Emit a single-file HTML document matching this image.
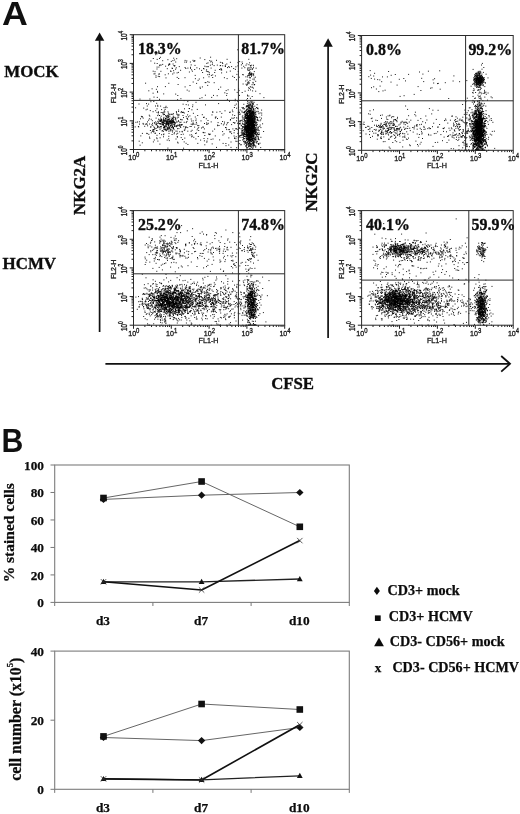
<!DOCTYPE html>
<html lang="en"><head><meta charset="utf-8"><title>Figure</title>
<style>html,body{margin:0;padding:0;background:#fff}svg{display:block;filter:grayscale(1)}</style>
</head><body>
<svg width="520" height="814" viewBox="0 0 520 814">
<rect width="520" height="814" fill="#fff"/>
<g font-family='"Liberation Sans", "DejaVu Sans", sans-serif' font-weight="bold" font-size="32.5" fill="#111">
<text transform="translate(1.9 25.4) scale(1.1 1)">A</text>
<text transform="translate(1.4 452.2) scale(0.93 1)">B</text>
</g>
<g font-family='"Liberation Serif", "DejaVu Serif", serif' font-weight="bold" font-size="16.9" fill="#0c0c0c" stroke="#0c0c0c" stroke-width=".35">
<text x="4.2" y="76.6">MOCK</text>
<text x="2.6" y="269.3">HCMV</text>
<text transform="translate(85.2 214.9) rotate(-90)">NKG2A</text>
<text transform="translate(317.3 211.6) rotate(-90)">NKG2C</text>
</g>
<text x="292.6" y="388.8" text-anchor="middle" font-family='"Liberation Serif", "DejaVu Serif", serif' font-weight="bold" font-size="16.8" fill="#0c0c0c" stroke="#0c0c0c" stroke-width=".35">CFSE</text>
<path d="M99.6 332V39" stroke="#111" stroke-width="1.7" fill="none"/>
<path d="M99.6 32.6L104.3 40.8H94.9Z" fill="#111"/>
<path d="M328.1 338V45" stroke="#111" stroke-width="1.7" fill="none"/>
<path d="M328.1 38.2L332.8 46.8H323.4Z" fill="#111"/>
<path d="M105.4 363.8H509.6" stroke="#111" stroke-width="1.8" fill="none"/>
<path d="M501.2 356.0L510 363.8L501.2 371.6" stroke="#111" stroke-width="1.8" fill="none"/>
<g>
<path d="M246.4 123.2h1M253.5 132.4h1M246.0 127.8h1M251.8 115.8h1M246.4 140.5h1M252.6 122.2h1M255.2 117.0h1M250.0 129.9h1M258.6 130.1h1M247.8 138.9h1M250.6 125.6h1M249.2 127.8h1M251.2 120.0h1M253.8 124.9h1M244.6 119.9h1M245.7 128.9h1M245.6 127.1h1M247.8 124.9h1M260.9 127.6h1M253.0 140.8h1M249.4 120.3h1M250.0 123.3h1M250.6 137.5h1M252.1 135.5h1M256.3 132.3h1M252.5 127.1h1M253.4 133.3h1M253.5 128.4h1M254.4 120.7h1M250.8 135.2h1M252.8 122.3h1M255.6 131.0h1M252.1 121.9h1M251.2 125.0h1M250.9 133.3h1M247.0 131.2h1M252.2 111.5h1M253.4 116.2h1M252.8 119.9h1M250.9 119.1h1M256.0 130.5h1M248.1 106.9h1M251.1 117.1h1M253.1 138.8h1M258.1 108.8h1M250.9 119.3h1M250.7 136.2h1M249.9 123.2h1M253.9 119.8h1M250.5 113.1h1M247.9 118.9h1M253.9 130.1h1M244.5 136.5h1M251.1 121.7h1M255.3 137.5h1M250.3 120.4h1M249.8 149.5h1M252.9 103.2h1M253.5 136.6h1M249.0 124.8h1M258.3 120.7h1M250.7 111.0h1M250.0 107.9h1M248.1 132.0h1M252.6 112.4h1M252.4 124.0h1M244.4 134.5h1M248.3 132.6h1M252.2 130.6h1M252.8 126.3h1M249.2 125.9h1M251.7 118.2h1M248.8 129.5h1M245.9 110.5h1M255.0 129.0h1M248.8 139.9h1M250.8 125.0h1M257.3 124.6h1M247.8 149.5h1M254.8 125.2h1M245.1 125.3h1M245.1 91.2h1M253.9 121.2h1M249.7 149.2h1M249.9 143.2h1M252.2 149.2h1M247.4 114.5h1M255.6 139.3h1M245.4 118.0h1M253.0 137.3h1M248.1 134.3h1M246.5 134.1h1M254.3 120.0h1M256.9 128.0h1M249.9 137.3h1M249.9 140.7h1M244.6 119.9h1M254.9 118.5h1M254.6 124.5h1M248.0 126.2h1M249.1 138.6h1M244.9 142.4h1M250.3 125.6h1M248.8 112.3h1M250.9 121.1h1M254.2 135.6h1M244.0 119.3h1M248.1 113.6h1M251.4 116.7h1M252.8 148.6h1M252.6 134.1h1M247.9 131.6h1M252.8 118.0h1M253.6 144.3h1M248.4 149.5h1M250.0 120.9h1M247.8 124.6h1M251.0 116.7h1M247.7 135.7h1M247.8 109.0h1M253.8 128.4h1M251.0 125.9h1M251.0 129.3h1M249.2 140.1h1M248.2 110.1h1M252.0 126.4h1M249.6 126.5h1M251.4 133.8h1M250.9 124.6h1M247.9 135.3h1M247.1 138.1h1M253.2 149.5h1M249.4 133.4h1M248.3 126.1h1M253.9 126.3h1M249.9 133.4h1M249.9 117.7h1M249.0 139.0h1M246.2 138.5h1M245.8 115.8h1M251.4 129.6h1M255.0 133.9h1M252.7 118.8h1M245.3 143.2h1M247.3 117.7h1M254.5 139.8h1M253.7 131.1h1M249.0 132.8h1M249.3 145.9h1M247.1 139.9h1M251.9 105.5h1M259.1 130.6h1M244.8 131.3h1M247.3 106.6h1M252.1 134.6h1M253.3 121.6h1M245.1 132.6h1M249.5 126.9h1M250.7 130.6h1M250.9 133.2h1M247.4 111.5h1M251.5 122.6h1M245.2 128.8h1M252.9 140.5h1M253.8 131.1h1M251.6 128.5h1M251.0 114.7h1M249.0 111.0h1M247.8 136.7h1M252.6 138.1h1M249.1 117.7h1M254.2 145.5h1M251.9 107.7h1M254.1 129.6h1M248.4 130.2h1M246.6 129.8h1M249.7 128.6h1M254.1 129.5h1M245.6 116.3h1M246.9 131.7h1M249.9 130.7h1M247.1 129.7h1M257.3 133.4h1M249.9 115.5h1M252.7 119.2h1M253.1 147.4h1M247.5 125.8h1M251.9 113.7h1M251.8 129.6h1M250.4 129.3h1M251.1 120.1h1M249.2 135.5h1M247.6 115.8h1M254.4 116.9h1M253.1 118.5h1M250.3 120.3h1M246.9 129.2h1M247.9 119.6h1M248.4 128.2h1M251.6 113.1h1M247.8 136.8h1M252.9 138.5h1M251.8 133.0h1M250.0 145.9h1M252.6 132.3h1M247.4 105.7h1M252.6 90.9h1M251.6 130.7h1M250.6 110.5h1M250.2 122.5h1M252.0 136.5h1M250.7 132.3h1M246.3 118.1h1M252.4 126.3h1M247.4 147.8h1M251.9 128.1h1M244.9 127.7h1M245.4 127.4h1M250.8 123.4h1M251.0 125.3h1M246.6 131.1h1M248.7 129.5h1M251.2 120.7h1M255.6 149.5h1M251.6 129.2h1M257.6 117.5h1M245.0 123.0h1M248.6 116.8h1M246.9 128.2h1M249.9 128.1h1M248.4 146.1h1M251.8 116.8h1M250.1 137.6h1M251.0 121.3h1M249.7 127.3h1M254.8 138.7h1M248.5 146.8h1M248.1 134.8h1M247.2 134.3h1M256.1 129.1h1M249.9 104.4h1M250.1 145.0h1M251.6 136.8h1M255.6 140.0h1M248.4 143.7h1M250.6 137.6h1M250.1 131.0h1M248.3 117.4h1M253.3 126.5h1M247.4 138.2h1M251.2 102.4h1M248.8 135.2h1M248.1 138.4h1M247.2 129.2h1M254.9 127.1h1M248.7 143.8h1M251.0 127.4h1M246.4 138.3h1M250.2 116.7h1M252.3 125.0h1M249.3 123.8h1M250.3 104.7h1M246.7 130.9h1M254.4 129.9h1M254.9 127.6h1M250.8 130.9h1M245.9 137.1h1M257.4 120.4h1M252.2 117.3h1M252.1 116.6h1M249.4 129.4h1M253.5 130.8h1M246.0 129.4h1M248.6 120.8h1M248.0 138.1h1M249.2 111.1h1M250.1 125.5h1M250.3 124.1h1M253.3 112.7h1M245.0 113.1h1M250.3 130.4h1M258.0 128.9h1M256.6 117.1h1M247.0 122.1h1M252.7 128.4h1M242.8 130.7h1M249.7 138.6h1M256.2 129.6h1M249.0 130.2h1M247.8 135.1h1M250.6 123.9h1M248.7 128.0h1M245.8 121.7h1M247.9 124.9h1M247.4 132.4h1M251.0 139.6h1M258.2 127.5h1M250.1 134.7h1M255.4 112.8h1M251.3 141.2h1M248.7 120.8h1M248.7 139.3h1M246.5 135.1h1M250.3 133.8h1M250.4 98.3h1M256.0 137.8h1M251.4 126.2h1M249.9 116.3h1M249.2 130.5h1M249.1 128.2h1M254.4 119.1h1M246.0 131.7h1M247.7 118.7h1M251.0 117.9h1M250.1 146.8h1M251.8 124.8h1M251.9 140.6h1M250.6 134.2h1M248.1 123.5h1M251.4 136.3h1M244.8 149.5h1M248.5 115.5h1M250.1 149.5h1M247.5 122.8h1M255.7 115.0h1M251.5 125.1h1M246.9 131.8h1M249.2 135.1h1M250.5 131.2h1M251.4 112.3h1M252.7 122.8h1M249.5 142.8h1M249.9 121.5h1M247.1 114.2h1M249.2 123.3h1M249.2 140.1h1M256.9 139.1h1M253.3 132.9h1M251.2 135.4h1M249.0 117.6h1M256.6 135.9h1M250.3 117.3h1M248.3 119.8h1M247.8 120.9h1M251.7 114.6h1M251.5 139.4h1M252.4 138.5h1M252.7 111.5h1M252.2 132.8h1M254.1 125.4h1M246.3 130.8h1M254.9 130.3h1M250.7 130.7h1M244.9 132.4h1M251.4 125.0h1M249.7 149.2h1M254.2 119.7h1M253.6 113.7h1M248.9 133.4h1M251.3 109.8h1M244.9 129.5h1M248.0 121.3h1M255.0 130.2h1M246.3 126.6h1M249.4 143.1h1M253.1 132.5h1M252.5 140.7h1M253.8 142.0h1M253.7 145.8h1M254.7 131.0h1M245.3 129.5h1M251.4 137.3h1M248.7 124.3h1M248.9 122.7h1M251.3 116.7h1M248.1 100.7h1M252.9 123.9h1M253.8 117.3h1M250.6 133.5h1M253.6 122.7h1M244.2 138.5h1M251.8 126.0h1M251.2 120.5h1M250.8 110.8h1M248.4 131.2h1M251.3 119.4h1M252.8 111.7h1M248.8 115.1h1M251.8 137.9h1M249.9 105.6h1M252.8 132.0h1M242.6 134.7h1M248.0 126.3h1M257.7 119.4h1M251.3 136.8h1M246.5 129.3h1M248.8 96.0h1M249.0 133.5h1M253.9 126.3h1M246.3 113.8h1M249.3 140.8h1M251.3 122.1h1M249.2 119.9h1M252.9 136.2h1M243.7 149.5h1M249.9 114.4h1M253.5 112.7h1M256.3 126.9h1M253.7 142.9h1M252.5 123.1h1M250.0 131.7h1M246.7 125.7h1M254.4 130.9h1M252.0 134.0h1M251.1 137.5h1M251.5 129.4h1M251.3 133.4h1M246.5 130.5h1M253.6 110.8h1M249.3 118.9h1M252.7 123.1h1M245.3 123.8h1M247.2 115.0h1M252.8 120.7h1M242.2 120.7h1M252.6 140.3h1M253.4 126.3h1M249.7 134.5h1M247.0 131.6h1M260.2 125.0h1M251.0 133.8h1M248.3 132.8h1M247.5 118.1h1M249.4 118.2h1M246.6 117.5h1M250.2 120.2h1M250.0 136.3h1M254.2 131.6h1M249.8 136.3h1M251.0 131.1h1M251.2 123.6h1M248.1 141.7h1M251.7 117.6h1M252.5 138.9h1M252.2 123.1h1M251.2 122.7h1M249.3 124.9h1M253.3 132.3h1M245.7 128.2h1M250.9 146.2h1M248.1 121.0h1M249.8 126.2h1M246.3 117.7h1M255.9 129.2h1M247.9 139.1h1M253.2 126.0h1M247.7 114.6h1M252.8 120.9h1M244.6 128.2h1M252.3 139.8h1M253.3 112.3h1M253.6 134.6h1M248.0 117.4h1M253.5 114.4h1M254.2 128.1h1M249.0 146.3h1M252.8 103.6h1M248.8 132.0h1M252.4 123.2h1M245.9 134.5h1M246.8 106.2h1M248.0 118.3h1M256.5 107.5h1M254.9 110.3h1M246.3 130.7h1M248.0 130.1h1M258.7 144.5h1M252.1 139.9h1M254.6 113.7h1M248.7 105.7h1M250.5 113.6h1M251.3 132.9h1M249.1 128.3h1M252.3 125.8h1M257.9 129.1h1M248.8 134.5h1M247.8 142.0h1M247.1 117.7h1M250.5 128.9h1M251.4 116.1h1M252.3 119.1h1M248.5 129.8h1M247.8 128.1h1M247.7 131.0h1M249.7 129.3h1M249.4 132.2h1M254.5 130.6h1M247.1 125.1h1M246.8 138.2h1M250.6 144.3h1M240.0 124.1h1M253.6 144.4h1M247.4 121.2h1M243.9 136.1h1M246.4 129.2h1M244.0 117.9h1M249.8 124.0h1M249.2 149.0h1M249.8 141.0h1M250.3 135.9h1M249.3 129.3h1M252.8 119.2h1M247.1 127.3h1M255.0 122.0h1M248.0 128.4h1M249.2 117.4h1M250.4 123.2h1M257.4 141.4h1M247.0 145.0h1M245.2 118.3h1M251.2 110.3h1M244.0 136.2h1M254.9 116.5h1M253.1 118.1h1M250.4 127.2h1M250.4 118.4h1M249.8 123.8h1M255.0 138.7h1M247.9 121.3h1M249.5 128.7h1M257.0 122.8h1M249.0 115.8h1M258.4 138.6h1M248.1 125.9h1M248.3 104.7h1M252.0 131.2h1M251.9 135.3h1M248.4 126.0h1M258.0 149.5h1M251.7 113.2h1M252.7 107.3h1M251.7 125.6h1M249.9 136.0h1M255.6 139.3h1M249.9 132.5h1M247.8 149.5h1M249.1 125.7h1M250.8 118.4h1M249.8 133.7h1M251.3 120.2h1M247.4 142.8h1M247.0 116.2h1M253.5 136.3h1M250.7 118.4h1M254.6 133.9h1M249.5 112.6h1M258.0 111.3h1M246.6 122.5h1M249.3 127.7h1M248.2 132.1h1M250.3 108.5h1M252.5 122.7h1M250.4 134.9h1M249.6 114.3h1M253.0 106.8h1M251.1 127.3h1M245.1 123.0h1M244.8 111.4h1M248.3 127.1h1M246.0 132.2h1M247.3 115.4h1M251.1 139.3h1M244.1 127.8h1M248.7 138.6h1M252.2 129.0h1M250.7 133.2h1M248.5 131.9h1M245.2 120.6h1M251.6 144.9h1M250.6 115.2h1M251.1 113.7h1M249.4 127.1h1M246.1 136.5h1M244.4 136.4h1M251.1 121.7h1M254.0 125.8h1M247.1 122.7h1M249.8 108.7h1M256.6 117.2h1M246.7 132.5h1M250.9 134.5h1M252.0 120.0h1M253.0 124.8h1M247.5 135.8h1M249.9 113.4h1M255.4 117.0h1M251.5 120.1h1M252.9 113.8h1M253.1 143.0h1M253.4 123.1h1M248.8 121.7h1M251.2 127.7h1M244.9 126.0h1M252.1 127.6h1M245.2 122.4h1M252.6 125.2h1M251.7 130.8h1M248.2 121.7h1M249.2 125.2h1M260.8 119.8h1M250.7 143.9h1M250.6 119.3h1M248.0 129.6h1M243.1 121.4h1M248.4 120.0h1M254.7 128.8h1M253.5 124.5h1M249.6 130.0h1M247.6 113.9h1M253.1 137.5h1M253.0 134.7h1M245.5 114.7h1M246.2 114.9h1M250.9 117.8h1M251.9 115.2h1M251.4 121.1h1M251.1 115.8h1M249.0 116.6h1M255.1 127.8h1M251.7 132.4h1M249.4 124.4h1M249.2 136.3h1M250.2 125.1h1M251.3 119.8h1M244.6 112.5h1M249.8 135.1h1M249.1 122.5h1M253.1 130.9h1M250.8 143.6h1M250.8 128.3h1M248.9 118.0h1M256.1 116.4h1M247.8 111.3h1M249.2 127.5h1M248.4 122.4h1M252.1 125.6h1M249.6 128.6h1M249.0 117.1h1M248.6 128.6h1M249.6 134.8h1M249.6 142.2h1M251.6 121.5h1M249.3 111.1h1M247.7 121.4h1M251.8 132.6h1M249.5 117.9h1M250.5 124.2h1M254.8 124.9h1M245.0 134.7h1M253.0 128.4h1M246.9 147.5h1M251.3 111.7h1M246.3 149.4h1M251.9 132.7h1M249.4 130.4h1M247.4 122.6h1M253.2 123.4h1M248.5 116.4h1M250.0 121.1h1M247.3 120.4h1M252.7 113.9h1M250.4 122.6h1M248.5 118.0h1M252.8 116.0h1M249.1 139.6h1M250.1 129.2h1M247.9 120.9h1M253.3 123.1h1M253.8 123.0h1M247.2 133.1h1M249.2 120.1h1M253.2 125.7h1M253.5 135.5h1M249.9 111.8h1M251.7 116.4h1M244.3 144.1h1M247.6 116.8h1M255.5 133.4h1M247.2 137.4h1M247.5 121.4h1M249.3 107.9h1M252.6 134.1h1M251.1 128.7h1M252.8 117.9h1M249.2 118.0h1M252.1 128.0h1M251.1 120.2h1M249.3 134.0h1M254.3 127.0h1M248.4 122.4h1M245.6 126.5h1M246.0 131.4h1M244.7 134.4h1M253.1 128.9h1M246.5 109.4h1M248.3 112.0h1M248.7 141.9h1M256.1 131.4h1M252.7 115.0h1M246.2 126.3h1M248.5 120.9h1M250.3 139.9h1M250.5 119.3h1M249.4 121.4h1M248.6 127.6h1M251.4 125.6h1M254.3 117.4h1M253.0 119.7h1M250.8 138.8h1M253.7 109.4h1M251.0 129.6h1M250.2 114.8h1M251.2 137.0h1M249.8 134.8h1M249.7 136.1h1M247.6 112.0h1M253.6 143.3h1M247.2 131.6h1M249.1 141.0h1M253.1 143.3h1M252.5 120.0h1M249.2 133.7h1M250.5 125.5h1M243.7 139.7h1M252.0 128.1h1M249.0 137.1h1M248.1 134.8h1M259.1 139.7h1M255.1 122.2h1M251.0 125.1h1M249.1 110.8h1M251.9 127.3h1M249.9 125.0h1M246.7 130.3h1M248.4 120.8h1M252.2 145.9h1M249.6 117.0h1M246.3 139.0h1M253.5 128.3h1M248.9 139.3h1M250.9 132.7h1M251.0 122.7h1M252.5 130.3h1M248.7 126.7h1M250.0 125.3h1M248.7 129.4h1M248.5 133.0h1M250.8 115.4h1M248.6 121.1h1M251.4 125.9h1M252.5 132.7h1M252.1 124.0h1M239.4 123.4h1M252.2 107.3h1M247.0 126.1h1M251.4 136.8h1M254.1 122.5h1M247.8 139.1h1M249.0 103.0h1M257.1 149.5h1M244.6 120.3h1M250.0 133.5h1M252.2 126.1h1M251.2 124.4h1M246.9 113.7h1M248.9 115.6h1M252.5 126.6h1M250.8 127.5h1M244.5 130.3h1M251.7 143.4h1M245.6 116.1h1M252.9 142.7h1M251.8 127.5h1M253.4 130.3h1M249.6 134.7h1M250.9 128.3h1M248.3 130.6h1M247.9 120.7h1M247.1 142.8h1M247.3 116.0h1M248.7 120.5h1M252.6 132.2h1M252.7 121.9h1M250.2 134.2h1M250.1 140.1h1M249.4 133.0h1M251.7 123.6h1M248.3 118.3h1M254.1 126.4h1M248.0 121.9h1M242.6 133.0h1M252.2 106.7h1M248.0 111.5h1M257.7 107.9h1M242.8 115.8h1M250.9 116.7h1M249.8 133.3h1M249.6 111.7h1M253.0 130.1h1M251.5 118.2h1M252.1 127.5h1M248.2 134.7h1M248.9 132.7h1M245.3 141.5h1M253.1 138.5h1M246.1 127.5h1M254.9 114.2h1M249.0 137.7h1M248.6 136.4h1M248.6 122.2h1M246.9 135.1h1M249.5 127.4h1M247.9 135.2h1M246.7 134.8h1M252.0 129.6h1M240.4 120.8h1M250.1 136.0h1M245.0 115.1h1M257.1 104.7h1M248.0 126.7h1M252.8 139.7h1M255.9 134.5h1M251.4 138.9h1M251.5 127.3h1M253.8 139.0h1M250.3 108.4h1M246.5 123.5h1M251.7 132.2h1M249.4 112.5h1M254.0 121.3h1M251.2 138.8h1M250.6 108.6h1M253.7 141.1h1M243.7 134.0h1M250.8 132.8h1M249.3 123.6h1M253.2 124.9h1M254.3 141.8h1M251.8 122.7h1M245.5 114.2h1M245.2 142.0h1M258.9 113.7h1M251.5 113.1h1M254.0 138.8h1M251.9 112.6h1M249.8 126.3h1M248.8 119.5h1M248.5 133.2h1M246.4 136.7h1M251.0 122.2h1M249.1 138.0h1M251.4 123.4h1M254.4 132.2h1M249.0 121.8h1M255.2 127.6h1M250.0 136.8h1M249.1 117.3h1M253.1 115.5h1M245.0 118.4h1M247.3 120.9h1M242.6 128.1h1M247.5 113.9h1M250.7 113.6h1M248.9 106.6h1M248.9 107.4h1M248.7 137.3h1M253.2 131.3h1M250.1 141.1h1M249.2 125.9h1M248.0 123.0h1M242.9 117.8h1M249.0 111.8h1M249.2 133.9h1M248.8 124.2h1M252.2 131.9h1M247.7 122.6h1M253.0 145.3h1M246.9 134.1h1M255.9 114.2h1M252.9 121.9h1M246.7 115.4h1M248.9 135.4h1M256.6 142.2h1M254.8 125.0h1M247.3 125.2h1M247.6 125.1h1M248.2 139.5h1M258.9 132.3h1M253.5 127.6h1M252.5 140.3h1M253.6 122.4h1M246.5 118.3h1M252.2 96.5h1M251.1 117.5h1M252.3 119.0h1M250.2 131.4h1M252.6 114.2h1M246.5 139.0h1M250.2 108.3h1M249.6 144.9h1M252.9 119.2h1M256.6 125.1h1M256.7 134.6h1M253.3 125.7h1M246.4 130.0h1M254.6 115.4h1M249.1 115.5h1M253.3 117.7h1M251.2 123.9h1M247.6 127.8h1M250.7 134.8h1M249.4 125.3h1M251.0 116.0h1M247.0 131.2h1M251.2 131.0h1M251.4 132.0h1M254.2 129.5h1M246.6 119.2h1M255.7 147.2h1M249.9 126.3h1M253.7 111.4h1M249.8 143.4h1M252.5 116.5h1M251.8 126.2h1M247.7 101.6h1M246.4 142.8h1M253.5 124.1h1M252.5 123.3h1M255.8 112.2h1M248.5 116.6h1M246.5 144.9h1M254.2 131.5h1M243.3 127.2h1M248.2 121.7h1M250.1 135.1h1M248.0 119.0h1M247.3 125.7h1M247.1 122.3h1M256.1 121.1h1M253.9 122.3h1M247.2 130.2h1M250.6 122.5h1M248.4 120.6h1M248.0 126.4h1M250.3 139.1h1M253.6 126.5h1M250.7 127.4h1M243.5 141.7h1M247.4 116.7h1M248.5 120.7h1M247.0 135.8h1M248.8 116.0h1M245.0 128.9h1M251.6 125.6h1M250.3 118.9h1M251.3 137.5h1M252.4 135.2h1M249.2 111.9h1M258.2 111.9h1M251.7 135.1h1M247.9 109.7h1M251.4 141.5h1M255.4 121.0h1M254.6 122.8h1M243.3 134.7h1M249.9 128.8h1M255.2 134.0h1M250.0 127.6h1M250.0 137.8h1M246.4 149.5h1M251.4 129.2h1M251.0 138.0h1M250.3 137.2h1M247.0 123.5h1M252.4 121.0h1M250.2 131.1h1M254.8 114.1h1M248.3 138.4h1M251.5 123.7h1M247.4 103.3h1M243.6 135.7h1M251.1 116.7h1M244.3 131.6h1M255.0 112.4h1M249.5 126.7h1M247.5 122.9h1M246.9 148.2h1M245.4 126.5h1M246.0 115.5h1M254.5 116.7h1M252.4 115.2h1M251.2 118.0h1M251.8 118.9h1M247.0 133.9h1M247.1 118.4h1M252.0 135.3h1M247.1 133.1h1M253.1 128.2h1M249.5 134.2h1M249.9 110.4h1M248.1 130.7h1M255.8 119.5h1M246.6 115.7h1M246.2 121.2h1M242.1 137.4h1M253.3 133.2h1M248.0 126.5h1M250.3 131.9h1M248.1 108.3h1M255.2 123.6h1M246.6 132.5h1M249.4 122.0h1M255.5 132.5h1M250.8 131.5h1M250.8 134.2h1M251.5 115.0h1M249.0 130.5h1M250.7 140.7h1M256.2 141.0h1M249.2 136.2h1M255.2 132.1h1M248.7 107.4h1M249.9 135.1h1M250.3 125.0h1M247.9 128.9h1M249.6 119.5h1M252.8 118.4h1M249.9 118.7h1M249.6 115.0h1M251.6 131.5h1M254.3 142.8h1M247.2 135.3h1M249.9 139.8h1M246.4 146.7h1M250.7 135.0h1M257.4 119.0h1M246.6 113.3h1M250.7 115.8h1M246.7 115.0h1M253.9 131.4h1M247.6 131.0h1M251.2 102.0h1M256.2 111.4h1M249.6 130.4h1M251.5 129.9h1M248.8 129.2h1M253.1 127.7h1M251.1 129.8h1M249.7 130.5h1M254.4 124.6h1M255.2 128.8h1M253.8 141.4h1M249.0 127.7h1M248.3 128.2h1M247.3 128.7h1M248.2 127.1h1M249.4 137.4h1M249.0 126.7h1M246.2 126.0h1M254.4 129.4h1M252.1 120.6h1M247.7 113.3h1M258.4 137.7h1M257.3 134.4h1M255.0 145.9h1M254.0 125.6h1M246.2 135.6h1M246.9 136.4h1M251.5 128.9h1M242.2 130.3h1M251.8 126.1h1M255.8 146.1h1M251.1 126.7h1M252.7 141.0h1M246.1 128.8h1M250.6 145.9h1M251.5 127.1h1M252.7 149.5h1M251.9 136.3h1M248.8 118.9h1M255.8 125.5h1M250.0 113.4h1M247.4 128.6h1M248.7 137.3h1M251.0 105.9h1M251.1 121.9h1M250.2 115.3h1M250.9 136.2h1M250.6 112.1h1M250.1 114.6h1M250.1 106.0h1M251.2 120.2h1M249.4 118.4h1M249.6 142.4h1M251.3 139.6h1M255.1 118.8h1M250.4 119.9h1M241.9 111.1h1M248.2 120.1h1M258.6 143.8h1M249.0 123.5h1M251.7 144.6h1M247.3 111.6h1M248.4 121.3h1M245.9 136.5h1M244.4 124.2h1M254.1 126.1h1M249.4 124.5h1M251.8 130.1h1M252.1 106.7h1M257.5 133.0h1M246.2 107.1h1M253.5 114.4h1M252.3 129.4h1M253.5 115.4h1M254.1 138.3h1M253.7 130.7h1M249.2 123.4h1M249.2 102.9h1M252.2 124.2h1M249.7 124.4h1M249.6 121.0h1M253.1 118.3h1M246.3 130.5h1M250.6 139.7h1M251.6 128.5h1M250.5 123.0h1M248.3 110.8h1M253.7 132.7h1M251.8 119.3h1M247.9 130.7h1M252.6 149.5h1M246.1 123.6h1M252.3 136.6h1M253.1 104.0h1M251.0 127.4h1M250.6 137.5h1M252.1 125.1h1M252.7 112.2h1M250.5 125.1h1M251.4 108.9h1M245.6 127.0h1M248.3 125.7h1M253.0 126.3h1M252.7 125.0h1M248.0 133.8h1M245.9 124.7h1M249.1 118.3h1M253.5 136.2h1M246.8 120.7h1M247.5 124.8h1M252.3 131.0h1M256.1 135.0h1M251.7 131.3h1M241.0 128.8h1M249.8 121.0h1M249.9 134.6h1M248.7 130.1h1M252.8 129.9h1M254.3 118.1h1M247.9 116.3h1M243.0 126.7h1M247.2 128.0h1M254.1 127.0h1M249.8 113.7h1M247.9 135.6h1M253.5 120.6h1M245.7 125.4h1M252.9 128.7h1M249.0 125.6h1M251.0 134.3h1M253.0 143.4h1M250.1 104.8h1M246.9 127.4h1M243.0 135.6h1M246.6 126.4h1M248.7 107.9h1M247.4 127.3h1M251.0 120.3h1M253.2 143.2h1M257.4 130.2h1M248.0 144.1h1M248.9 145.4h1M250.9 133.2h1M251.4 135.2h1M250.6 103.9h1M254.1 125.3h1M247.2 111.9h1M244.9 141.7h1M254.5 133.2h1M254.7 121.1h1M257.4 108.5h1M252.2 133.6h1M252.2 112.5h1M250.8 149.5h1M249.1 130.8h1M250.1 130.7h1M254.0 140.2h1M251.7 147.6h1M243.3 137.5h1M247.9 136.3h1M248.1 120.7h1M252.2 126.2h1M251.0 134.3h1M247.1 141.8h1M249.0 138.8h1M249.3 119.6h1M252.1 113.3h1M247.3 149.5h1M246.7 106.4h1M252.6 131.6h1M254.6 131.4h1M255.7 131.3h1M249.0 119.9h1M246.6 128.8h1M256.5 122.6h1M246.8 129.7h1M250.2 134.9h1M251.6 114.2h1M250.5 117.9h1M251.3 125.7h1M247.9 117.1h1M254.7 131.8h1M247.5 121.7h1M250.6 115.5h1M251.9 128.5h1M245.8 120.7h1M250.6 140.2h1M245.5 146.0h1M252.3 131.6h1M239.6 136.2h1M248.3 128.3h1M250.4 130.6h1M252.7 116.5h1M249.6 110.8h1M249.9 136.1h1M250.8 142.0h1M249.3 138.1h1M248.9 125.1h1M242.4 123.1h1M251.1 129.4h1M252.6 123.6h1M249.1 137.5h1M252.7 119.3h1M245.5 134.7h1M246.5 118.5h1M248.4 140.1h1M255.1 122.4h1M251.0 124.6h1M249.7 126.8h1M253.2 122.6h1M248.8 126.2h1M256.3 132.9h1M246.0 126.0h1M246.6 100.0h1M252.3 121.1h1M251.5 106.8h1M247.0 127.7h1M244.9 114.3h1M250.0 108.8h1M249.4 138.0h1M248.0 118.8h1M247.6 124.5h1M247.9 134.6h1M248.5 110.3h1M246.8 123.9h1M252.9 134.9h1M245.4 111.6h1M255.9 129.8h1M246.4 118.2h1M250.1 135.8h1M249.0 149.5h1M247.6 139.9h1M246.0 121.1h1M251.1 109.6h1M241.6 134.1h1M247.5 113.4h1M253.6 126.0h1M250.6 135.1h1M248.6 131.9h1M242.1 107.5h1M252.6 105.6h1M254.3 122.1h1M253.0 144.9h1M247.0 118.4h1M249.0 144.1h1M250.2 140.7h1M250.2 101.2h1M242.8 130.4h1M253.8 124.3h1M251.4 136.2h1M249.0 105.3h1M242.9 126.6h1M254.8 106.2h1M257.7 136.8h1M247.5 98.5h1M247.1 119.8h1M244.7 133.5h1M230.9 131.9h1M235.9 138.7h1M243.8 104.3h1M255.1 118.1h1M246.8 144.2h1M253.3 136.0h1M249.4 110.3h1M248.9 124.4h1M243.7 108.8h1M253.6 113.7h1M260.7 147.6h1M250.3 114.7h1M252.3 119.6h1M253.2 146.3h1M249.6 107.1h1M249.8 126.9h1M255.6 149.5h1M252.7 102.0h1M248.5 136.0h1M253.6 130.6h1M244.8 121.6h1M239.3 114.3h1M242.3 132.0h1M254.9 124.5h1M251.8 104.0h1M260.0 93.7h1M246.5 110.7h1M239.4 112.4h1M258.6 134.6h1M253.2 111.8h1M249.1 133.3h1M260.0 143.2h1M251.2 110.2h1M251.7 101.0h1M259.8 117.2h1M261.7 113.1h1M242.1 128.8h1M251.9 121.2h1M239.1 90.6h1M240.0 140.5h1M253.1 121.1h1M260.1 120.8h1M252.6 113.4h1M245.4 142.9h1M247.1 109.2h1M248.3 105.8h1M246.6 113.0h1M250.3 111.7h1M250.2 121.1h1M247.1 105.8h1M249.9 116.7h1M254.4 137.0h1M244.8 124.6h1M258.5 139.3h1M243.5 138.3h1M247.6 139.5h1M244.8 116.3h1M243.1 124.1h1M242.5 126.9h1M253.6 149.5h1M250.5 120.7h1M249.8 120.2h1M252.9 142.8h1M249.4 114.6h1M258.6 143.7h1M246.3 143.8h1M250.1 139.5h1M243.8 112.7h1M264.8 149.5h1M260.9 137.3h1M254.6 118.8h1M258.2 126.9h1M244.8 124.8h1M255.3 136.9h1M252.8 124.0h1M251.4 123.8h1M254.1 112.2h1M248.3 129.0h1M236.2 136.7h1M240.3 114.1h1M243.2 134.0h1M253.6 109.5h1M258.1 136.3h1M251.8 108.4h1M244.7 127.2h1M242.3 133.2h1M254.8 122.5h1M247.8 132.0h1M260.1 112.9h1M242.2 92.5h1M247.5 126.1h1M247.0 132.1h1M254.4 144.8h1M250.4 128.6h1M261.5 118.2h1M253.0 116.2h1M254.1 122.1h1M234.3 117.7h1M248.1 113.6h1M252.2 131.8h1M244.4 138.6h1M252.1 125.4h1M244.5 129.1h1M252.5 133.5h1M249.4 132.6h1M233.4 122.5h1M250.6 112.1h1M258.7 134.3h1M254.1 120.0h1M250.7 111.8h1M255.9 142.1h1M259.8 126.4h1M245.9 133.8h1M248.8 140.1h1M257.3 117.6h1M244.4 111.9h1M251.8 122.6h1M256.5 125.2h1M248.5 116.5h1M238.4 141.2h1M253.5 108.4h1M239.4 123.6h1M245.9 127.9h1M254.1 102.3h1M261.6 110.1h1M254.4 121.7h1M238.2 118.1h1M242.5 139.9h1M251.0 146.6h1M261.7 115.1h1M252.6 116.8h1M251.8 122.9h1M254.8 133.5h1M252.0 121.4h1M255.3 139.7h1M251.8 125.7h1M254.3 116.0h1M251.4 117.1h1M253.1 104.1h1M252.2 116.1h1M244.2 126.8h1M255.2 108.7h1M243.9 124.4h1M248.5 123.0h1M247.1 129.9h1M249.9 122.0h1M256.8 136.1h1M244.0 112.4h1M253.5 126.5h1M242.8 108.6h1M243.3 107.5h1M251.9 125.9h1M249.2 112.0h1M250.3 148.8h1M245.7 149.5h1M252.8 110.5h1M256.9 143.2h1M263.9 97.6h1M249.5 149.5h1M244.6 108.8h1M263.6 131.5h1M238.4 137.7h1M262.6 123.8h1M241.2 149.5h1M254.3 112.2h1M247.2 126.7h1M250.7 128.7h1M246.7 132.1h1M246.4 106.1h1M252.8 109.1h1M262.1 149.5h1M249.8 110.0h1M248.9 132.4h1M252.8 131.4h1M244.8 128.2h1M250.6 123.7h1M256.0 123.5h1M247.2 80.0h1M248.8 127.7h1M249.3 133.9h1M240.1 121.0h1M259.6 149.5h1M245.4 117.7h1M245.9 116.2h1M249.9 139.6h1M248.8 131.2h1M252.9 104.7h1M251.1 74.5h1M249.2 73.7h1M250.3 86.7h1M247.5 95.1h1M251.8 75.0h1M253.5 74.3h1M252.5 87.2h1M245.7 81.0h1M249.8 73.5h1M250.3 77.7h1M250.8 74.4h1M251.2 73.8h1M249.3 77.1h1M246.8 85.4h1M249.9 72.9h1M248.7 87.7h1M253.2 83.1h1M246.1 84.2h1M247.5 95.9h1M249.6 62.8h1M248.7 83.0h1M253.7 75.7h1M250.4 65.5h1M247.5 76.9h1M252.0 74.8h1M247.5 83.9h1M255.4 77.2h1M250.0 67.7h1M245.9 76.8h1M246.0 65.2h1M248.0 75.5h1M248.2 75.4h1M251.5 76.3h1M249.8 74.4h1M250.0 80.4h1M252.3 69.5h1M247.1 84.5h1M248.6 74.0h1M246.9 63.9h1M250.8 75.1h1M253.0 82.4h1M251.6 73.1h1M254.1 84.8h1M254.3 71.6h1M251.3 67.8h1M250.0 77.9h1M252.9 79.2h1M253.5 65.3h1M251.2 74.9h1M249.0 83.7h1M254.5 84.6h1M250.9 74.0h1M248.3 81.8h1M248.8 59.3h1M251.7 65.2h1M256.1 68.2h1M254.2 79.8h1M248.9 64.7h1M254.6 84.5h1M253.7 73.9h1M252.8 68.5h1M255.7 81.3h1M250.7 66.1h1M250.0 71.9h1M250.5 89.9h1M249.2 69.1h1M249.3 88.5h1M249.4 75.4h1M252.0 73.5h1M252.1 84.7h1M249.1 82.3h1M249.6 72.6h1M254.2 78.1h1M253.5 67.3h1M247.7 82.7h1M251.1 87.2h1M255.7 91.2h1M247.5 69.9h1M248.8 70.4h1M248.1 67.7h1M249.2 70.3h1M253.4 88.1h1M248.4 90.2h1M247.8 68.7h1M250.7 69.3h1M175.7 118.3h1M171.8 124.1h1M165.5 121.1h1M172.6 118.1h1M169.4 123.6h1M167.2 115.7h1M169.3 114.4h1M163.7 118.9h1M168.9 119.3h1M163.4 121.0h1M167.3 123.5h1M161.0 128.1h1M165.8 120.2h1M169.2 121.4h1M169.5 127.8h1M173.7 122.1h1M163.5 124.6h1M173.3 121.6h1M158.3 114.0h1M159.4 115.5h1M172.5 126.4h1M174.8 117.3h1M173.6 119.8h1M169.6 121.5h1M164.7 121.3h1M175.0 122.8h1M178.9 128.6h1M167.9 128.3h1M157.8 121.3h1M165.9 124.6h1M161.8 123.3h1M158.6 123.1h1M164.8 127.4h1M170.1 129.8h1M170.2 121.3h1M170.7 121.8h1M172.2 123.4h1M161.6 120.8h1M163.3 123.8h1M168.4 126.1h1M173.3 128.5h1M174.7 122.5h1M177.3 117.9h1M171.6 121.2h1M168.4 127.9h1M164.6 126.1h1M163.7 122.9h1M163.3 121.8h1M166.3 124.2h1M170.0 120.5h1M160.2 123.6h1M184.2 122.3h1M170.4 125.9h1M173.3 116.2h1M171.0 122.9h1M167.9 129.9h1M171.1 123.6h1M170.0 120.9h1M168.9 114.0h1M172.9 125.0h1M171.2 119.8h1M168.0 116.7h1M165.7 129.4h1M161.7 120.8h1M162.2 121.7h1M159.2 120.8h1M166.3 126.0h1M164.6 123.4h1M172.9 121.4h1M166.6 121.7h1M172.8 120.5h1M177.6 125.2h1M172.4 121.9h1M164.2 120.0h1M172.5 118.4h1M170.5 125.9h1M168.7 120.8h1M177.1 121.9h1M168.6 116.1h1M168.1 124.1h1M169.4 119.3h1M168.6 129.0h1M165.5 118.4h1M163.6 118.9h1M168.7 125.5h1M172.2 130.9h1M156.0 128.5h1M170.7 123.5h1M171.3 122.7h1M168.5 124.4h1M165.5 118.4h1M172.1 127.7h1M171.0 114.3h1M172.0 126.1h1M171.9 121.5h1M166.0 118.5h1M174.7 124.4h1M168.4 123.9h1M167.8 116.0h1M165.3 120.1h1M169.2 122.0h1M161.4 119.9h1M161.6 119.5h1M167.3 121.8h1M165.2 125.8h1M162.0 122.3h1M167.3 121.2h1M166.1 119.3h1M168.6 121.9h1M166.4 122.4h1M171.4 125.1h1M161.0 120.8h1M170.1 122.2h1M169.1 127.5h1M162.3 122.4h1M167.6 127.3h1M170.4 129.9h1M174.7 126.5h1M164.6 126.5h1M160.2 123.6h1M157.2 123.7h1M168.7 123.5h1M167.6 128.1h1M157.4 127.6h1M173.6 121.1h1M157.7 115.6h1M171.2 118.1h1M173.4 117.2h1M158.3 122.1h1M163.4 114.7h1M171.6 122.4h1M166.3 130.7h1M168.3 125.7h1M175.3 119.4h1M167.3 123.9h1M173.9 124.5h1M173.9 121.6h1M166.1 120.9h1M177.5 128.7h1M171.9 119.5h1M166.3 116.6h1M171.5 120.2h1M162.1 120.1h1M160.5 120.4h1M179.7 125.9h1M176.4 126.7h1M168.1 119.5h1M159.6 121.1h1M163.4 124.8h1M172.4 122.7h1M170.0 122.3h1M169.8 116.2h1M168.4 123.5h1M167.9 119.5h1M170.3 130.9h1M167.3 120.7h1M182.3 124.7h1M166.2 127.0h1M167.3 129.4h1M163.0 122.7h1M159.3 123.5h1M163.9 117.4h1M176.6 114.0h1M168.5 119.7h1M181.0 125.0h1M177.2 126.0h1M173.6 128.6h1M165.5 123.2h1M166.3 130.1h1M168.4 123.5h1M176.0 120.1h1M155.6 121.9h1M173.7 122.8h1M163.7 127.8h1M165.6 126.1h1M166.2 123.7h1M174.9 126.3h1M169.6 126.8h1M169.2 118.3h1M164.5 127.1h1M167.9 122.3h1M164.1 120.7h1M168.1 119.7h1M160.0 119.4h1M174.8 125.7h1M178.8 121.5h1M160.4 126.6h1M163.5 125.0h1M166.4 121.2h1M166.5 123.7h1M162.3 130.5h1M163.7 127.3h1M172.6 132.0h1M174.1 133.8h1M166.6 122.3h1M161.4 126.3h1M172.6 126.7h1M167.2 122.2h1M171.4 127.4h1M175.1 123.0h1M173.4 128.0h1M173.8 122.8h1M172.1 125.0h1M172.5 122.3h1M157.0 112.4h1M163.9 120.5h1M166.6 124.2h1M165.6 118.7h1M173.0 118.7h1M158.5 119.2h1M146.5 103.6h1M173.4 113.7h1M167.9 122.2h1M157.8 106.3h1M163.2 114.0h1M156.4 124.7h1M162.4 124.4h1M160.6 118.0h1M177.4 137.2h1M161.6 134.7h1M183.3 134.2h1M174.7 122.1h1M167.2 140.1h1M192.3 124.7h1M177.7 114.3h1M153.6 131.9h1M192.6 106.7h1M156.2 124.1h1M181.6 124.7h1M186.9 118.2h1M166.9 117.6h1M161.2 112.5h1M158.5 112.1h1M204.0 138.5h1M192.4 136.1h1M167.0 107.6h1M183.5 117.6h1M173.4 121.9h1M174.6 125.1h1M163.9 134.0h1M193.0 123.6h1M195.3 117.0h1M174.5 132.8h1M164.3 123.0h1M166.3 126.0h1M135.2 126.9h1M164.4 127.5h1M163.5 136.8h1M155.7 110.7h1M154.5 127.9h1M156.1 124.8h1M160.6 106.1h1M153.1 111.7h1M161.3 119.5h1M204.5 123.5h1M167.9 148.1h1M163.1 125.3h1M169.9 121.3h1M152.3 131.5h1M179.1 125.7h1M168.6 117.6h1M169.6 122.0h1M152.5 123.3h1M143.7 108.1h1M157.0 108.8h1M161.0 124.5h1M186.9 121.5h1M170.8 125.6h1M164.4 129.7h1M157.1 138.7h1M166.0 130.1h1M188.4 105.0h1M195.6 133.5h1M163.0 124.4h1M146.1 109.8h1M178.5 120.7h1M196.1 119.0h1M163.9 120.8h1M161.5 119.1h1M149.4 118.8h1M164.0 126.9h1M162.8 124.3h1M143.2 118.1h1M165.4 107.7h1M168.1 115.1h1M167.8 124.4h1M150.7 127.2h1M159.9 144.1h1M164.0 129.4h1M172.7 114.3h1M163.9 113.0h1M186.2 116.6h1M163.5 122.3h1M191.9 109.8h1M184.8 138.1h1M135.6 107.8h1M178.6 111.5h1M176.7 125.8h1M175.0 123.6h1M189.9 115.9h1M154.7 129.7h1M183.0 115.5h1M172.5 120.2h1M150.4 130.5h1M176.0 139.0h1M175.5 118.1h1M177.8 115.8h1M195.9 120.6h1M156.7 137.9h1M135.9 122.3h1M181.2 137.6h1M171.0 129.3h1M164.8 121.2h1M169.0 133.4h1M179.4 124.3h1M141.4 116.4h1M191.2 126.5h1M191.6 136.8h1M164.8 111.9h1M187.4 118.6h1M183.8 126.7h1M178.9 114.8h1M182.2 119.8h1M180.6 119.4h1M177.3 136.5h1M177.1 131.2h1M163.0 122.6h1M172.1 134.5h1M160.8 121.0h1M162.5 122.9h1M171.8 121.3h1M160.6 121.5h1M176.7 134.1h1M179.7 131.8h1M173.7 117.8h1M177.7 133.3h1M155.2 133.4h1M176.7 122.0h1M142.3 116.7h1M185.5 127.7h1M167.3 121.0h1M153.8 126.9h1M176.4 126.1h1M168.2 122.2h1M193.2 120.9h1M173.2 127.3h1M186.3 122.6h1M168.0 111.8h1M187.8 131.2h1M163.8 112.1h1M161.6 109.6h1M166.0 106.3h1M154.3 140.0h1M147.3 106.0h1M157.9 127.0h1M160.0 129.6h1M170.6 122.1h1M159.3 127.8h1M187.6 114.9h1M182.6 112.4h1M165.6 115.6h1M192.1 130.3h1M187.9 144.5h1M140.8 135.9h1M153.9 131.6h1M161.2 116.2h1M157.7 126.4h1M149.5 137.1h1M165.6 129.7h1M181.0 122.2h1M142.1 117.0h1M150.9 126.7h1M153.2 130.4h1M159.5 133.6h1M157.6 125.7h1M178.6 117.2h1M193.8 137.3h1M162.5 112.8h1M151.8 124.8h1M178.6 110.0h1M146.6 123.8h1M159.5 115.5h1M158.5 112.2h1M156.1 118.1h1M207.7 138.7h1M189.9 135.0h1M204.4 128.9h1M212.8 112.2h1M160.9 126.8h1M244.1 141.0h1M204.8 144.8h1M168.9 131.3h1M178.1 143.0h1M216.1 117.0h1M157.6 92.3h1M191.6 134.8h1M246.4 133.7h1M146.8 133.3h1M139.2 141.2h1M204.8 135.5h1M223.1 143.4h1M203.5 117.4h1M206.8 142.2h1M198.7 130.5h1M147.2 133.6h1M184.2 141.9h1M243.6 132.3h1M193.3 124.2h1M176.5 112.3h1M156.7 103.3h1M215.4 118.1h1M246.5 112.4h1M147.0 124.3h1M244.4 126.1h1M236.9 141.4h1M187.7 119.6h1M155.2 133.1h1M232.6 114.9h1M149.8 138.3h1M197.9 128.4h1M224.1 133.8h1M241.9 131.3h1M202.9 127.1h1M232.4 110.1h1M142.4 133.4h1M168.8 136.3h1M154.8 123.6h1M183.5 112.3h1M203.2 127.2h1M189.2 108.5h1M224.5 122.1h1M244.4 133.5h1M197.2 129.8h1M215.4 117.2h1M185.2 128.9h1M231.6 133.6h1M166.3 116.2h1M181.2 134.5h1M200.6 140.1h1M198.7 127.3h1M241.4 125.3h1M245.6 130.4h1M139.0 104.0h1M167.5 117.9h1M140.5 118.8h1M229.8 112.5h1M139.5 124.1h1M143.1 123.4h1M171.8 149.5h1M208.3 123.3h1M231.0 147.4h1M211.1 139.4h1M163.6 134.7h1M149.3 115.2h1M238.6 133.1h1M191.2 124.2h1M225.5 127.5h1M147.3 109.2h1M163.7 119.6h1M212.7 111.9h1M162.2 131.1h1M219.6 139.9h1M246.4 145.3h1M187.2 90.1h1M193.1 122.9h1M208.0 120.5h1M148.6 120.2h1M196.7 124.0h1M158.8 126.8h1M186.2 104.6h1M153.4 141.9h1M186.1 143.3h1M229.2 129.6h1M223.4 124.9h1M148.6 104.1h1M151.3 132.8h1M198.8 125.5h1M168.4 113.1h1M226.7 129.6h1M240.8 144.8h1M191.2 119.0h1M181.1 112.6h1M238.3 112.7h1M212.7 131.1h1M176.4 111.7h1M180.2 124.9h1M190.1 126.5h1M193.4 113.3h1M165.1 109.5h1M181.5 124.9h1M184.5 108.8h1M212.2 143.9h1M197.7 115.5h1M148.8 134.3h1M169.9 124.6h1M241.2 144.7h1M154.4 122.6h1M206.3 118.8h1M151.2 119.3h1M140.0 99.1h1M177.6 142.2h1M138.7 126.9h1M142.3 142.8h1M221.3 117.1h1M222.6 121.5h1M221.4 123.7h1M225.0 110.8h1M203.4 132.7h1M144.7 126.3h1M157.9 141.1h1M187.7 127.6h1M207.0 141.1h1M182.3 131.9h1M229.6 149.5h1M245.4 130.0h1M228.0 122.5h1M197.8 143.4h1M164.4 110.9h1M164.5 114.5h1M204.4 140.8h1M184.3 130.1h1M163.5 131.3h1M234.4 107.5h1M172.2 130.2h1M184.3 113.0h1M206.6 124.3h1M226.0 145.7h1M216.8 112.2h1M186.2 127.4h1M208.7 134.0h1M183.1 104.2h1M198.3 136.5h1M138.4 126.5h1M167.8 149.5h1M152.3 120.7h1M236.3 104.1h1M167.9 128.7h1M139.4 121.8h1M170.0 128.2h1M240.2 135.5h1M228.7 145.0h1M156.8 130.5h1M178.8 125.3h1M191.6 121.0h1M210.3 134.2h1M152.7 125.3h1M201.0 120.9h1M201.5 128.0h1M240.0 137.3h1M216.5 147.4h1M157.0 135.3h1M169.3 140.6h1M242.0 130.3h1M211.7 97.4h1M188.5 116.8h1M159.8 123.8h1M231.0 142.0h1M197.7 125.6h1M188.4 111.5h1M175.9 131.1h1M165.0 128.4h1M150.3 110.6h1M218.1 122.6h1M181.4 111.6h1M209.5 134.6h1M168.7 116.1h1M229.9 131.7h1M164.0 107.7h1M156.8 130.5h1M217.5 118.5h1M178.8 115.2h1M174.0 129.7h1M181.1 119.7h1M147.5 121.9h1M215.3 135.9h1M184.2 100.6h1M214.6 129.1h1M229.5 101.3h1M182.6 139.5h1M202.3 114.7h1M173.2 120.3h1M205.5 104.9h1M145.4 124.2h1M183.6 148.2h1M206.6 122.9h1M153.5 129.5h1M204.9 132.7h1M182.6 112.4h1M167.1 128.7h1M171.3 114.3h1M163.9 128.0h1M195.9 138.9h1M146.0 149.5h1M173.4 127.5h1M213.0 139.0h1M211.2 121.9h1M156.7 123.0h1M170.6 121.0h1M149.8 116.1h1M140.1 145.2h1M154.8 128.2h1M147.6 125.8h1M152.6 130.0h1M191.1 131.3h1M192.8 104.9h1M194.6 127.1h1M227.3 123.1h1M180.0 122.5h1M184.7 130.2h1M196.4 122.4h1M239.8 121.2h1M240.2 110.0h1M217.6 125.1h1M203.2 132.4h1M207.7 124.1h1M185.9 126.6h1M169.5 128.3h1M149.6 124.0h1M168.7 138.8h1M222.9 135.0h1M180.3 126.4h1M137.5 122.0h1M242.7 123.9h1M233.6 149.5h1M196.4 133.0h1M212.0 114.9h1M204.3 117.2h1M182.1 131.4h1M209.1 134.2h1M160.1 137.8h1M195.0 124.3h1M143.3 124.2h1M155.5 106.0h1M189.5 108.6h1M217.7 125.7h1M221.8 113.4h1M180.7 127.5h1M220.0 111.7h1M167.0 122.9h1M204.0 68.9h1M199.3 79.0h1M216.5 60.3h1M238.5 63.7h1M209.4 74.6h1M190.5 67.3h1M169.0 64.4h1M200.2 58.0h1M156.0 75.8h1M212.7 74.9h1M169.1 64.2h1M199.5 68.8h1M195.0 65.4h1M169.7 63.8h1M167.9 59.7h1M214.1 65.6h1M175.7 62.0h1M194.7 69.5h1M238.3 71.5h1M221.6 72.9h1M221.0 68.5h1M220.2 65.7h1M221.7 70.0h1M221.3 69.4h1M168.6 65.3h1M211.4 75.4h1M159.3 73.9h1M162.7 60.7h1M156.0 77.3h1M210.7 61.9h1M173.7 58.2h1M230.4 62.3h1M217.3 65.1h1M153.3 58.5h1M168.4 73.8h1M155.7 54.7h1M167.3 68.7h1M177.2 77.4h1M159.5 58.5h1M236.5 79.8h1M204.8 59.6h1M212.5 62.9h1M229.4 67.3h1M242.8 74.5h1M195.2 75.4h1M225.4 65.0h1M206.8 63.4h1M235.4 69.4h1M233.7 68.5h1M208.1 66.6h1M209.8 60.6h1M219.5 69.5h1M222.7 63.5h1M193.0 60.3h1M172.4 68.5h1M220.4 62.3h1M203.5 68.5h1M225.3 66.0h1M222.2 62.5h1M158.3 76.3h1M178.4 72.4h1M228.7 66.6h1M171.3 61.4h1M157.1 67.1h1M155.0 73.8h1M202.6 72.5h1M158.9 74.2h1M180.6 70.3h1M173.1 64.0h1M186.4 62.2h1M206.6 69.8h1M208.6 71.8h1M176.3 67.8h1M207.4 71.6h1M220.6 65.5h1M236.9 74.4h1M243.7 66.3h1M177.1 72.9h1M210.4 65.2h1M161.1 65.1h1M212.7 77.5h1M227.1 59.3h1M201.6 70.4h1M157.2 63.5h1M162.7 64.4h1M153.2 71.2h1M243.2 74.9h1M194.4 60.9h1M242.1 62.0h1M212.3 64.6h1M154.7 63.2h1M215.2 70.3h1M159.7 65.6h1M225.4 66.5h1M239.7 61.6h1M160.9 71.3h1M224.4 77.7h1M211.1 68.1h1M204.8 66.2h1M160.0 64.9h1M192.4 71.2h1M156.9 53.9h1M222.7 65.8h1M237.9 65.9h1M172.7 74.0h1M189.4 72.0h1M184.8 62.1h1M186.8 60.9h1M208.0 66.7h1M191.6 69.8h1M185.1 60.4h1M170.6 71.0h1M194.9 60.8h1M158.9 67.1h1M165.2 74.8h1M172.1 68.1h1M206.4 71.1h1M157.2 59.4h1M230.3 71.1h1M179.3 66.6h1M210.6 57.2h1M172.9 60.6h1M190.4 62.0h1M241.4 64.9h1M169.7 64.6h1M211.7 61.2h1M165.6 66.2h1M174.6 60.0h1M155.0 71.7h1M227.1 78.6h1M231.6 66.6h1M208.0 62.9h1M209.4 72.8h1M174.0 72.9h1M174.5 66.0h1M206.2 66.7h1M160.4 57.3h1M166.0 77.9h1M241.9 68.1h1M187.9 68.1h1M185.8 68.5h1M174.9 65.7h1M154.0 73.9h1M173.9 65.6h1M238.0 62.6h1M226.6 72.1h1M185.1 67.5h1M185.0 77.7h1M221.0 69.8h1M191.2 64.9h1M159.6 76.6h1M196.6 83.4h1M226.6 95.4h1M218.6 89.4h1M215.4 75.9h1M237.2 92.4h1M205.9 82.6h1M200.1 87.2h1M239.3 77.2h1M196.9 67.8h1M178.7 78.5h1M148.8 90.8h1M168.8 83.3h1M214.2 82.7h1M193.9 61.4h1M242.5 63.6h1M157.5 86.7h1M207.7 85.4h1M197.3 109.4h1M232.7 76.3h1M190.5 68.3h1M226.2 90.6h1M244.8 67.7h1M171.0 71.4h1M227.5 67.6h1M195.4 78.7h1M234.4 77.5h1M234.7 89.9h1M237.7 49.8h1M176.7 58.7h1M207.8 74.7h1M178.1 84.5h1M235.9 66.8h1M157.7 105.3h1M209.0 76.8h1M218.6 103.6h1M175.6 69.2h1M173.6 70.7h1M203.6 77.8h1M157.0 69.0h1M214.7 72.5h1M198.1 80.3h1M243.1 84.0h1M226.8 64.0h1M150.9 61.0h1M217.2 95.7h1M193.2 82.0h1M150.9 101.7h1M207.8 81.7h1M159.5 99.3h1M190.0 85.5h1M200.3 88.4h1M149.9 99.0h1M202.4 86.9h1M153.8 101.5h1M175.7 94.1h1M177.6 99.7h1M152.1 88.8h1M238.6 89.0h1M235.2 100.7h1M205.4 95.2h1M228.1 89.8h1M205.2 82.6h1M238.8 100.4h1M187.8 101.6h1M199.9 98.4h1M213.5 95.4h1M145.6 83.2h1M157.3 97.4h1M196.0 102.3h1M220.7 87.1h1M156.4 89.3h1M157.5 91.4h1M154.0 97.1h1M189.1 91.1h1M209.1 82.3h1M177.8 95.5h1M165.4 86.6h1M180.9 98.7h1M163.7 93.9h1M227.0 93.5h1M224.8 92.8h1M202.0 97.7h1M185.1 86.9h1M153.1 93.2h1M229.0 129.6h1M243.1 133.9h1M241.3 132.7h1M236.5 128.7h1M242.8 119.1h1M249.2 139.9h1M224.3 123.8h1M240.7 135.4h1M244.9 117.1h1M226.3 127.9h1M236.5 117.9h1M238.5 130.7h1M237.8 133.4h1M240.3 123.2h1M234.1 132.8h1M241.3 125.8h1M234.7 137.9h1M239.2 128.4h1M259.4 134.1h1M226.6 149.5h1M252.2 111.5h1M235.4 128.8h1M239.6 143.7h1M235.3 99.3h1M219.0 125.5h1M232.8 111.7h1M236.5 120.8h1M238.6 107.2h1M234.3 130.5h1M227.4 99.4h1M239.8 136.0h1M248.6 143.9h1M235.5 149.5h1M234.9 122.8h1M231.6 124.6h1M234.1 136.0h1M242.3 116.9h1M239.5 95.4h1M237.7 123.3h1M230.4 120.1h1M239.5 127.9h1M231.8 118.1h1M241.5 135.3h1M235.8 141.2h1M243.5 129.8h1M230.5 119.5h1M237.2 129.4h1M234.7 115.5h1M233.1 118.4h1M248.5 124.3h1M235.0 105.3h1M225.9 143.5h1M246.9 132.5h1M228.8 137.9h1M241.3 120.3h1M226.6 124.8h1M236.6 147.7h1M232.9 128.9h1M238.8 111.8h1M230.1 132.1h1M231.5 149.5h1M242.2 112.2h1M243.5 133.2h1M230.1 112.0h1M234.6 123.1h1M234.5 138.4h1M240.5 149.5h1M237.6 101.1h1M236.6 108.2h1M222.6 131.6h1" stroke="#000" stroke-width="1" stroke-opacity=".9" fill="none" transform="translate(-0.5,0)"/>
<rect x="133.5" y="34.7" width="151.2" height="114.8" fill="none" stroke="#2a2a2a" stroke-width="1"/>
<path d="M238.4 34.7V149.5M133.5 100.4H284.7" stroke="#2a2a2a" stroke-width="1" fill="none"/>
<path d="M133.50 149.5v3.6M133.5 149.50h-3.8M144.88 149.5v1.8M133.5 140.86h-2M151.54 149.5v1.8M133.5 135.81h-2M156.26 149.5v1.8M133.5 132.22h-2M159.92 149.5v1.8M133.5 129.44h-2M162.91 149.5v1.8M133.5 127.17h-2M165.44 149.5v1.8M133.5 125.25h-2M167.64 149.5v1.8M133.5 123.58h-2M169.57 149.5v1.8M133.5 122.11h-2M171.30 149.5v3.6M133.5 120.80h-3.8M182.68 149.5v1.8M133.5 112.16h-2M189.34 149.5v1.8M133.5 107.11h-2M194.06 149.5v1.8M133.5 103.52h-2M197.72 149.5v1.8M133.5 100.74h-2M200.71 149.5v1.8M133.5 98.47h-2M203.24 149.5v1.8M133.5 96.55h-2M205.44 149.5v1.8M133.5 94.88h-2M207.37 149.5v1.8M133.5 93.41h-2M209.10 149.5v3.6M133.5 92.10h-3.8M220.48 149.5v1.8M133.5 83.46h-2M227.14 149.5v1.8M133.5 78.41h-2M231.86 149.5v1.8M133.5 74.82h-2M235.52 149.5v1.8M133.5 72.04h-2M238.51 149.5v1.8M133.5 69.77h-2M241.04 149.5v1.8M133.5 67.85h-2M243.24 149.5v1.8M133.5 66.18h-2M245.17 149.5v1.8M133.5 64.71h-2M246.90 149.5v3.6M133.5 63.40h-3.8M258.28 149.5v1.8M133.5 54.76h-2M264.94 149.5v1.8M133.5 49.71h-2M269.66 149.5v1.8M133.5 46.12h-2M273.32 149.5v1.8M133.5 43.34h-2M276.31 149.5v1.8M133.5 41.07h-2M278.84 149.5v1.8M133.5 39.15h-2M281.04 149.5v1.8M133.5 37.48h-2M282.97 149.5v1.8M133.5 36.01h-2M284.70 149.5v3.6M133.5 34.70h-3.8" stroke="#222" stroke-width="1" fill="none"/>
<g font-family='"Liberation Sans", "DejaVu Sans", sans-serif' font-size="7.4" fill="#1a1a1a" stroke="#1a1a1a" stroke-width=".3">
<text transform="translate(133.8 159.8) scale(.96 1.07)" text-anchor="middle">10<tspan dy="-2.5" font-size="6.2">0</tspan></text>
<text transform="translate(127.1 155.2) rotate(-90) scale(.85 1.2)">10<tspan dy="-3.8" font-size="5.8">0</tspan></text>
<text transform="translate(171.6 159.8) scale(.96 1.07)" text-anchor="middle">10<tspan dy="-2.5" font-size="6.2">1</tspan></text>
<text transform="translate(127.1 126.5) rotate(-90) scale(.85 1.2)">10<tspan dy="-3.8" font-size="5.8">1</tspan></text>
<text transform="translate(209.4 159.8) scale(.96 1.07)" text-anchor="middle">10<tspan dy="-2.5" font-size="6.2">2</tspan></text>
<text transform="translate(127.1 97.8) rotate(-90) scale(.85 1.2)">10<tspan dy="-3.8" font-size="5.8">2</tspan></text>
<text transform="translate(247.2 159.8) scale(.96 1.07)" text-anchor="middle">10<tspan dy="-2.5" font-size="6.2">3</tspan></text>
<text transform="translate(127.1 69.1) rotate(-90) scale(.85 1.2)">10<tspan dy="-3.8" font-size="5.8">3</tspan></text>
<text transform="translate(285.0 159.8) scale(.96 1.07)" text-anchor="middle">10<tspan dy="-2.5" font-size="6.2">4</tspan></text>
<text transform="translate(127.1 40.4) rotate(-90) scale(.85 1.2)">10<tspan dy="-3.8" font-size="5.8">4</tspan></text>
<text x="208.6" y="167.5" text-anchor="middle" font-size="7.2">FL1-H</text>
<text transform="translate(116.2 93.6) rotate(-90)" text-anchor="middle" font-size="7.0">FL2-H</text>
</g>
<g font-family='"Liberation Serif", "DejaVu Serif", serif' font-weight="bold" font-size="15.9" fill="#0c0c0c" stroke="#0c0c0c" stroke-width=".35">
<text x="138.0" y="53.7">18.3%</text>
<text x="241.2" y="53.7">81.7%</text>
</g>
</g>
<g>
<path d="M474.1 127.7h1M477.8 135.4h1M481.8 129.5h1M477.8 110.5h1M477.1 144.0h1M474.3 135.9h1M480.8 120.9h1M482.4 110.0h1M484.3 122.9h1M483.1 122.7h1M477.0 120.7h1M479.1 132.0h1M485.3 121.2h1M477.3 130.5h1M486.5 132.3h1M481.3 122.8h1M480.6 123.1h1M477.3 134.7h1M478.4 133.6h1M481.5 112.6h1M476.0 123.6h1M475.7 137.2h1M478.1 128.4h1M477.5 150.3h1M483.4 132.6h1M476.8 122.1h1M476.9 145.4h1M480.5 125.0h1M476.2 120.3h1M480.1 142.1h1M484.6 126.6h1M475.2 124.6h1M479.3 118.9h1M474.5 118.1h1M482.0 121.9h1M480.9 115.1h1M481.2 128.2h1M476.2 117.3h1M482.1 126.3h1M479.4 121.6h1M470.7 126.1h1M470.7 127.0h1M482.3 108.7h1M477.3 124.9h1M478.6 150.3h1M481.3 129.8h1M479.1 140.1h1M478.7 128.8h1M483.0 126.4h1M490.3 134.2h1M478.0 130.3h1M476.2 113.0h1M481.0 143.8h1M479.2 117.0h1M474.2 128.0h1M478.1 103.9h1M480.2 134.2h1M477.0 108.8h1M477.3 104.4h1M473.8 131.8h1M478.1 137.5h1M478.2 122.0h1M476.7 145.5h1M483.3 113.5h1M476.6 126.3h1M470.5 118.2h1M474.5 135.8h1M485.9 143.7h1M478.9 141.5h1M472.8 142.6h1M479.7 144.1h1M476.9 121.7h1M478.3 144.2h1M483.8 128.4h1M483.5 141.3h1M484.4 144.6h1M473.2 134.4h1M477.6 126.8h1M477.0 122.7h1M483.2 136.9h1M474.4 134.1h1M481.5 120.7h1M477.7 140.6h1M478.8 119.1h1M476.5 115.4h1M479.6 126.5h1M476.8 114.7h1M479.0 146.2h1M481.5 134.4h1M482.4 127.9h1M476.8 127.8h1M477.3 138.9h1M478.9 120.5h1M479.1 130.7h1M477.0 123.4h1M479.7 119.1h1M480.0 106.2h1M473.7 130.3h1M480.6 119.8h1M473.9 143.2h1M478.7 118.1h1M482.4 146.5h1M479.3 116.8h1M478.9 141.1h1M476.5 144.5h1M482.7 132.6h1M477.5 139.4h1M478.4 139.8h1M475.7 130.2h1M478.1 124.7h1M479.3 116.7h1M478.7 126.9h1M479.6 138.7h1M482.7 136.0h1M473.7 116.0h1M481.0 136.0h1M482.0 119.1h1M481.1 142.7h1M479.4 141.2h1M476.9 136.0h1M476.1 124.3h1M476.3 122.9h1M479.4 136.4h1M479.4 122.2h1M482.6 132.6h1M484.5 123.4h1M482.9 144.6h1M475.4 116.4h1M478.1 124.6h1M482.7 145.7h1M480.3 108.4h1M481.4 128.8h1M480.7 129.7h1M481.4 115.4h1M478.1 123.4h1M479.8 121.6h1M481.6 141.6h1M482.6 120.3h1M475.3 132.9h1M474.1 132.9h1M479.9 142.5h1M476.3 139.4h1M476.6 138.3h1M475.4 123.5h1M478.1 138.8h1M482.0 136.0h1M481.7 143.4h1M483.4 134.7h1M475.8 125.3h1M474.5 141.6h1M479.6 135.1h1M480.1 128.2h1M479.7 128.3h1M481.1 129.8h1M482.4 119.4h1M472.5 149.0h1M483.9 134.6h1M479.4 131.0h1M479.7 105.6h1M476.5 129.1h1M478.9 141.6h1M476.0 132.8h1M478.8 125.6h1M472.5 147.0h1M484.2 131.8h1M481.5 134.4h1M476.5 106.6h1M474.8 139.8h1M481.0 129.6h1M473.5 128.3h1M481.2 146.5h1M477.0 121.2h1M485.0 150.3h1M476.6 129.5h1M475.9 139.7h1M477.2 124.2h1M475.4 120.3h1M481.5 120.5h1M483.8 135.5h1M478.7 118.9h1M482.9 119.5h1M477.4 135.2h1M474.6 134.6h1M475.9 135.2h1M477.6 120.7h1M481.6 130.4h1M475.1 130.4h1M480.2 120.5h1M479.5 121.0h1M476.7 122.7h1M481.2 133.7h1M476.4 116.3h1M475.6 122.3h1M478.0 133.6h1M478.0 134.6h1M478.7 110.3h1M483.5 131.3h1M480.3 119.9h1M477.5 109.7h1M478.9 123.0h1M475.7 142.1h1M475.6 136.9h1M482.2 133.3h1M481.7 134.4h1M475.7 128.0h1M477.5 148.0h1M479.0 116.9h1M478.2 142.9h1M476.4 143.1h1M478.0 140.2h1M478.5 127.9h1M483.1 142.5h1M472.2 112.1h1M480.2 133.8h1M480.5 140.0h1M477.7 122.4h1M477.8 128.4h1M480.2 128.5h1M478.0 124.2h1M483.1 115.9h1M476.0 121.5h1M472.7 145.3h1M480.1 124.0h1M483.2 148.6h1M482.3 135.8h1M477.3 125.0h1M483.4 140.1h1M473.3 136.4h1M478.4 116.8h1M480.0 133.1h1M477.2 134.9h1M481.9 148.0h1M476.6 139.4h1M482.4 128.5h1M476.6 121.7h1M485.1 118.7h1M474.6 132.1h1M482.5 149.6h1M474.9 134.4h1M480.5 138.8h1M479.3 131.6h1M479.8 143.0h1M471.7 150.3h1M479.3 119.3h1M480.3 147.4h1M473.2 133.1h1M475.8 149.9h1M476.9 138.6h1M478.4 125.8h1M479.4 128.0h1M480.5 131.1h1M477.3 133.7h1M482.6 133.0h1M481.4 111.9h1M484.4 150.3h1M479.3 119.3h1M477.3 137.7h1M474.2 137.4h1M478.8 150.3h1M478.7 139.2h1M478.8 141.8h1M479.0 128.3h1M476.5 137.3h1M481.8 123.2h1M476.3 125.3h1M475.0 135.7h1M469.4 136.2h1M481.0 135.4h1M480.7 137.0h1M479.7 131.7h1M475.6 107.2h1M476.0 144.7h1M479.2 124.9h1M479.9 131.2h1M480.3 119.9h1M480.8 145.1h1M484.3 130.4h1M472.2 121.0h1M478.3 127.0h1M485.1 135.9h1M476.7 140.8h1M479.4 122.9h1M480.0 128.2h1M471.9 127.2h1M482.2 135.6h1M477.0 141.1h1M479.5 147.1h1M484.9 132.2h1M476.8 143.3h1M480.5 119.5h1M476.9 128.2h1M479.7 119.5h1M480.7 116.6h1M474.2 101.6h1M477.1 142.2h1M475.8 125.8h1M481.2 103.6h1M482.7 138.4h1M477.7 135.1h1M476.8 131.9h1M476.8 117.3h1M479.8 123.2h1M478.3 142.7h1M480.2 134.3h1M485.2 116.6h1M474.9 140.8h1M477.0 132.4h1M482.4 132.0h1M480.2 133.5h1M478.1 116.6h1M478.8 108.6h1M478.6 125.8h1M480.0 122.8h1M485.0 137.4h1M477.1 140.3h1M484.6 124.9h1M480.2 125.0h1M472.8 121.6h1M479.2 126.6h1M479.1 131.0h1M478.5 136.2h1M478.0 123.1h1M472.0 121.0h1M480.8 141.6h1M480.4 126.7h1M477.1 111.6h1M479.3 131.5h1M474.6 106.3h1M479.5 126.6h1M478.0 107.4h1M478.3 112.8h1M482.2 119.4h1M480.8 117.4h1M478.4 150.3h1M470.1 117.9h1M472.2 115.4h1M488.7 150.3h1M480.7 124.8h1M476.5 150.3h1M478.5 111.6h1M478.4 130.1h1M479.0 129.5h1M479.7 105.1h1M476.0 149.9h1M481.5 135.7h1M477.2 145.2h1M478.2 134.7h1M480.2 134.3h1M474.1 124.6h1M478.5 150.3h1M477.7 121.7h1M478.6 133.6h1M480.7 137.0h1M476.5 124.3h1M478.3 136.8h1M479.5 127.2h1M481.8 119.0h1M479.1 130.3h1M475.8 127.8h1M477.6 120.9h1M481.3 123.0h1M478.6 126.4h1M483.6 111.5h1M480.8 146.7h1M478.9 125.0h1M483.6 131.9h1M478.4 136.2h1M479.7 143.3h1M480.6 126.3h1M483.1 133.3h1M479.8 127.8h1M478.7 140.4h1M477.0 129.4h1M480.4 118.7h1M476.9 127.1h1M480.8 120.6h1M479.6 127.7h1M477.7 129.6h1M478.2 148.8h1M476.5 150.3h1M480.4 120.4h1M477.6 128.1h1M479.3 132.6h1M483.5 132.0h1M479.8 130.6h1M485.2 147.6h1M479.5 144.4h1M476.5 140.2h1M481.3 141.6h1M475.6 133.5h1M475.7 140.7h1M483.9 137.1h1M476.2 115.0h1M479.1 117.8h1M473.6 133.1h1M480.3 127.5h1M480.5 116.4h1M480.7 117.9h1M481.2 138.0h1M479.4 115.7h1M475.8 124.0h1M480.8 115.3h1M473.5 104.0h1M473.8 129.8h1M486.9 144.5h1M486.0 126.9h1M485.0 114.1h1M479.3 138.4h1M477.8 143.9h1M474.4 125.7h1M474.2 125.9h1M478.6 131.3h1M475.5 143.3h1M481.4 140.3h1M477.0 131.8h1M481.0 108.4h1M485.1 121.3h1M481.0 122.7h1M478.1 132.1h1M473.3 123.8h1M477.2 125.7h1M486.0 120.5h1M482.5 120.3h1M477.0 136.9h1M474.1 136.1h1M479.3 122.3h1M480.7 133.6h1M475.2 129.4h1M479.8 150.3h1M479.1 145.5h1M477.3 131.4h1M475.6 135.4h1M478.8 140.8h1M481.0 122.8h1M480.6 141.4h1M478.2 133.5h1M479.2 121.8h1M477.1 129.7h1M481.4 133.5h1M481.1 130.2h1M474.3 130.4h1M479.3 134.5h1M484.9 134.1h1M474.1 131.6h1M478.1 124.4h1M486.9 128.4h1M481.4 137.8h1M475.8 137.6h1M478.2 134.8h1M478.8 137.0h1M474.9 138.5h1M481.3 142.5h1M481.3 112.2h1M475.8 120.2h1M481.5 150.3h1M481.5 122.9h1M476.3 110.8h1M473.0 115.9h1M479.6 141.2h1M479.1 146.6h1M480.7 124.1h1M482.7 114.7h1M476.6 124.6h1M481.8 117.2h1M479.5 111.1h1M478.6 148.9h1M477.3 133.0h1M479.6 134.4h1M471.6 143.5h1M478.3 117.8h1M476.6 144.3h1M477.2 120.1h1M482.8 140.7h1M481.0 115.6h1M481.3 142.1h1M480.7 135.5h1M477.1 109.0h1M478.6 124.5h1M482.7 112.1h1M479.7 136.7h1M478.6 137.4h1M478.4 131.3h1M474.0 138.6h1M474.2 130.7h1M481.3 122.1h1M479.4 140.5h1M478.5 144.9h1M480.6 146.9h1M476.7 111.2h1M480.1 140.7h1M478.1 141.3h1M476.2 134.7h1M476.0 128.0h1M482.2 139.5h1M475.8 138.9h1M476.8 128.7h1M476.6 139.7h1M476.6 119.3h1M481.9 118.7h1M479.3 140.4h1M483.2 105.9h1M476.7 136.7h1M482.3 122.6h1M480.0 107.3h1M478.2 138.8h1M477.6 127.6h1M479.4 116.4h1M481.2 137.9h1M481.1 132.2h1M483.6 117.6h1M476.8 124.1h1M474.5 125.1h1M479.0 125.1h1M474.8 139.4h1M476.9 132.6h1M480.9 139.1h1M472.2 136.1h1M481.2 120.7h1M474.6 123.0h1M479.1 122.2h1M479.3 116.4h1M476.4 106.5h1M482.3 142.9h1M473.7 118.9h1M473.7 138.8h1M480.3 131.8h1M479.2 150.3h1M476.3 124.6h1M485.4 125.6h1M478.8 128.8h1M482.0 123.2h1M475.8 150.3h1M477.9 134.5h1M484.6 139.6h1M481.1 150.3h1M481.2 144.4h1M478.8 132.5h1M479.0 130.3h1M475.0 123.8h1M475.8 130.9h1M475.9 130.7h1M478.3 132.5h1M476.1 117.1h1M478.1 129.6h1M471.6 123.9h1M473.5 132.7h1M472.0 109.7h1M472.9 133.4h1M474.6 144.4h1M472.9 114.5h1M485.6 131.9h1M481.3 135.9h1M475.1 110.7h1M480.7 143.2h1M478.2 130.8h1M477.7 131.6h1M476.5 131.5h1M477.2 134.2h1M476.1 113.7h1M477.2 133.0h1M479.4 130.4h1M474.4 121.2h1M474.6 137.9h1M479.9 133.0h1M476.3 130.6h1M475.8 137.3h1M474.7 144.4h1M475.3 130.3h1M476.9 132.5h1M481.4 135.9h1M472.5 130.0h1M477.7 143.2h1M473.7 122.1h1M478.4 131.3h1M474.3 136.5h1M474.9 114.3h1M478.4 150.3h1M477.5 114.7h1M476.0 133.9h1M478.3 125.7h1M480.0 137.7h1M477.3 123.3h1M475.2 134.7h1M479.6 133.5h1M475.3 112.9h1M479.0 134.0h1M469.1 118.9h1M481.5 131.4h1M478.6 140.0h1M485.0 121.0h1M485.8 106.1h1M472.7 123.8h1M471.9 126.8h1M478.7 136.9h1M480.7 129.2h1M477.5 133.5h1M481.5 125.4h1M481.3 127.1h1M477.1 135.9h1M479.3 138.4h1M476.5 121.9h1M479.3 133.0h1M479.2 134.7h1M482.7 132.8h1M478.7 143.3h1M476.4 144.8h1M480.0 124.5h1M480.6 134.4h1M478.8 126.7h1M477.4 148.9h1M484.9 125.2h1M481.5 121.8h1M476.3 130.9h1M477.0 118.9h1M479.2 138.4h1M479.7 100.5h1M478.6 125.1h1M485.4 140.6h1M479.6 117.2h1M480.7 137.1h1M478.6 129.4h1M481.7 119.4h1M472.3 129.7h1M476.3 127.3h1M477.3 126.5h1M473.8 128.1h1M480.4 117.0h1M483.7 130.4h1M476.8 115.9h1M479.9 126.9h1M480.5 146.2h1M475.8 140.1h1M475.1 113.5h1M472.7 132.1h1M478.4 140.0h1M479.9 139.5h1M474.1 144.2h1M483.0 134.7h1M479.3 124.1h1M480.0 138.4h1M481.3 118.8h1M474.1 121.4h1M480.4 118.4h1M480.6 132.0h1M476.2 123.2h1M479.9 125.8h1M477.1 117.5h1M481.7 118.5h1M476.8 123.7h1M481.8 144.7h1M476.4 127.4h1M474.1 131.2h1M479.0 146.2h1M480.6 130.2h1M482.8 130.5h1M477.1 130.7h1M480.1 150.1h1M477.8 122.2h1M481.2 126.1h1M475.2 131.2h1M480.2 129.9h1M479.3 109.7h1M485.0 135.0h1M475.7 129.8h1M483.0 141.4h1M475.7 143.7h1M482.4 135.3h1M478.5 112.5h1M480.8 133.5h1M474.6 117.9h1M479.0 133.6h1M479.5 137.8h1M479.4 127.8h1M475.3 127.3h1M480.7 114.4h1M481.6 107.2h1M481.6 130.3h1M479.9 129.6h1M475.8 132.4h1M479.3 141.2h1M478.6 123.8h1M484.2 131.2h1M477.7 137.2h1M473.6 123.8h1M477.1 137.2h1M475.2 114.1h1M483.1 125.0h1M477.7 142.9h1M471.8 138.3h1M476.3 113.9h1M477.8 147.8h1M483.2 123.3h1M477.5 126.2h1M480.8 134.9h1M476.0 128.2h1M480.7 124.4h1M475.2 140.3h1M478.7 136.5h1M477.8 109.9h1M473.5 133.0h1M475.4 127.5h1M484.8 125.9h1M482.9 139.9h1M479.7 115.2h1M477.6 138.2h1M473.9 114.2h1M478.4 115.3h1M479.4 129.5h1M481.4 127.7h1M482.5 136.4h1M476.9 129.6h1M477.1 132.2h1M481.4 126.2h1M478.4 111.2h1M474.5 136.3h1M478.1 119.5h1M480.7 124.3h1M483.5 130.9h1M476.4 117.1h1M483.7 140.8h1M476.9 131.2h1M479.9 128.9h1M481.1 147.4h1M477.1 146.8h1M481.4 119.1h1M479.5 130.0h1M478.4 131.1h1M476.1 124.9h1M480.8 137.6h1M480.1 114.4h1M483.8 105.2h1M487.5 146.0h1M477.2 134.9h1M480.3 113.7h1M474.0 123.8h1M479.8 116.5h1M480.3 137.3h1M479.6 135.5h1M478.2 133.0h1M478.8 126.0h1M480.0 117.5h1M480.9 148.7h1M480.8 134.5h1M481.8 134.6h1M476.1 145.3h1M478.3 121.4h1M476.0 126.3h1M477.9 150.3h1M478.2 133.1h1M480.3 148.0h1M480.8 130.9h1M481.7 134.7h1M476.7 132.7h1M478.7 118.8h1M476.4 133.5h1M475.5 134.0h1M479.6 114.8h1M478.3 127.5h1M478.9 118.8h1M477.8 133.0h1M479.7 133.1h1M479.4 131.1h1M477.7 121.0h1M478.1 134.4h1M480.3 110.6h1M479.7 132.0h1M481.1 124.4h1M475.6 117.7h1M483.0 135.7h1M477.6 123.5h1M479.8 128.6h1M482.9 146.8h1M477.2 124.6h1M480.2 136.2h1M473.1 117.4h1M481.7 128.6h1M479.8 118.9h1M486.2 141.1h1M478.8 150.3h1M474.9 117.7h1M477.8 150.3h1M474.6 114.3h1M480.3 116.8h1M483.7 136.0h1M478.8 137.1h1M475.8 120.1h1M479.5 137.8h1M473.6 134.7h1M477.8 138.0h1M481.2 124.2h1M480.1 117.1h1M477.7 130.8h1M485.3 139.6h1M479.6 122.0h1M479.5 130.9h1M480.4 121.4h1M479.3 133.3h1M473.4 133.5h1M476.3 138.6h1M475.7 144.2h1M476.2 129.3h1M474.8 144.8h1M482.5 121.2h1M477.0 127.1h1M478.1 126.6h1M480.5 142.7h1M472.8 121.6h1M480.2 139.9h1M482.9 127.2h1M479.2 115.4h1M483.4 118.8h1M479.9 135.7h1M479.3 134.6h1M481.3 119.2h1M478.9 119.3h1M475.0 116.8h1M479.8 150.3h1M478.9 121.8h1M480.3 139.8h1M481.6 121.7h1M479.0 114.8h1M477.1 126.6h1M478.8 150.3h1M480.0 124.0h1M476.8 130.2h1M482.1 133.0h1M480.6 127.0h1M479.2 122.1h1M473.6 144.3h1M475.5 121.8h1M482.3 133.6h1M474.0 115.1h1M477.3 140.4h1M479.7 137.8h1M480.6 125.5h1M475.6 111.6h1M478.7 126.0h1M483.2 117.8h1M470.8 130.5h1M477.8 125.0h1M480.9 113.6h1M472.5 130.7h1M482.2 134.2h1M484.0 118.7h1M481.8 139.8h1M473.2 134.0h1M478.3 128.5h1M482.2 133.5h1M475.2 111.1h1M481.6 136.7h1M474.9 131.6h1M480.3 132.4h1M478.1 137.2h1M476.2 113.2h1M485.1 118.9h1M477.3 150.3h1M481.2 142.3h1M477.5 127.4h1M483.5 140.1h1M477.6 122.1h1M481.5 132.3h1M479.8 123.3h1M477.2 149.4h1M478.2 113.9h1M474.8 139.6h1M481.6 114.0h1M479.9 127.1h1M473.1 144.3h1M476.4 150.1h1M481.7 143.0h1M486.3 143.6h1M479.7 135.5h1M477.9 118.6h1M475.3 133.7h1M482.3 140.1h1M487.3 145.5h1M481.3 127.8h1M480.2 130.7h1M477.3 125.6h1M476.9 140.6h1M484.4 150.3h1M480.8 136.5h1M472.1 150.3h1M475.7 124.7h1M482.9 131.1h1M482.8 129.2h1M479.3 128.0h1M482.6 142.9h1M472.6 115.5h1M478.9 126.8h1M482.2 125.8h1M478.5 114.1h1M482.3 132.6h1M479.5 134.9h1M478.3 137.6h1M481.2 140.9h1M476.7 121.9h1M479.4 112.9h1M476.9 129.7h1M478.1 119.7h1M478.4 123.9h1M473.9 135.6h1M483.6 129.8h1M479.9 118.1h1M479.7 138.7h1M479.5 134.2h1M478.6 129.6h1M481.5 116.3h1M483.6 138.6h1M479.6 115.6h1M477.0 136.7h1M484.6 121.6h1M481.4 134.4h1M483.2 118.3h1M479.1 126.9h1M480.9 130.6h1M479.0 114.3h1M477.9 145.7h1M482.2 110.0h1M477.2 124.7h1M479.3 137.8h1M476.5 126.3h1M473.3 127.3h1M487.5 100.2h1M472.4 130.6h1M475.7 127.1h1M477.6 131.9h1M479.2 125.0h1M479.8 122.5h1M482.1 108.7h1M481.1 127.8h1M482.7 124.4h1M481.8 139.3h1M474.4 118.0h1M474.5 140.2h1M478.3 138.6h1M481.2 126.2h1M480.1 112.8h1M479.4 133.5h1M475.2 136.6h1M476.5 127.5h1M484.5 130.9h1M479.4 150.3h1M484.7 140.6h1M479.7 146.1h1M481.5 128.5h1M475.9 113.8h1M483.8 126.8h1M477.4 127.8h1M476.9 124.1h1M477.5 137.6h1M478.9 110.3h1M474.3 118.9h1M480.8 122.2h1M479.8 122.9h1M472.2 130.9h1M472.2 130.7h1M478.1 126.8h1M480.1 137.9h1M477.4 114.3h1M482.7 130.4h1M476.4 130.9h1M481.5 126.1h1M479.7 117.0h1M480.4 124.1h1M478.6 127.8h1M479.6 140.0h1M477.3 147.2h1M478.0 143.2h1M480.2 116.1h1M477.4 122.9h1M482.0 149.9h1M482.8 149.4h1M474.0 143.3h1M473.9 146.8h1M479.4 123.7h1M481.4 124.2h1M482.9 131.7h1M477.7 115.0h1M476.8 116.8h1M478.1 147.4h1M475.9 136.0h1M479.3 126.0h1M481.2 124.2h1M482.4 148.3h1M480.5 113.6h1M476.6 122.5h1M482.2 138.7h1M471.9 138.4h1M478.1 121.3h1M480.7 124.3h1M478.4 134.1h1M476.8 130.3h1M477.7 130.4h1M476.7 140.5h1M480.3 136.3h1M481.3 118.7h1M475.6 105.7h1M474.8 147.4h1M474.8 140.4h1M478.7 117.0h1M479.8 114.6h1M471.8 122.2h1M474.4 140.3h1M486.0 110.7h1M479.0 138.5h1M476.7 145.5h1M477.3 122.6h1M480.2 127.4h1M477.3 123.0h1M480.7 108.8h1M479.6 119.8h1M481.3 123.0h1M480.7 127.3h1M481.4 141.6h1M475.9 139.7h1M477.2 134.0h1M482.7 126.6h1M478.8 128.3h1M481.4 142.1h1M478.8 139.2h1M480.7 112.7h1M479.8 121.9h1M483.2 135.4h1M480.0 150.0h1M479.9 126.9h1M478.6 106.2h1M480.0 133.4h1M477.7 130.9h1M472.8 126.5h1M476.3 127.5h1M480.8 112.7h1M477.9 130.5h1M479.0 125.6h1M477.0 128.4h1M477.2 126.6h1M484.0 130.4h1M483.6 125.8h1M483.1 118.3h1M473.8 138.0h1M473.7 124.6h1M475.3 118.9h1M478.5 124.3h1M475.8 150.3h1M477.0 135.3h1M479.3 122.9h1M475.7 126.8h1M477.1 116.6h1M476.6 127.8h1M482.6 122.3h1M481.4 117.9h1M481.2 123.2h1M476.1 110.7h1M482.5 111.5h1M477.8 123.4h1M472.0 129.0h1M476.9 133.3h1M480.7 133.0h1M480.5 147.3h1M486.3 138.7h1M475.8 143.1h1M481.6 150.3h1M476.1 112.2h1M474.7 136.7h1M475.7 119.4h1M476.6 127.0h1M476.9 135.4h1M472.7 123.5h1M478.4 134.9h1M480.1 131.5h1M478.8 127.4h1M480.4 137.5h1M481.3 125.6h1M476.9 137.5h1M481.7 128.8h1M475.1 144.5h1M485.5 141.5h1M476.4 132.1h1M475.3 110.6h1M475.9 140.6h1M479.5 140.6h1M475.3 121.7h1M481.9 113.8h1M478.9 139.3h1M477.3 139.1h1M479.1 128.1h1M477.4 121.2h1M480.7 142.8h1M483.5 137.4h1M478.0 118.9h1M480.4 136.0h1M479.7 123.9h1M475.9 150.3h1M483.3 145.5h1M477.9 105.0h1M477.0 122.2h1M475.4 108.8h1M476.0 112.8h1M478.9 112.2h1M482.0 135.6h1M476.4 149.1h1M479.2 114.9h1M478.3 126.3h1M482.3 123.7h1M481.3 122.8h1M476.8 138.6h1M478.9 137.6h1M479.3 146.9h1M479.7 118.8h1M483.4 129.4h1M481.1 104.1h1M482.9 125.7h1M475.9 124.2h1M480.1 140.8h1M476.5 150.3h1M482.2 144.1h1M485.8 133.0h1M477.1 128.4h1M480.0 126.0h1M476.7 141.8h1M476.8 129.8h1M476.6 125.1h1M482.2 125.7h1M479.5 120.8h1M475.7 125.8h1M479.9 112.5h1M483.0 134.4h1M484.7 140.9h1M483.7 127.2h1M481.3 131.0h1M478.2 144.2h1M482.5 132.2h1M481.2 138.7h1M482.4 125.7h1M477.8 127.6h1M478.0 123.5h1M484.3 143.5h1M471.9 135.9h1M474.9 120.9h1M475.2 150.3h1M477.9 138.6h1M473.1 133.9h1M479.2 138.2h1M482.5 134.4h1M481.9 150.3h1M479.7 135.9h1M477.3 128.6h1M479.0 125.2h1M478.8 125.2h1M477.3 150.3h1M477.5 150.3h1M476.2 139.6h1M477.9 129.3h1M478.7 136.1h1M480.6 135.6h1M474.3 127.2h1M475.4 126.5h1M484.6 130.5h1M481.2 116.6h1M478.5 139.3h1M481.8 121.4h1M476.1 122.6h1M477.9 134.1h1M473.3 140.7h1M480.3 146.6h1M480.0 121.8h1M474.3 102.5h1M481.2 141.3h1M479.4 113.4h1M486.2 142.8h1M480.7 134.8h1M483.7 132.1h1M479.3 136.1h1M485.0 139.7h1M476.6 145.1h1M476.0 134.2h1M480.7 146.4h1M477.4 144.0h1M480.1 141.1h1M479.4 147.1h1M481.6 135.9h1M480.9 132.5h1M474.9 131.7h1M483.2 135.3h1M477.9 124.3h1M475.6 129.4h1M477.1 121.0h1M475.2 141.6h1M479.9 127.0h1M478.4 142.2h1M479.5 136.3h1M482.2 143.1h1M473.4 148.1h1M480.8 117.6h1M480.5 130.6h1M478.7 112.3h1M478.6 112.2h1M480.3 130.2h1M476.7 136.3h1M478.7 146.3h1M477.8 131.4h1M477.4 127.4h1M476.2 126.6h1M479.4 121.7h1M481.0 133.0h1M479.5 134.8h1M476.7 139.1h1M477.1 126.4h1M477.7 138.6h1M476.4 124.6h1M476.5 131.0h1M481.3 112.5h1M474.8 144.0h1M478.4 139.2h1M482.6 134.5h1M483.2 130.1h1M478.8 133.5h1M477.4 139.9h1M480.3 118.6h1M478.2 150.3h1M481.9 135.2h1M482.5 118.5h1M475.0 121.3h1M475.3 134.8h1M475.3 142.7h1M482.6 135.2h1M475.6 119.9h1M481.6 131.5h1M479.9 129.9h1M482.3 150.3h1M477.0 128.6h1M478.2 117.7h1M478.8 145.1h1M483.6 150.3h1M477.4 120.9h1M486.6 117.9h1M481.6 135.0h1M484.1 137.3h1M479.3 148.1h1M477.3 143.1h1M478.6 118.9h1M476.6 116.7h1M478.8 108.7h1M477.6 126.5h1M469.7 124.1h1M476.8 137.7h1M479.7 128.6h1M483.6 116.0h1M475.0 138.7h1M482.0 128.4h1M478.6 111.1h1M476.8 125.3h1M479.6 130.4h1M482.7 120.9h1M480.9 136.2h1M478.0 123.9h1M474.2 126.3h1M478.3 129.6h1M477.0 115.8h1M477.2 114.3h1M482.1 133.0h1M479.4 130.4h1M478.6 126.1h1M479.8 139.9h1M478.1 122.9h1M478.7 131.6h1M478.3 134.6h1M482.8 136.5h1M477.8 129.7h1M482.0 129.3h1M478.1 146.4h1M476.3 132.7h1M479.1 145.4h1M480.1 150.3h1M480.4 134.4h1M476.6 148.3h1M476.4 139.9h1M477.4 131.3h1M476.4 148.3h1M480.7 137.7h1M481.4 136.9h1M481.4 148.2h1M474.5 123.0h1M472.7 138.5h1M480.5 129.7h1M484.9 130.5h1M483.5 130.3h1M484.1 130.9h1M481.0 114.8h1M485.7 142.0h1M473.5 146.8h1M479.2 132.4h1M480.8 105.3h1M481.6 131.6h1M484.0 123.8h1M469.7 119.6h1M480.4 131.0h1M471.3 128.8h1M492.9 122.3h1M472.9 116.9h1M470.1 107.7h1M482.9 127.3h1M483.3 141.4h1M476.8 125.3h1M479.6 92.1h1M482.6 140.7h1M477.9 135.5h1M482.0 150.3h1M485.1 134.0h1M484.3 103.4h1M485.1 144.5h1M475.7 150.3h1M476.4 129.9h1M485.6 123.5h1M481.5 136.0h1M472.8 128.5h1M473.7 133.0h1M475.9 106.2h1M476.6 87.4h1M484.5 130.1h1M480.8 98.3h1M468.3 110.7h1M489.8 120.1h1M469.5 146.7h1M481.5 122.4h1M485.5 147.2h1M479.4 102.8h1M482.3 139.4h1M477.4 130.3h1M492.2 97.8h1M476.7 126.4h1M479.7 118.3h1M477.9 130.8h1M474.4 113.5h1M484.1 126.7h1M478.1 106.2h1M476.7 127.2h1M480.0 130.0h1M473.4 118.9h1M481.6 138.9h1M478.2 124.1h1M476.8 74.2h1M480.8 123.2h1M473.0 139.2h1M479.8 115.7h1M475.3 131.1h1M476.5 115.4h1M485.3 147.7h1M482.7 138.2h1M472.8 113.0h1M484.8 86.6h1M480.3 96.0h1M477.1 132.3h1M484.9 141.7h1M479.7 112.4h1M468.3 120.0h1M483.7 150.3h1M473.3 116.9h1M474.7 139.2h1M467.3 98.2h1M480.7 129.3h1M478.3 120.6h1M478.2 119.6h1M484.6 133.5h1M481.1 111.6h1M475.2 133.7h1M482.1 120.9h1M473.7 125.6h1M474.2 111.8h1M481.5 133.4h1M480.9 107.3h1M475.4 146.6h1M478.0 95.2h1M488.4 124.4h1M480.1 114.4h1M491.1 96.9h1M465.9 101.6h1M483.9 131.2h1M479.7 134.0h1M463.3 130.2h1M477.0 150.3h1M478.8 128.1h1M480.3 130.7h1M469.3 115.5h1M474.0 146.1h1M484.3 127.0h1M488.9 115.5h1M462.6 104.5h1M473.8 127.8h1M477.1 138.0h1M482.9 131.8h1M474.5 127.9h1M482.2 134.6h1M479.8 119.8h1M491.7 135.0h1M476.3 120.0h1M480.3 104.9h1M482.3 120.9h1M486.9 118.4h1M482.0 114.4h1M485.5 135.8h1M479.3 98.4h1M483.0 150.1h1M483.7 129.2h1M473.5 134.6h1M480.0 132.4h1M492.3 131.4h1M477.7 106.2h1M471.5 131.6h1M475.7 121.5h1M486.9 134.5h1M488.6 137.3h1M479.5 113.6h1M481.3 113.1h1M479.3 104.0h1M481.8 108.5h1M475.7 150.3h1M464.9 110.1h1M472.3 102.2h1M482.7 150.3h1M467.2 131.4h1M480.3 136.7h1M478.2 150.3h1M473.8 113.1h1M471.4 120.5h1M461.0 136.9h1M478.1 150.3h1M464.1 143.2h1M479.0 114.4h1M486.5 142.5h1M489.2 116.8h1M476.3 141.3h1M476.3 113.2h1M480.1 125.2h1M479.2 127.3h1M478.0 122.1h1M474.6 147.6h1M469.9 121.0h1M491.6 120.4h1M482.1 106.4h1M471.0 112.8h1M485.9 131.7h1M480.5 113.5h1M477.6 107.7h1M494.7 148.4h1M473.6 149.9h1M482.9 125.2h1M485.9 92.2h1M484.7 150.3h1M475.1 113.4h1M481.9 126.1h1M473.9 132.1h1M491.2 118.5h1M470.8 137.4h1M476.4 129.2h1M476.9 119.3h1M479.3 101.9h1M478.0 133.6h1M477.8 126.7h1M475.6 150.1h1M473.0 96.4h1M475.6 105.3h1M481.1 102.9h1M476.3 134.8h1M475.5 135.0h1M475.5 98.1h1M494.4 131.2h1M480.3 124.9h1M480.9 118.0h1M482.2 103.9h1M483.5 138.8h1M483.0 139.1h1M486.1 120.5h1M483.9 130.8h1M467.7 133.2h1M480.6 140.7h1M479.7 105.0h1M474.5 114.6h1M479.6 131.5h1M478.3 118.3h1M475.0 129.0h1M472.4 150.3h1M488.3 139.3h1M484.5 126.2h1M485.0 126.1h1M488.1 93.0h1M478.7 118.0h1M477.5 125.4h1M481.6 113.2h1M486.4 114.4h1M482.0 146.0h1M477.8 140.0h1M474.6 122.6h1M478.9 133.3h1M481.1 143.4h1M467.3 133.0h1M476.1 116.6h1M479.4 126.7h1M477.3 109.3h1M470.7 119.1h1M476.9 122.0h1M482.9 100.7h1M484.5 123.6h1M475.3 133.1h1M487.8 121.8h1M465.0 150.3h1M473.4 150.3h1M474.9 112.6h1M473.9 143.6h1M466.9 118.0h1M479.1 142.9h1M482.4 119.6h1M484.4 118.5h1M479.7 112.1h1M477.7 150.3h1M477.7 78.5h1M482.6 83.2h1M481.2 88.4h1M479.5 73.8h1M479.0 79.4h1M480.3 75.5h1M480.6 80.8h1M479.9 72.9h1M479.1 80.8h1M478.4 75.1h1M480.8 82.5h1M476.9 79.1h1M479.8 86.8h1M478.3 71.4h1M478.4 77.8h1M479.5 80.1h1M476.8 83.9h1M480.2 79.2h1M478.1 78.0h1M477.3 86.6h1M476.1 79.0h1M480.0 78.4h1M474.6 79.7h1M479.2 78.2h1M478.2 79.5h1M482.5 81.6h1M478.6 72.5h1M477.4 78.1h1M481.9 82.3h1M485.1 82.7h1M481.8 75.3h1M479.5 74.2h1M480.1 77.4h1M478.0 79.3h1M479.3 85.0h1M479.8 81.3h1M479.1 77.9h1M480.3 77.4h1M483.7 78.4h1M474.1 79.3h1M478.9 77.0h1M480.4 81.0h1M476.4 76.6h1M477.0 81.3h1M479.1 83.7h1M478.6 78.8h1M480.4 80.9h1M476.6 83.3h1M480.1 84.5h1M478.5 81.7h1M474.8 79.0h1M477.0 74.6h1M476.5 81.5h1M477.1 83.7h1M478.8 79.4h1M481.2 77.8h1M482.3 76.6h1M476.4 76.0h1M476.1 82.6h1M476.0 82.4h1M477.6 82.2h1M478.8 83.9h1M476.9 80.1h1M481.4 80.2h1M480.6 79.4h1M481.2 79.0h1M478.9 74.0h1M478.6 82.5h1M478.2 78.3h1M475.8 81.1h1M474.8 74.6h1M482.3 79.0h1M483.3 84.8h1M477.4 80.0h1M477.2 79.9h1M480.9 78.7h1M480.4 80.5h1M478.7 81.9h1M475.8 81.4h1M481.6 80.3h1M478.7 80.1h1M477.6 76.6h1M479.6 85.9h1M477.4 82.9h1M481.8 82.2h1M474.5 76.7h1M475.6 80.0h1M482.4 76.9h1M477.4 84.9h1M479.9 81.4h1M480.9 76.6h1M479.5 76.1h1M478.4 81.1h1M481.3 76.0h1M479.1 75.4h1M479.3 81.0h1M478.7 81.7h1M480.5 83.4h1M476.6 81.1h1M480.9 83.7h1M479.0 73.7h1M480.1 83.7h1M479.2 82.0h1M481.4 79.2h1M475.9 75.4h1M479.9 85.7h1M484.2 79.3h1M477.6 79.6h1M478.6 79.4h1M481.4 84.8h1M481.7 77.9h1M475.9 80.2h1M475.5 73.4h1M479.8 81.1h1M476.9 81.5h1M476.9 73.4h1M476.7 79.6h1M477.6 76.9h1M479.8 76.0h1M482.0 80.7h1M481.4 78.6h1M479.5 80.9h1M479.4 80.9h1M478.5 80.5h1M480.6 82.3h1M481.2 82.1h1M485.5 83.0h1M483.3 85.7h1M475.0 83.7h1M479.6 82.9h1M478.3 79.7h1M476.7 80.2h1M473.3 83.4h1M476.3 75.8h1M475.3 77.0h1M480.1 81.8h1M479.0 87.5h1M478.8 82.4h1M476.4 79.1h1M481.8 78.7h1M479.0 75.5h1M482.0 78.8h1M484.5 79.8h1M480.3 72.0h1M481.4 78.9h1M479.8 81.4h1M482.3 82.3h1M477.8 77.4h1M483.3 77.8h1M477.8 77.4h1M479.6 77.6h1M476.5 81.9h1M476.9 79.0h1M478.9 78.7h1M477.1 79.6h1M477.1 78.6h1M481.0 78.5h1M477.8 82.3h1M482.1 79.6h1M477.2 75.4h1M480.7 84.6h1M481.8 78.1h1M483.4 80.3h1M478.0 75.7h1M475.3 80.6h1M478.3 83.9h1M482.9 79.7h1M479.6 79.6h1M479.0 79.2h1M481.4 81.5h1M481.4 79.1h1M479.9 76.8h1M481.9 74.0h1M479.2 79.4h1M480.0 76.8h1M476.6 84.5h1M476.4 76.7h1M477.0 81.8h1M475.2 86.1h1M480.9 78.6h1M482.4 77.4h1M478.8 82.2h1M480.0 73.3h1M475.6 77.9h1M483.4 72.4h1M479.7 82.6h1M479.8 80.6h1M481.4 75.6h1M480.0 82.1h1M480.3 78.2h1M483.1 78.7h1M478.2 81.2h1M478.7 86.1h1M477.0 77.5h1M484.1 77.5h1M482.2 77.4h1M480.3 80.0h1M480.7 80.6h1M482.0 83.3h1M479.2 85.6h1M474.1 79.4h1M482.3 80.6h1M476.8 80.0h1M476.9 83.9h1M480.4 78.3h1M475.0 75.7h1M477.1 79.6h1M478.7 78.6h1M475.1 79.1h1M483.6 80.3h1M479.5 80.7h1M477.9 77.0h1M477.8 87.2h1M475.8 78.7h1M480.9 82.5h1M476.4 80.5h1M481.2 77.8h1M479.7 78.8h1M477.8 84.3h1M481.9 81.8h1M477.9 79.3h1M475.3 84.3h1M475.6 82.3h1M479.1 83.9h1M477.5 79.2h1M476.6 77.8h1M480.2 80.5h1M483.9 81.7h1M479.6 78.3h1M483.6 78.9h1M478.0 73.2h1M477.0 82.3h1M478.1 83.3h1M480.7 78.1h1M477.1 78.4h1M476.8 78.3h1M482.4 77.9h1M480.9 76.8h1M483.7 82.6h1M482.0 69.2h1M477.6 79.6h1M478.4 81.1h1M479.5 73.9h1M481.9 81.3h1M480.3 76.5h1M473.8 77.7h1M476.6 80.5h1M483.1 80.1h1M475.6 75.8h1M477.1 74.1h1M480.8 77.1h1M483.0 79.7h1M474.4 81.8h1M478.8 82.2h1M479.3 71.9h1M475.4 75.0h1M477.4 79.1h1M479.0 78.5h1M481.1 79.1h1M479.3 82.4h1M474.7 81.8h1M481.6 79.8h1M481.1 99.3h1M477.2 84.9h1M475.3 78.4h1M478.7 84.1h1M473.2 93.1h1M466.8 80.6h1M477.9 90.4h1M476.7 86.1h1M484.8 97.1h1M481.3 93.8h1M477.6 78.6h1M478.1 90.0h1M473.0 100.4h1M480.9 92.4h1M473.7 80.2h1M478.7 81.4h1M474.6 101.7h1M480.9 72.2h1M477.6 77.7h1M474.9 85.2h1M476.8 83.5h1M483.5 81.1h1M480.5 89.2h1M477.2 83.9h1M476.6 73.6h1M474.2 80.7h1M479.0 100.9h1M481.5 65.0h1M484.5 91.9h1M478.9 87.5h1M480.6 87.3h1M476.5 85.3h1M483.2 93.4h1M478.2 84.4h1M480.7 85.2h1M479.7 81.3h1M484.7 93.3h1M480.0 71.2h1M488.0 77.9h1M479.1 102.8h1M478.7 81.7h1M474.6 98.4h1M480.3 85.2h1M478.1 74.1h1M475.6 92.5h1M482.4 85.0h1M480.8 98.0h1M484.5 90.3h1M474.4 84.1h1M477.7 100.9h1M477.1 79.5h1M477.0 80.0h1M472.8 84.5h1M478.6 96.9h1M480.2 74.1h1M479.0 93.2h1M479.4 80.2h1M473.1 69.4h1M480.8 82.7h1M479.7 96.4h1M482.2 79.4h1M473.3 90.7h1M484.8 92.3h1M481.7 80.8h1M486.3 94.3h1M478.7 89.7h1M478.4 84.6h1M477.2 80.8h1M479.6 83.5h1M477.0 78.8h1M482.4 63.4h1M479.2 73.7h1M479.8 89.9h1M476.3 79.0h1M481.7 83.1h1M477.1 72.4h1M486.1 74.2h1M474.3 90.1h1M474.3 78.4h1M476.6 82.2h1M477.3 78.8h1M473.8 88.7h1M483.8 67.5h1M472.7 92.5h1M471.1 86.2h1M477.7 75.5h1M474.4 83.0h1M477.6 101.7h1M369.8 131.4h1M388.8 129.3h1M395.4 119.6h1M406.7 131.8h1M395.8 137.1h1M374.3 129.5h1M384.5 128.3h1M396.8 129.1h1M405.3 124.7h1M406.0 128.3h1M393.4 125.0h1M402.7 137.0h1M387.4 131.0h1M397.3 128.4h1M401.7 129.4h1M386.7 119.0h1M383.3 133.2h1M400.6 127.3h1M386.3 126.5h1M381.5 118.4h1M383.8 136.9h1M400.0 142.4h1M381.3 133.0h1M389.0 123.2h1M397.0 121.7h1M382.0 134.2h1M378.2 135.3h1M379.5 126.8h1M371.3 118.6h1M394.7 135.5h1M398.8 128.7h1M399.1 129.9h1M383.3 127.2h1M383.3 141.7h1M389.2 127.7h1M365.8 127.4h1M381.9 127.6h1M397.2 131.0h1M381.0 138.4h1M368.8 126.4h1M397.9 134.6h1M417.3 124.8h1M386.3 124.0h1M391.5 133.0h1M397.6 135.4h1M396.0 130.4h1M402.2 121.3h1M395.5 137.2h1M378.8 125.3h1M394.7 130.5h1M407.7 128.5h1M400.4 133.2h1M396.7 141.7h1M400.0 131.6h1M388.1 128.1h1M373.8 133.2h1M389.8 125.3h1M394.2 128.0h1M385.7 130.3h1M397.1 128.7h1M414.6 126.1h1M377.6 126.6h1M385.8 121.9h1M393.3 123.5h1M368.6 113.8h1M388.6 135.0h1M382.0 130.2h1M400.0 133.6h1M394.1 124.8h1M376.5 125.2h1M401.1 122.2h1M390.7 123.8h1M363.2 124.1h1M381.1 127.1h1M389.2 147.1h1M376.1 129.4h1M399.8 136.0h1M388.1 130.3h1M387.1 128.3h1M390.4 131.6h1M397.0 128.6h1M379.1 127.4h1M364.2 124.5h1M388.6 129.2h1M381.8 126.5h1M385.3 131.7h1M379.1 130.1h1M391.8 123.4h1M387.9 130.5h1M391.7 132.8h1M387.8 119.5h1M393.8 127.7h1M394.3 129.6h1M385.7 124.0h1M405.3 122.2h1M387.7 132.7h1M407.6 123.3h1M417.0 126.2h1M388.2 134.1h1M394.8 138.5h1M388.7 139.3h1M410.8 120.2h1M364.0 122.2h1M383.9 124.5h1M402.9 133.7h1M380.7 133.5h1M392.4 125.2h1M383.4 129.1h1M377.9 135.9h1M369.9 128.2h1M381.6 132.5h1M395.6 126.3h1M388.7 123.9h1M390.7 129.2h1M409.7 128.2h1M387.5 122.0h1M393.6 121.8h1M390.2 127.4h1M399.5 134.5h1M389.3 122.9h1M386.4 117.0h1M396.0 133.7h1M380.9 127.0h1M390.3 131.5h1M395.7 126.5h1M391.1 136.7h1M380.1 126.2h1M391.7 128.9h1M393.8 134.7h1M393.7 116.7h1M383.1 128.5h1M385.8 134.0h1M406.9 119.4h1M368.3 129.5h1M387.4 131.9h1M372.5 131.3h1M389.4 125.9h1M391.8 136.2h1M369.8 129.1h1M391.4 128.1h1M399.0 129.0h1M420.2 128.3h1M396.0 130.0h1M388.6 130.3h1M391.8 132.5h1M400.1 124.1h1M392.2 116.5h1M386.1 125.2h1M363.2 130.7h1M387.2 126.0h1M399.8 128.0h1M377.3 139.2h1M410.3 130.6h1M389.4 132.6h1M377.3 120.5h1M382.5 125.7h1M390.7 133.0h1M385.7 125.7h1M380.6 127.7h1M397.0 133.0h1M400.5 131.5h1M385.7 121.7h1M406.6 122.9h1M399.2 128.9h1M387.9 128.5h1M397.6 129.1h1M390.0 129.3h1M390.4 137.2h1M394.2 124.0h1M385.0 141.6h1M386.7 131.2h1M386.7 123.2h1M381.1 123.3h1M394.4 119.7h1M393.5 120.1h1M394.1 128.8h1M385.9 124.6h1M407.9 134.2h1M378.6 125.5h1M382.9 132.3h1M401.0 122.9h1M383.3 134.5h1M381.4 126.7h1M384.4 124.5h1M377.9 134.9h1M412.7 127.5h1M391.2 127.3h1M381.4 132.1h1M386.2 133.4h1M376.6 126.3h1M408.6 115.7h1M389.9 115.2h1M381.3 134.4h1M404.4 122.3h1M404.0 136.8h1M389.1 139.2h1M380.4 125.3h1M370.0 110.8h1M429.1 127.7h1M450.0 130.3h1M396.6 128.9h1M448.9 140.1h1M446.0 120.2h1M457.7 121.2h1M467.8 130.8h1M434.3 133.6h1M372.5 136.3h1M454.7 135.1h1M414.8 114.6h1M474.9 134.2h1M390.3 121.9h1M404.9 137.4h1M425.5 122.8h1M383.1 126.2h1M392.0 122.1h1M433.0 146.4h1M391.0 121.6h1M403.0 140.2h1M448.1 136.5h1M465.0 133.3h1M425.8 116.0h1M380.5 115.4h1M472.5 128.3h1M414.0 127.4h1M452.9 137.2h1M445.6 119.0h1M435.3 142.5h1M366.0 134.0h1M464.3 114.4h1M382.7 150.3h1M453.5 123.2h1M373.5 109.8h1M432.5 126.7h1M424.1 127.5h1M377.9 134.6h1M472.3 140.5h1M470.2 123.7h1M420.1 144.1h1M444.4 127.9h1M375.9 133.2h1M372.4 121.3h1M397.1 126.4h1M403.9 123.9h1M403.3 122.3h1M429.9 128.7h1M409.6 144.9h1M416.6 124.9h1M393.4 125.5h1M384.3 122.8h1M380.7 137.8h1M419.7 124.7h1M370.2 114.3h1M365.9 127.5h1M381.0 124.3h1M397.5 117.3h1M419.4 134.5h1M474.0 131.1h1M443.5 131.4h1M418.0 120.4h1M468.4 130.3h1M417.5 144.5h1M375.9 130.4h1M391.6 117.7h1M379.5 130.7h1M433.7 123.2h1M450.4 120.2h1M424.0 129.5h1M444.1 137.1h1M436.0 133.4h1M402.7 146.9h1M450.2 134.8h1M453.7 126.1h1M447.5 136.4h1M453.7 135.4h1M404.5 129.4h1M423.9 126.4h1M465.8 118.1h1M380.6 129.4h1M470.2 124.4h1M457.6 126.5h1M464.7 136.6h1M405.6 106.0h1M401.4 130.4h1M421.8 134.0h1M378.6 131.2h1M390.1 148.3h1M463.3 142.1h1M407.6 109.4h1M402.7 133.3h1M397.3 118.7h1M392.4 127.6h1M469.7 123.5h1M392.8 142.5h1M395.1 132.6h1M469.4 131.7h1M462.5 133.6h1M437.6 131.8h1M404.7 133.8h1M413.2 132.1h1M451.9 128.8h1M381.7 131.3h1M442.5 140.7h1M431.7 113.9h1M473.5 148.4h1M426.9 120.0h1M466.2 124.0h1M456.5 123.7h1M436.3 119.4h1M444.5 120.6h1M438.1 110.3h1M459.0 145.7h1M394.3 125.0h1M451.4 127.9h1M440.9 134.6h1M414.1 128.9h1M428.3 150.3h1M421.5 124.3h1M389.7 115.8h1M386.3 131.8h1M406.4 139.0h1M415.4 112.2h1M410.3 145.7h1M422.7 121.7h1M418.3 146.0h1M407.8 126.3h1M437.7 142.3h1M421.3 129.6h1M375.8 120.2h1M418.8 137.4h1M381.2 136.9h1M463.4 122.1h1M416.4 125.7h1M422.2 133.0h1M425.2 129.1h1M474.4 146.4h1M472.5 123.8h1M446.5 131.8h1M461.8 120.7h1M428.5 134.3h1M415.8 115.9h1M438.1 127.0h1M374.5 125.2h1M396.7 120.6h1M398.9 125.0h1M417.2 129.2h1M372.1 118.1h1M404.8 136.0h1M447.8 123.1h1M422.5 138.5h1M400.1 96.4h1M430.9 135.1h1M407.2 139.5h1M406.2 122.2h1M403.8 127.1h1M448.7 98.5h1M395.3 140.7h1M381.4 138.6h1M437.8 127.2h1M420.8 118.6h1M447.0 142.5h1M417.2 134.0h1M473.2 132.0h1M459.4 127.3h1M467.0 125.9h1M432.9 110.2h1M409.3 122.0h1M421.5 131.7h1M467.4 122.8h1M439.6 124.5h1M421.1 142.3h1M415.9 141.1h1M393.9 131.7h1M466.2 122.9h1M430.4 128.5h1M369.5 134.6h1M367.7 126.3h1M470.0 116.6h1M408.5 138.1h1M427.8 128.6h1M459.5 133.6h1M395.6 119.5h1M456.0 116.8h1M443.5 128.6h1M429.4 108.6h1M428.8 135.1h1M371.8 127.5h1M466.6 133.2h1M382.3 115.0h1M459.1 124.4h1M388.1 115.9h1M455.6 119.5h1M470.9 144.3h1M396.0 120.4h1M370.5 137.5h1M405.2 128.9h1M443.1 128.4h1M458.0 135.6h1M462.8 121.1h1M458.9 123.3h1M461.2 150.3h1M466.9 143.8h1M466.6 122.7h1M461.2 136.8h1M466.9 131.3h1M455.9 128.3h1M460.0 119.1h1M454.1 138.0h1M474.0 128.6h1M467.1 145.0h1M472.5 137.8h1M462.8 117.2h1M452.3 135.2h1M462.8 132.0h1M456.6 134.0h1M475.2 133.7h1M469.4 114.7h1M448.6 135.6h1M458.8 139.3h1M462.8 136.0h1M461.4 136.8h1M468.3 128.9h1M477.1 130.7h1M454.6 120.3h1M476.4 131.8h1M466.8 146.2h1M458.0 124.8h1M464.1 145.1h1M475.6 141.4h1M455.7 126.5h1M460.1 135.0h1M454.0 124.7h1M466.5 150.3h1M452.0 136.9h1M471.3 131.2h1M472.3 136.9h1M473.1 134.8h1M453.6 148.8h1M465.6 143.7h1M464.6 150.3h1M471.2 139.5h1M466.3 144.5h1M470.9 131.8h1M463.4 131.2h1M459.0 149.7h1M470.1 137.0h1M471.8 121.3h1M455.8 134.7h1M452.2 115.9h1M460.3 129.5h1M459.3 130.0h1M464.6 122.8h1M473.6 145.6h1M468.2 131.2h1M453.8 125.2h1M476.7 121.1h1M462.8 142.4h1M463.1 129.5h1M459.3 130.2h1M462.1 150.3h1M476.0 145.8h1M466.1 146.2h1M458.5 128.8h1M456.5 137.2h1M465.4 112.8h1M457.4 118.2h1M466.6 132.0h1M462.2 137.2h1M464.8 137.4h1M458.9 137.4h1M460.0 126.4h1M476.0 121.6h1M455.4 122.0h1M455.7 150.3h1M453.0 132.9h1M467.2 146.6h1M472.0 124.9h1M461.7 132.8h1M457.9 140.5h1M466.8 137.5h1M455.9 121.3h1M476.0 126.5h1M469.3 150.3h1M468.7 149.7h1M469.8 125.9h1M466.6 150.3h1M466.4 124.0h1M465.2 138.0h1M473.5 145.4h1M459.3 120.1h1M469.3 107.9h1M454.9 131.2h1M456.7 125.2h1M452.0 116.4h1M451.2 148.6h1M457.7 127.9h1M471.2 134.9h1M476.9 138.7h1M459.5 133.5h1M459.7 124.6h1M461.1 120.3h1M458.1 150.3h1M459.0 134.0h1M466.0 138.3h1M464.7 140.6h1M456.3 139.5h1M463.5 135.5h1M449.0 128.2h1M469.9 137.9h1M462.5 135.8h1M455.2 135.0h1M467.1 112.7h1M473.6 131.4h1M454.3 129.9h1M470.3 140.4h1M462.7 147.8h1M460.0 126.6h1M462.1 119.9h1M458.0 124.3h1M466.8 114.4h1M454.5 130.3h1M456.2 121.5h1M371.5 87.7h1M445.3 82.7h1M453.9 75.9h1M403.8 78.5h1M439.7 70.8h1M380.1 86.1h1M419.5 72.0h1M440.2 89.2h1M428.4 71.2h1M432.0 87.8h1M438.3 83.4h1M430.6 88.2h1M433.1 79.8h1M423.7 81.6h1M405.5 80.9h1M408.6 74.4h1M422.9 74.1h1M434.6 78.7h1M420.9 90.5h1M370.2 70.6h1M421.7 78.3h1M433.7 83.0h1M376.4 89.0h1M395.3 74.5h1M404.1 95.7h1M414.2 94.4h1M391.0 82.1h1M378.8 91.6h1M453.1 81.0h1M418.1 86.6h1M399.3 79.3h1M388.6 71.5h1M397.1 85.1h1M385.1 90.2h1M437.5 83.6h1M373.7 86.8h1M391.2 75.3h1M459.6 81.7h1M379.8 79.9h1M383.0 90.9h1M371.3 78.4h1M382.5 76.9h1M370.6 75.1h1M368.8 76.7h1M373.7 76.0h1M387.4 76.9h1M377.7 79.6h1M381.7 81.7h1M374.6 73.3h1M374.6 79.1h1" stroke="#000" stroke-width="1" stroke-opacity=".9" fill="none" transform="translate(-0.5,0)"/>
<rect x="361.6" y="35.5" width="151.6" height="114.8" fill="none" stroke="#2a2a2a" stroke-width="1"/>
<path d="M465.6 35.5V150.3M361.6 100.8H513.2" stroke="#2a2a2a" stroke-width="1" fill="none"/>
<path d="M361.60 150.3v3.6M361.6 150.30h-3.8M373.01 150.3v1.8M361.6 141.66h-2M379.68 150.3v1.8M361.6 136.61h-2M384.42 150.3v1.8M361.6 133.02h-2M388.09 150.3v1.8M361.6 130.24h-2M391.09 150.3v1.8M361.6 127.97h-2M393.63 150.3v1.8M361.6 126.05h-2M395.83 150.3v1.8M361.6 124.38h-2M397.77 150.3v1.8M361.6 122.91h-2M399.50 150.3v3.6M361.6 121.60h-3.8M410.91 150.3v1.8M361.6 112.96h-2M417.58 150.3v1.8M361.6 107.91h-2M422.32 150.3v1.8M361.6 104.32h-2M425.99 150.3v1.8M361.6 101.54h-2M428.99 150.3v1.8M361.6 99.27h-2M431.53 150.3v1.8M361.6 97.35h-2M433.73 150.3v1.8M361.6 95.68h-2M435.67 150.3v1.8M361.6 94.21h-2M437.40 150.3v3.6M361.6 92.90h-3.8M448.81 150.3v1.8M361.6 84.26h-2M455.48 150.3v1.8M361.6 79.21h-2M460.22 150.3v1.8M361.6 75.62h-2M463.89 150.3v1.8M361.6 72.84h-2M466.89 150.3v1.8M361.6 70.57h-2M469.43 150.3v1.8M361.6 68.65h-2M471.63 150.3v1.8M361.6 66.98h-2M473.57 150.3v1.8M361.6 65.51h-2M475.30 150.3v3.6M361.6 64.20h-3.8M486.71 150.3v1.8M361.6 55.56h-2M493.38 150.3v1.8M361.6 50.51h-2M498.12 150.3v1.8M361.6 46.92h-2M501.79 150.3v1.8M361.6 44.14h-2M504.79 150.3v1.8M361.6 41.87h-2M507.33 150.3v1.8M361.6 39.95h-2M509.53 150.3v1.8M361.6 38.28h-2M511.47 150.3v1.8M361.6 36.81h-2M513.20 150.3v3.6M361.6 35.50h-3.8" stroke="#222" stroke-width="1" fill="none"/>
<g font-family='"Liberation Sans", "DejaVu Sans", sans-serif' font-size="7.4" fill="#1a1a1a" stroke="#1a1a1a" stroke-width=".3">
<text transform="translate(361.9 160.6) scale(.96 1.07)" text-anchor="middle">10<tspan dy="-2.5" font-size="6.2">0</tspan></text>
<text transform="translate(355.2 156.0) rotate(-90) scale(.85 1.2)">10<tspan dy="-3.8" font-size="5.8">0</tspan></text>
<text transform="translate(399.8 160.6) scale(.96 1.07)" text-anchor="middle">10<tspan dy="-2.5" font-size="6.2">1</tspan></text>
<text transform="translate(355.2 127.3) rotate(-90) scale(.85 1.2)">10<tspan dy="-3.8" font-size="5.8">1</tspan></text>
<text transform="translate(437.7 160.6) scale(.96 1.07)" text-anchor="middle">10<tspan dy="-2.5" font-size="6.2">2</tspan></text>
<text transform="translate(355.2 98.6) rotate(-90) scale(.85 1.2)">10<tspan dy="-3.8" font-size="5.8">2</tspan></text>
<text transform="translate(475.6 160.6) scale(.96 1.07)" text-anchor="middle">10<tspan dy="-2.5" font-size="6.2">3</tspan></text>
<text transform="translate(355.2 69.9) rotate(-90) scale(.85 1.2)">10<tspan dy="-3.8" font-size="5.8">3</tspan></text>
<text transform="translate(513.5 160.6) scale(.96 1.07)" text-anchor="middle">10<tspan dy="-2.5" font-size="6.2">4</tspan></text>
<text transform="translate(355.2 41.2) rotate(-90) scale(.85 1.2)">10<tspan dy="-3.8" font-size="5.8">4</tspan></text>
<text x="436.9" y="168.3" text-anchor="middle" font-size="7.2">FL1-H</text>
<text transform="translate(344.3 94.4) rotate(-90)" text-anchor="middle" font-size="7.0">FL2-H</text>
</g>
<g font-family='"Liberation Serif", "DejaVu Serif", serif' font-weight="bold" font-size="15.9" fill="#0c0c0c" stroke="#0c0c0c" stroke-width=".35">
<text x="366.1" y="54.5">0.8%</text>
<text x="468.4" y="54.5">99.2%</text>
</g>
</g>
<g>
<path d="M169.2 290.4h1M161.3 315.0h1M173.4 296.7h1M175.0 297.5h1M169.6 305.6h1M162.5 302.7h1M166.8 294.1h1M178.3 310.4h1M179.2 301.2h1M184.0 289.7h1M177.7 314.3h1M178.8 312.6h1M189.3 305.9h1M169.2 287.2h1M151.2 300.7h1M159.1 304.8h1M162.3 295.8h1M168.0 298.3h1M178.8 313.8h1M187.5 302.7h1M152.4 305.8h1M181.4 293.3h1M163.5 300.1h1M174.2 293.0h1M169.9 293.4h1M161.2 306.3h1M179.1 295.4h1M170.9 296.3h1M173.9 295.0h1M184.9 296.9h1M181.0 303.8h1M165.0 318.7h1M176.2 300.6h1M177.6 315.0h1M165.9 305.1h1M150.6 294.0h1M185.6 310.5h1M176.6 287.7h1M157.5 293.3h1M189.9 286.7h1M155.7 308.9h1M173.9 291.7h1M156.9 306.6h1M158.6 292.4h1M165.0 296.5h1M179.0 292.0h1M176.3 298.3h1M184.9 297.2h1M156.8 304.9h1M182.0 299.8h1M167.4 299.0h1M210.0 301.2h1M177.1 297.3h1M168.3 291.7h1M181.5 297.8h1M155.8 291.2h1M180.4 301.5h1M140.2 301.3h1M157.4 302.6h1M165.6 307.2h1M183.3 300.0h1M185.9 308.2h1M169.3 290.4h1M175.3 306.4h1M161.1 305.4h1M170.5 295.6h1M173.2 295.1h1M181.3 299.9h1M186.5 295.2h1M169.3 302.1h1M171.3 306.5h1M155.8 300.6h1M165.5 296.4h1M164.5 300.1h1M173.8 304.5h1M173.7 306.4h1M166.5 294.7h1M176.0 300.9h1M162.3 295.5h1M194.7 317.5h1M183.7 299.2h1M184.2 291.9h1M159.6 287.6h1M164.5 302.8h1M178.7 301.5h1M174.5 304.8h1M159.3 300.8h1M158.7 290.6h1M174.2 290.2h1M156.9 316.8h1M144.8 303.8h1M156.4 298.2h1M154.4 311.5h1M174.7 303.9h1M179.3 294.7h1M175.5 310.2h1M161.3 283.6h1M168.7 298.7h1M172.8 301.1h1M169.4 305.2h1M165.4 316.3h1M190.8 301.7h1M156.1 297.0h1M179.1 311.9h1M165.3 289.5h1M177.7 297.6h1M183.0 301.9h1M168.0 288.7h1M169.2 301.5h1M178.8 300.7h1M157.0 286.5h1M170.5 287.2h1M177.3 307.9h1M189.4 302.2h1M161.4 301.1h1M146.4 297.8h1M162.9 302.8h1M161.0 295.7h1M175.5 292.7h1M190.7 298.8h1M172.5 298.6h1M161.9 305.1h1M180.1 307.5h1M148.9 303.6h1M174.3 289.7h1M163.1 308.1h1M172.5 302.1h1M174.3 304.9h1M173.7 305.3h1M182.8 298.8h1M178.0 304.3h1M154.7 300.8h1M170.7 292.6h1M182.5 301.2h1M170.8 308.5h1M170.8 299.3h1M166.5 309.2h1M186.1 308.0h1M190.5 292.0h1M189.2 307.4h1M178.6 311.5h1M167.1 312.6h1M162.8 304.8h1M182.4 292.8h1M167.0 303.2h1M160.4 309.7h1M150.6 302.6h1M178.1 306.8h1M175.4 309.8h1M159.6 305.1h1M181.4 305.0h1M180.0 303.7h1M158.4 316.2h1M165.7 308.3h1M181.6 297.7h1M152.3 294.7h1M177.3 323.0h1M159.1 299.2h1M152.8 306.6h1M177.1 299.2h1M176.3 296.5h1M161.0 283.1h1M177.1 285.0h1M168.0 296.9h1M175.0 302.2h1M174.7 299.2h1M180.4 298.7h1M171.7 297.4h1M187.6 300.6h1M178.0 300.1h1M148.6 307.9h1M160.6 311.6h1M164.0 314.4h1M174.1 305.2h1M185.1 298.3h1M156.5 302.8h1M171.6 306.2h1M166.9 309.3h1M162.7 299.1h1M167.2 292.1h1M146.9 307.1h1M166.8 290.1h1M183.7 295.5h1M182.1 289.3h1M178.6 302.9h1M173.0 306.6h1M168.4 298.4h1M165.2 300.5h1M166.0 311.1h1M154.5 296.1h1M171.2 295.1h1M169.7 301.3h1M173.9 303.8h1M186.5 293.8h1M175.3 309.1h1M164.7 299.8h1M183.9 301.6h1M170.4 297.4h1M172.0 302.5h1M157.9 292.2h1M170.1 305.2h1M169.4 311.3h1M151.6 314.7h1M174.8 311.3h1M171.8 310.3h1M150.3 306.1h1M162.1 306.6h1M190.0 300.0h1M163.7 295.1h1M166.8 292.5h1M152.7 293.5h1M158.1 307.0h1M172.7 309.6h1M151.8 304.5h1M167.0 313.8h1M181.4 307.7h1M163.3 303.3h1M170.8 293.8h1M145.9 301.6h1M180.3 299.9h1M169.4 309.9h1M174.0 305.3h1M171.8 309.6h1M166.6 302.8h1M153.4 294.0h1M168.8 311.3h1M167.3 300.7h1M166.3 309.4h1M167.6 311.8h1M151.3 292.9h1M189.5 287.8h1M195.8 291.6h1M159.6 305.9h1M182.7 305.2h1M166.2 301.8h1M174.9 311.9h1M170.5 298.1h1M146.9 293.3h1M178.9 307.8h1M190.9 298.6h1M175.6 290.2h1M141.0 301.6h1M182.2 291.1h1M169.8 303.1h1M161.5 304.2h1M160.4 319.6h1M163.5 309.2h1M163.4 305.1h1M164.6 301.0h1M169.4 304.4h1M163.1 302.5h1M166.6 302.7h1M185.8 299.9h1M165.6 317.0h1M153.7 323.8h1M180.1 293.5h1M165.6 305.2h1M175.5 297.5h1M150.4 303.6h1M166.6 311.1h1M186.2 296.1h1M163.3 302.1h1M163.9 305.5h1M165.7 294.1h1M170.2 305.2h1M162.4 299.8h1M160.2 313.8h1M168.6 289.9h1M162.4 300.5h1M167.9 292.6h1M175.5 311.2h1M189.9 301.7h1M159.8 305.5h1M170.8 293.7h1M167.0 307.2h1M185.2 290.0h1M166.1 300.7h1M174.4 304.0h1M159.8 293.9h1M157.7 315.4h1M176.8 293.1h1M179.4 307.5h1M167.4 309.9h1M164.2 320.0h1M160.3 291.4h1M156.9 288.8h1M172.1 316.4h1M180.9 308.8h1M176.4 303.0h1M166.2 303.0h1M155.2 307.4h1M165.6 288.4h1M163.6 299.3h1M175.4 292.5h1M167.5 300.2h1M159.6 282.7h1M153.2 299.8h1M166.3 300.4h1M164.2 305.0h1M181.5 294.5h1M169.4 302.7h1M172.4 302.2h1M175.3 296.0h1M175.6 313.4h1M169.7 309.6h1M175.3 303.8h1M173.7 302.3h1M180.9 291.5h1M172.3 312.8h1M170.4 286.8h1M162.5 302.2h1M198.2 289.0h1M177.7 299.9h1M155.3 289.3h1M180.7 314.2h1M169.0 302.5h1M169.6 306.5h1M198.6 308.1h1M187.0 296.8h1M170.4 298.2h1M178.8 307.4h1M166.1 292.5h1M181.1 298.6h1M156.8 313.7h1M187.4 290.7h1M176.2 298.6h1M166.7 297.8h1M184.1 295.8h1M164.2 298.8h1M164.4 302.1h1M157.9 319.2h1M158.6 300.1h1M161.5 297.5h1M164.1 299.3h1M165.2 290.8h1M165.9 301.3h1M183.5 290.4h1M157.3 290.5h1M158.4 308.7h1M161.0 294.0h1M158.4 297.1h1M175.3 302.9h1M175.7 286.0h1M188.8 307.7h1M173.6 304.4h1M169.0 305.5h1M176.7 307.8h1M156.5 301.1h1M174.2 292.4h1M178.2 307.9h1M160.1 299.0h1M173.6 296.0h1M185.6 318.1h1M163.6 297.4h1M158.4 289.0h1M169.6 297.0h1M168.2 298.8h1M175.1 297.4h1M155.0 315.7h1M169.6 295.5h1M167.8 302.7h1M182.7 296.5h1M159.9 300.2h1M168.2 301.0h1M169.7 297.1h1M170.5 298.9h1M171.0 302.9h1M164.2 299.4h1M175.7 289.7h1M198.7 306.4h1M163.3 293.6h1M166.0 300.4h1M156.4 296.9h1M154.2 294.0h1M161.2 299.6h1M181.8 307.6h1M169.4 285.6h1M154.9 300.4h1M148.2 298.8h1M168.8 309.7h1M157.2 292.1h1M178.2 310.3h1M179.9 308.2h1M161.6 298.4h1M169.4 297.4h1M182.9 306.1h1M176.9 299.2h1M151.9 295.5h1M182.0 311.6h1M167.0 294.1h1M180.8 304.1h1M168.0 303.6h1M156.8 300.6h1M194.5 311.9h1M170.3 308.4h1M187.7 313.6h1M180.7 298.1h1M161.0 303.7h1M171.3 288.7h1M173.8 292.6h1M182.7 300.7h1M171.1 301.9h1M189.2 291.7h1M181.7 306.2h1M167.5 295.7h1M168.6 311.5h1M153.8 297.9h1M179.3 297.4h1M188.2 313.1h1M150.4 300.5h1M180.5 307.7h1M173.5 299.0h1M165.2 307.7h1M166.9 302.1h1M178.8 303.7h1M159.6 309.5h1M165.4 297.7h1M160.8 304.2h1M176.4 299.6h1M193.7 297.8h1M177.6 285.7h1M149.3 314.4h1M161.6 300.6h1M183.8 296.5h1M164.4 312.3h1M174.5 303.5h1M159.4 310.9h1M178.2 303.7h1M172.5 302.4h1M161.6 305.2h1M163.2 302.2h1M162.3 297.1h1M158.9 300.0h1M171.5 297.3h1M135.9 297.1h1M173.9 305.2h1M165.9 304.8h1M153.1 279.8h1M167.4 298.8h1M156.2 305.4h1M142.7 302.9h1M159.4 302.3h1M174.0 292.2h1M169.7 310.5h1M163.5 298.1h1M189.9 320.8h1M154.8 307.7h1M167.2 297.8h1M184.9 298.1h1M185.2 307.4h1M159.7 314.8h1M159.9 297.6h1M168.8 287.7h1M165.1 310.1h1M174.7 317.9h1M177.8 300.2h1M152.6 299.3h1M170.8 293.7h1M165.3 307.0h1M168.2 304.0h1M156.4 296.2h1M179.0 308.4h1M161.6 311.2h1M162.7 308.2h1M167.7 298.2h1M185.0 310.1h1M159.1 311.8h1M167.4 297.4h1M157.7 303.4h1M156.5 313.9h1M161.6 297.2h1M163.6 316.5h1M156.2 305.7h1M190.0 312.2h1M199.6 296.1h1M182.0 296.4h1M138.7 301.7h1M170.5 299.5h1M182.3 303.8h1M158.6 299.7h1M169.7 299.9h1M162.7 303.5h1M179.8 302.4h1M167.2 298.4h1M164.6 304.6h1M187.8 289.9h1M148.0 307.3h1M171.7 297.2h1M154.8 307.1h1M176.0 293.8h1M157.8 305.0h1M165.3 294.3h1M174.1 299.5h1M190.2 296.6h1M170.2 290.5h1M187.8 291.5h1M190.4 299.3h1M145.9 304.9h1M171.5 302.5h1M178.3 299.9h1M192.0 297.6h1M180.7 292.9h1M186.8 305.6h1M186.5 302.0h1M146.8 288.8h1M173.2 292.4h1M157.9 296.9h1M161.6 283.7h1M187.7 302.3h1M142.3 301.4h1M173.5 302.5h1M174.2 304.1h1M177.4 298.6h1M161.2 295.5h1M176.3 302.9h1M162.1 308.7h1M196.7 284.1h1M179.2 305.2h1M178.7 307.6h1M158.1 316.9h1M163.3 307.1h1M182.2 299.0h1M162.2 304.5h1M168.4 302.3h1M169.9 293.2h1M152.5 300.4h1M171.2 295.7h1M169.2 307.8h1M179.4 293.3h1M161.3 293.7h1M199.8 305.5h1M178.0 321.0h1M173.0 308.5h1M175.5 303.3h1M173.6 293.2h1M181.2 294.6h1M162.7 303.1h1M170.0 304.8h1M161.1 301.3h1M176.0 303.3h1M157.1 293.7h1M163.2 288.5h1M173.6 299.8h1M184.6 300.9h1M156.2 300.5h1M147.3 299.1h1M171.5 297.6h1M170.4 287.6h1M172.3 305.1h1M204.3 301.6h1M179.1 302.9h1M166.7 302.2h1M163.2 302.0h1M167.5 305.7h1M160.9 304.3h1M142.6 299.6h1M139.8 304.7h1M168.7 307.0h1M169.8 288.0h1M171.2 305.8h1M173.7 307.5h1M148.3 308.1h1M176.3 304.0h1M175.7 297.1h1M147.0 313.6h1M159.2 312.1h1M175.8 309.3h1M155.7 292.3h1M153.1 312.3h1M182.9 301.9h1M166.8 298.5h1M161.7 305.0h1M164.8 293.6h1M167.9 312.9h1M154.2 299.0h1M152.7 313.6h1M161.2 314.9h1M171.4 287.2h1M191.0 301.2h1M185.6 300.8h1M169.1 297.3h1M169.9 305.7h1M168.2 304.5h1M173.1 294.5h1M155.1 306.4h1M155.7 290.2h1M177.5 300.8h1M157.9 295.3h1M156.8 314.5h1M160.6 293.1h1M167.7 305.8h1M161.9 295.8h1M158.9 307.1h1M175.1 297.9h1M167.9 298.9h1M173.4 317.4h1M169.4 306.9h1M167.7 302.7h1M172.3 296.2h1M157.9 307.4h1M163.7 302.8h1M151.4 301.9h1M177.8 306.8h1M148.4 297.0h1M185.0 298.9h1M186.6 293.6h1M168.2 304.3h1M196.1 296.9h1M164.9 292.5h1M160.4 305.2h1M184.9 294.7h1M164.1 294.9h1M178.6 318.4h1M167.9 295.2h1M172.1 309.7h1M178.7 306.2h1M178.9 299.7h1M182.1 307.5h1M191.0 303.9h1M167.2 306.0h1M168.2 300.9h1M166.1 297.2h1M176.3 303.4h1M168.8 300.4h1M180.1 292.3h1M159.1 296.7h1M177.7 312.1h1M174.6 289.7h1M164.1 310.8h1M145.0 301.8h1M166.9 303.3h1M179.0 311.0h1M168.1 289.0h1M186.9 306.8h1M149.1 299.7h1M173.4 300.5h1M158.9 296.6h1M159.8 310.2h1M159.3 302.5h1M168.7 311.2h1M174.1 292.3h1M150.7 298.3h1M160.5 322.3h1M171.4 310.6h1M165.6 307.1h1M137.3 309.3h1M178.8 296.3h1M153.9 296.7h1M176.5 291.2h1M192.4 289.3h1M184.4 296.5h1M170.1 311.2h1M168.9 294.7h1M180.0 306.9h1M144.0 308.8h1M149.5 300.4h1M152.9 309.9h1M165.8 304.5h1M171.5 295.8h1M172.9 291.9h1M160.7 298.2h1M203.2 298.9h1M162.4 301.2h1M167.6 304.5h1M186.7 287.5h1M164.8 307.8h1M182.4 292.8h1M170.7 295.1h1M167.1 291.4h1M170.3 299.2h1M178.2 309.2h1M173.0 299.8h1M181.7 306.4h1M147.0 306.6h1M175.5 301.2h1M174.9 290.6h1M181.2 295.4h1M173.3 309.0h1M168.5 303.6h1M159.3 300.9h1M165.0 308.3h1M157.3 315.2h1M189.1 307.3h1M162.3 320.1h1M168.1 301.1h1M173.8 308.3h1M156.1 286.1h1M165.3 299.4h1M170.9 302.0h1M186.8 298.0h1M178.6 291.2h1M179.6 301.6h1M157.5 295.3h1M169.5 312.9h1M177.8 288.0h1M181.7 299.1h1M188.6 297.7h1M158.2 300.3h1M177.9 303.9h1M160.2 311.2h1M187.7 296.2h1M160.2 291.6h1M170.4 308.4h1M161.0 297.0h1M182.0 296.0h1M165.7 320.4h1M156.7 298.5h1M157.9 311.4h1M155.5 317.7h1M186.1 317.9h1M156.8 298.4h1M176.9 293.9h1M159.6 302.2h1M191.4 308.0h1M174.2 307.4h1M150.6 308.8h1M158.5 295.5h1M179.8 285.1h1M159.0 305.3h1M175.9 306.3h1M158.8 303.2h1M180.8 307.0h1M190.0 306.3h1M181.7 295.3h1M163.7 301.5h1M185.1 311.3h1M183.1 303.3h1M180.4 293.2h1M174.9 306.7h1M170.9 310.2h1M145.7 287.8h1M160.6 320.4h1M173.5 315.5h1M174.6 289.7h1M185.9 294.3h1M165.8 308.7h1M144.9 311.1h1M166.3 307.4h1M189.4 304.6h1M166.4 294.4h1M163.3 295.0h1M176.0 307.9h1M179.3 303.9h1M164.4 296.8h1M171.5 305.2h1M181.5 290.4h1M169.9 306.0h1M166.7 300.5h1M183.2 314.3h1M189.4 298.5h1M170.7 280.4h1M185.8 287.0h1M166.1 292.6h1M150.9 305.7h1M158.3 291.3h1M175.3 312.1h1M181.9 299.1h1M177.1 277.7h1M149.6 294.3h1M162.5 298.9h1M176.8 290.7h1M180.5 296.7h1M142.5 305.2h1M172.3 304.1h1M162.6 295.6h1M171.0 305.2h1M166.9 307.5h1M161.7 306.1h1M180.7 288.9h1M175.9 307.7h1M164.8 298.0h1M163.3 295.5h1M188.6 290.2h1M161.9 299.8h1M169.7 297.3h1M158.6 300.5h1M172.9 308.1h1M171.7 297.3h1M168.4 306.0h1M172.9 299.1h1M160.4 303.5h1M169.8 308.8h1M174.9 306.3h1M156.0 292.9h1M184.2 311.6h1M164.6 309.5h1M147.0 294.1h1M164.2 295.1h1M164.6 310.3h1M178.7 305.4h1M178.9 312.6h1M186.6 289.2h1M162.0 318.0h1M147.1 304.1h1M146.5 305.3h1M172.5 306.4h1M175.2 304.7h1M159.8 302.1h1M161.5 299.5h1M163.9 290.2h1M159.2 296.4h1M174.1 298.2h1M166.0 308.8h1M147.5 308.4h1M177.6 298.6h1M179.8 311.1h1M172.3 305.7h1M150.1 295.5h1M187.7 304.0h1M180.4 303.0h1M157.0 316.7h1M178.3 293.0h1M164.7 293.4h1M179.0 307.2h1M180.0 295.6h1M162.4 304.8h1M173.3 307.6h1M155.8 300.4h1M194.1 299.0h1M163.7 306.0h1M186.8 308.2h1M159.2 306.7h1M167.2 306.6h1M167.8 301.3h1M184.6 298.3h1M148.6 304.3h1M158.1 311.0h1M164.7 308.3h1M169.2 306.3h1M185.6 303.6h1M154.4 297.4h1M161.2 299.5h1M150.2 315.9h1M150.0 310.0h1M148.0 289.8h1M187.3 307.2h1M191.5 293.4h1M158.6 305.0h1M176.2 310.7h1M177.3 310.1h1M182.4 286.1h1M172.7 292.9h1M170.8 298.9h1M158.6 301.5h1M187.0 292.9h1M156.0 305.6h1M176.1 296.0h1M169.2 311.9h1M162.1 297.5h1M180.9 306.5h1M174.4 290.9h1M158.8 310.7h1M168.6 293.5h1M168.3 299.9h1M154.0 300.3h1M145.6 301.7h1M164.6 290.9h1M177.9 312.6h1M186.6 285.2h1M171.4 299.9h1M162.3 305.1h1M166.8 298.0h1M171.2 303.6h1M155.4 281.3h1M182.5 293.4h1M163.0 306.9h1M165.4 304.8h1M180.8 314.3h1M169.1 303.6h1M167.1 297.8h1M172.1 301.9h1M173.2 319.6h1M177.5 304.0h1M174.3 304.4h1M153.0 296.7h1M162.5 299.8h1M161.5 306.5h1M182.0 313.2h1M188.4 294.8h1M172.0 296.7h1M197.4 303.0h1M149.0 308.6h1M163.0 304.9h1M153.5 302.6h1M178.0 297.5h1M171.4 312.4h1M175.7 300.0h1M176.0 302.3h1M183.8 310.0h1M167.8 296.0h1M165.7 299.1h1M183.0 280.7h1M148.5 301.5h1M172.4 306.6h1M169.6 315.3h1M179.4 298.2h1M159.1 295.6h1M158.5 304.7h1M195.1 314.2h1M146.8 299.1h1M172.3 285.4h1M187.6 298.3h1M155.3 307.6h1M165.4 291.4h1M162.4 300.3h1M154.8 297.3h1M193.1 302.7h1M165.9 309.6h1M167.4 306.9h1M156.1 291.5h1M168.4 299.5h1M172.9 301.1h1M169.5 304.2h1M175.4 309.0h1M159.2 302.3h1M170.0 313.8h1M162.1 309.5h1M168.5 292.3h1M157.5 298.6h1M184.3 303.5h1M175.4 309.5h1M149.4 295.2h1M170.9 289.0h1M168.8 307.1h1M180.4 288.2h1M180.5 306.3h1M173.2 297.0h1M162.6 303.8h1M185.6 298.0h1M173.6 303.6h1M173.0 302.5h1M171.9 297.9h1M160.8 300.3h1M162.3 301.2h1M152.4 302.7h1M165.0 297.9h1M165.6 313.0h1M169.6 325.2h1M161.0 293.7h1M160.1 305.6h1M158.6 299.3h1M160.6 296.7h1M173.9 311.9h1M189.4 311.4h1M166.8 296.6h1M145.7 304.3h1M177.5 296.3h1M165.0 301.6h1M185.2 312.5h1M161.4 289.9h1M171.6 298.2h1M163.7 306.9h1M155.6 291.9h1M170.7 312.3h1M177.0 306.5h1M182.3 312.9h1M162.2 304.1h1M151.3 298.2h1M179.2 304.3h1M156.0 314.9h1M176.5 303.4h1M163.1 301.1h1M173.4 314.3h1M181.0 304.8h1M169.6 303.3h1M172.4 293.5h1M157.1 304.0h1M156.8 305.5h1M168.3 303.7h1M171.1 303.8h1M185.4 300.9h1M188.9 301.6h1M160.0 295.2h1M183.6 308.0h1M171.1 306.8h1M160.3 298.2h1M172.4 293.7h1M163.2 296.1h1M183.5 300.6h1M164.3 297.7h1M180.9 310.6h1M172.5 286.7h1M171.4 304.2h1M174.1 300.3h1M185.8 307.8h1M154.9 305.0h1M183.6 303.2h1M177.7 300.6h1M170.7 291.5h1M167.9 291.2h1M188.3 297.7h1M174.9 298.4h1M170.3 303.0h1M182.3 295.5h1M170.6 302.1h1M180.1 293.9h1M164.4 289.1h1M166.3 296.3h1M168.7 303.2h1M175.7 304.6h1M168.0 315.9h1M178.5 310.3h1M179.6 297.2h1M177.1 290.9h1M177.1 301.5h1M164.4 311.4h1M181.6 311.9h1M179.4 308.6h1M151.4 293.6h1M172.2 299.9h1M166.7 285.8h1M163.3 297.5h1M178.6 290.4h1M170.2 296.9h1M165.4 313.0h1M165.5 289.1h1M163.9 308.8h1M185.2 306.5h1M172.7 300.9h1M166.4 311.6h1M187.9 292.4h1M174.7 298.7h1M166.8 291.5h1M160.3 317.6h1M169.9 299.6h1M172.9 297.5h1M176.8 307.9h1M158.5 297.3h1M174.5 303.8h1M164.5 298.2h1M172.3 285.4h1M178.6 297.5h1M188.4 313.4h1M166.4 308.7h1M153.1 301.4h1M195.4 301.8h1M149.2 313.2h1M158.8 297.8h1M183.9 313.5h1M176.4 310.8h1M183.2 298.7h1M171.4 310.1h1M153.2 309.7h1M169.4 292.6h1M191.1 315.8h1M171.7 302.4h1M157.4 309.5h1M181.6 315.1h1M158.5 300.8h1M188.0 293.8h1M169.9 316.5h1M164.6 297.2h1M161.6 292.1h1M170.2 301.4h1M160.5 299.0h1M157.9 305.3h1M176.5 301.9h1M198.5 312.3h1M163.0 309.3h1M157.0 284.6h1M145.6 300.2h1M166.2 304.4h1M159.5 301.2h1M165.5 299.5h1M161.2 299.7h1M170.0 288.2h1M165.4 294.3h1M174.6 298.6h1M173.6 302.2h1M164.9 304.5h1M151.6 305.7h1M155.3 307.9h1M143.2 304.1h1M161.6 299.6h1M163.0 286.3h1M166.5 313.9h1M161.7 311.1h1M165.2 286.1h1M179.7 310.4h1M189.0 303.9h1M185.2 288.0h1M160.9 316.0h1M167.6 301.5h1M163.7 292.1h1M172.4 300.1h1M179.4 303.7h1M165.7 306.1h1M175.8 288.9h1M171.1 292.2h1M160.6 299.7h1M186.8 320.0h1M161.9 305.8h1M188.1 296.3h1M197.1 310.7h1M187.5 297.2h1M176.2 296.6h1M172.9 314.2h1M175.2 292.0h1M161.0 303.9h1M187.0 307.5h1M173.4 300.4h1M162.0 305.6h1M153.6 308.2h1M153.6 302.0h1M187.4 306.8h1M153.5 297.5h1M183.4 302.2h1M173.4 310.6h1M185.9 295.7h1M185.5 288.6h1M179.1 311.0h1M173.4 302.2h1M176.0 318.4h1M167.9 294.4h1M187.3 297.5h1M186.5 300.4h1M153.5 303.5h1M164.6 322.0h1M159.7 315.7h1M181.8 297.1h1M154.6 319.2h1M165.3 286.9h1M147.1 308.0h1M163.5 297.0h1M179.7 309.7h1M161.1 309.9h1M174.8 308.0h1M191.9 296.1h1M167.1 303.6h1M195.1 306.0h1M160.8 303.7h1M169.6 315.1h1M178.9 309.6h1M177.2 320.2h1M166.7 309.1h1M175.6 297.1h1M143.5 307.0h1M182.2 295.2h1M176.8 307.5h1M152.4 296.6h1M169.3 301.2h1M168.4 299.6h1M181.2 304.7h1M174.5 304.6h1M159.2 292.8h1M178.4 296.1h1M168.2 301.1h1M155.9 284.0h1M166.0 300.7h1M166.1 307.9h1M148.0 298.2h1M172.4 298.5h1M161.1 295.1h1M158.2 301.7h1M185.2 310.1h1M174.1 313.6h1M160.9 295.5h1M159.8 298.8h1M171.0 308.3h1M165.2 299.6h1M172.7 294.3h1M176.5 305.5h1M161.8 308.7h1M173.1 301.6h1M161.9 291.9h1M174.5 298.8h1M171.9 293.8h1M187.9 296.4h1M149.7 296.1h1M179.4 319.8h1M188.6 292.7h1M157.9 299.7h1M170.6 303.0h1M162.5 289.1h1M189.8 300.0h1M168.8 302.0h1M178.9 298.9h1M157.2 315.9h1M170.1 303.7h1M160.1 307.9h1M160.3 299.8h1M178.8 310.8h1M177.2 302.8h1M166.2 298.4h1M171.1 297.3h1M164.5 307.2h1M175.7 311.8h1M176.3 295.8h1M179.3 312.5h1M197.8 298.3h1M145.2 294.1h1M156.1 308.7h1M167.2 297.7h1M169.9 309.2h1M155.0 298.8h1M175.0 304.0h1M174.4 317.6h1M174.5 299.3h1M192.5 313.4h1M155.7 311.0h1M182.9 299.5h1M176.0 303.0h1M164.9 299.7h1M169.5 301.3h1M172.8 306.2h1M177.5 303.0h1M160.0 302.1h1M167.7 298.8h1M204.7 299.2h1M165.3 304.6h1M179.3 302.5h1M161.9 306.6h1M172.3 294.1h1M180.8 297.8h1M181.4 299.8h1M185.1 292.7h1M169.8 298.5h1M187.6 313.2h1M166.2 301.0h1M138.5 296.6h1M167.4 302.8h1M181.9 284.4h1M156.8 300.8h1M156.2 304.7h1M161.5 306.8h1M181.4 300.8h1M158.2 291.1h1M150.7 286.2h1M178.8 294.0h1M186.3 305.0h1M182.3 300.9h1M176.5 304.2h1M168.3 286.7h1M172.5 307.5h1M164.6 309.8h1M172.3 303.1h1M190.7 296.8h1M177.8 308.1h1M168.9 303.0h1M165.2 297.9h1M175.0 293.4h1M172.8 303.8h1M168.6 305.9h1M160.2 308.9h1M167.3 300.8h1M151.8 293.0h1M177.9 290.9h1M176.7 307.2h1M178.6 298.7h1M187.4 310.2h1M188.1 303.5h1M177.9 290.9h1M186.8 307.2h1M196.1 298.7h1M207.4 292.1h1M192.8 295.9h1M214.2 306.4h1M201.4 293.9h1M213.8 304.7h1M218.7 300.7h1M182.2 307.1h1M204.3 291.8h1M189.8 294.9h1M208.4 297.5h1M217.7 290.7h1M182.4 290.4h1M236.2 298.0h1M185.9 292.2h1M198.7 313.4h1M216.6 301.1h1M167.2 297.3h1M209.3 288.2h1M215.0 307.0h1M204.4 293.4h1M189.0 306.9h1M199.2 305.6h1M190.3 291.7h1M183.9 306.8h1M198.7 311.1h1M200.5 303.3h1M177.5 299.4h1M167.1 290.9h1M189.7 306.2h1M185.0 303.1h1M210.0 301.3h1M203.0 298.6h1M205.0 295.7h1M222.4 298.8h1M209.7 284.4h1M186.7 301.4h1M161.8 290.1h1M222.9 303.5h1M219.3 309.6h1M242.0 315.3h1M186.4 301.7h1M192.0 294.8h1M194.9 313.7h1M199.0 308.2h1M184.8 292.0h1M192.2 303.2h1M220.4 317.4h1M208.4 294.6h1M166.4 295.6h1M213.9 310.0h1M194.4 283.6h1M201.0 303.3h1M221.6 305.0h1M186.5 306.3h1M148.4 294.7h1M197.8 310.0h1M215.1 284.4h1M229.4 316.8h1M217.2 291.2h1M221.0 301.5h1M221.3 306.9h1M187.5 309.0h1M161.1 298.6h1M170.5 311.3h1M199.5 296.9h1M202.4 302.4h1M207.6 292.8h1M199.9 303.3h1M193.4 290.1h1M215.7 303.9h1M208.8 293.0h1M200.8 293.4h1M213.6 303.2h1M202.0 300.4h1M188.5 299.8h1M203.6 313.2h1M159.9 305.0h1M181.9 302.1h1M178.7 310.4h1M205.6 318.6h1M204.3 297.3h1M195.9 298.7h1M165.5 297.9h1M198.8 303.1h1M214.7 304.8h1M211.5 304.8h1M191.9 294.9h1M195.8 300.2h1M216.8 294.6h1M193.5 306.7h1M214.6 300.9h1M204.9 277.3h1M194.5 306.9h1M202.5 302.4h1M208.7 300.7h1M173.4 292.6h1M178.0 305.2h1M207.2 311.8h1M226.8 296.6h1M226.6 297.6h1M173.8 297.6h1M173.2 303.9h1M206.0 293.9h1M196.6 299.1h1M172.0 313.3h1M201.8 306.3h1M171.1 309.7h1M185.4 302.9h1M192.7 302.4h1M172.6 306.1h1M210.2 288.9h1M223.7 307.4h1M213.9 298.8h1M184.3 300.9h1M170.3 318.3h1M205.2 288.2h1M185.2 310.7h1M229.9 304.6h1M176.5 287.1h1M182.8 296.8h1M207.2 318.8h1M236.0 305.8h1M191.8 296.2h1M220.9 291.5h1M175.4 302.4h1M180.1 302.6h1M183.5 309.7h1M224.8 307.3h1M178.2 307.1h1M197.9 293.3h1M196.3 298.2h1M184.5 284.7h1M191.6 294.3h1M206.2 296.9h1M190.4 303.3h1M228.3 294.5h1M173.3 304.1h1M190.6 295.0h1M201.8 297.6h1M185.6 306.4h1M168.6 281.9h1M198.4 296.4h1M206.4 315.9h1M202.3 297.7h1M200.9 299.5h1M197.4 290.9h1M214.3 316.6h1M215.4 299.5h1M180.5 292.5h1M213.0 309.6h1M179.5 302.6h1M198.8 303.9h1M178.8 309.6h1M203.9 299.8h1M213.6 286.6h1M188.7 302.5h1M211.2 304.0h1M236.6 296.4h1M212.8 301.8h1M205.5 315.6h1M246.0 302.4h1M214.6 298.5h1M198.9 296.4h1M225.9 301.2h1M199.2 295.5h1M227.1 291.9h1M199.3 306.3h1M198.8 293.5h1M209.3 290.1h1M171.2 297.8h1M212.6 302.7h1M206.5 292.8h1M188.2 307.4h1M181.2 305.2h1M191.1 300.6h1M172.5 302.8h1M228.4 298.6h1M210.5 301.5h1M197.5 289.9h1M228.7 304.2h1M178.1 299.6h1M172.8 302.6h1M221.4 288.0h1M204.8 306.4h1M186.4 323.0h1M183.8 309.7h1M195.0 306.6h1M196.2 295.7h1M166.2 300.9h1M192.7 304.6h1M166.3 304.3h1M178.0 294.4h1M225.7 302.8h1M204.8 299.9h1M215.1 300.1h1M171.4 307.1h1M216.8 305.6h1M149.1 294.1h1M179.8 302.3h1M188.5 293.5h1M182.8 313.9h1M207.6 289.3h1M216.4 302.7h1M198.8 295.8h1M197.8 297.2h1M176.5 312.6h1M210.7 293.6h1M223.5 302.9h1M250.4 295.0h1M180.8 310.7h1M209.7 299.1h1M205.3 296.8h1M198.6 285.9h1M164.4 293.6h1M170.1 304.7h1M216.5 277.0h1M215.3 307.4h1M200.2 287.9h1M176.6 303.5h1M161.2 305.8h1M209.2 285.0h1M181.8 317.4h1M199.5 297.9h1M187.9 301.7h1M241.3 294.6h1M181.2 320.0h1M220.2 310.9h1M220.7 287.8h1M177.7 297.7h1M184.6 307.5h1M177.7 305.4h1M211.7 306.7h1M176.2 296.2h1M176.8 299.5h1M204.4 296.0h1M203.4 283.1h1M202.7 304.6h1M195.5 299.3h1M257.3 309.3h1M174.7 290.6h1M181.5 292.7h1M234.0 304.5h1M196.2 306.1h1M197.8 296.6h1M209.5 297.7h1M181.0 296.7h1M188.5 303.1h1M228.9 287.4h1M211.5 298.1h1M177.3 314.8h1M207.6 306.4h1M204.1 309.7h1M216.2 307.7h1M228.4 288.7h1M193.9 310.9h1M189.1 293.7h1M216.9 292.4h1M215.4 297.0h1M230.3 294.3h1M202.1 288.1h1M197.8 309.8h1M190.8 310.5h1M177.9 300.3h1M186.4 292.7h1M142.3 303.4h1M230.1 303.6h1M202.8 292.1h1M199.4 305.3h1M213.1 318.2h1M202.7 304.2h1M209.0 297.2h1M224.8 314.3h1M183.0 299.7h1M227.5 306.4h1M215.8 302.2h1M186.7 310.0h1M171.5 300.7h1M162.6 297.3h1M169.4 298.1h1M228.6 308.7h1M201.5 286.6h1M173.4 293.0h1M246.7 315.6h1M219.3 300.8h1M187.7 293.2h1M191.2 324.5h1M190.2 305.6h1M211.6 304.4h1M202.1 300.6h1M206.0 306.3h1M197.6 305.9h1M186.4 304.2h1M200.2 290.0h1M208.0 298.1h1M192.1 292.7h1M209.2 295.7h1M198.3 293.6h1M205.6 303.0h1M218.3 293.7h1M218.4 299.4h1M164.1 303.1h1M201.1 310.7h1M206.6 308.9h1M215.5 311.3h1M164.5 304.4h1M189.8 299.1h1M223.7 299.6h1M228.8 295.4h1M201.4 296.5h1M205.5 299.9h1M230.5 305.9h1M181.3 305.2h1M199.6 294.7h1M245.6 299.3h1M173.7 319.1h1M220.7 313.0h1M228.8 295.9h1M178.6 294.2h1M193.9 289.1h1M180.0 302.1h1M193.4 309.4h1M206.4 297.1h1M224.3 305.2h1M208.2 306.8h1M177.3 296.7h1M186.1 299.6h1M209.2 309.4h1M216.3 301.7h1M199.6 299.4h1M191.1 284.2h1M173.9 311.8h1M164.9 301.3h1M237.6 298.8h1M196.7 295.6h1M230.8 305.4h1M223.7 294.2h1M180.0 294.9h1M231.8 309.2h1M206.7 290.8h1M174.4 306.3h1M224.8 289.6h1M170.2 318.6h1M182.7 302.5h1M196.0 301.5h1M206.7 305.2h1M212.2 298.6h1M235.1 291.2h1M167.9 288.6h1M187.3 293.9h1M223.2 301.5h1M206.3 302.1h1M220.7 309.6h1M188.2 296.9h1M187.8 302.1h1M215.1 294.7h1M244.9 307.8h1M173.1 305.6h1M169.8 294.6h1M199.1 294.9h1M182.2 312.7h1M161.0 307.0h1M158.2 301.1h1M208.0 298.1h1M230.5 322.6h1M214.3 295.3h1M176.9 294.6h1M203.8 287.1h1M243.8 308.0h1M206.9 298.6h1M206.1 301.7h1M203.1 279.9h1M220.8 288.8h1M212.1 298.2h1M157.3 307.4h1M212.2 299.9h1M202.4 306.2h1M208.6 299.4h1M206.4 306.9h1M172.9 298.4h1M187.0 307.4h1M225.7 293.1h1M219.8 303.2h1M204.0 287.5h1M202.4 303.0h1M220.4 303.7h1M183.5 295.3h1M201.1 287.5h1M210.7 300.2h1M184.5 303.2h1M202.0 304.8h1M188.8 290.3h1M195.9 309.6h1M224.0 315.9h1M200.0 289.4h1M185.1 280.4h1M180.4 299.7h1M229.2 306.2h1M177.9 298.1h1M195.9 295.7h1M190.1 296.0h1M199.8 297.1h1M218.1 293.9h1M183.1 300.1h1M267.4 295.7h1M215.3 300.3h1M139.2 306.7h1M168.5 286.4h1M160.1 303.2h1M210.8 299.4h1M175.2 306.3h1M212.3 300.0h1M189.6 301.5h1M189.0 300.6h1M195.0 294.6h1M208.0 299.5h1M205.6 306.5h1M165.3 294.9h1M213.6 303.4h1M230.6 298.8h1M184.2 294.8h1M201.8 300.3h1M211.0 284.3h1M175.9 314.5h1M175.3 289.7h1M223.4 298.9h1M160.2 292.1h1M212.9 302.8h1M201.7 291.1h1M163.3 295.2h1M209.1 293.9h1M206.9 299.9h1M186.9 296.4h1M213.0 311.3h1M224.2 289.1h1M209.2 299.0h1M169.7 302.1h1M188.5 299.8h1M166.1 295.9h1M191.9 305.3h1M177.5 307.3h1M180.6 300.7h1M169.7 303.1h1M206.4 291.0h1M192.4 304.8h1M177.0 296.6h1M180.1 306.0h1M224.8 307.2h1M185.8 307.8h1M162.8 296.4h1M227.8 281.5h1M190.2 290.0h1M165.3 320.0h1M210.5 301.0h1M181.0 307.8h1M190.4 304.9h1M139.1 307.1h1M220.5 295.0h1M173.9 313.1h1M200.9 302.6h1M214.5 296.0h1M170.8 311.7h1M175.4 298.4h1M225.8 309.2h1M199.2 301.4h1M190.6 295.1h1M195.8 303.9h1M200.9 290.8h1M206.7 300.7h1M205.1 292.4h1M217.8 300.0h1M254.0 305.1h1M181.8 291.1h1M193.8 299.6h1M181.5 299.3h1M196.1 296.3h1M191.1 310.6h1M168.8 309.9h1M260.7 297.1h1M255.0 301.7h1M185.5 305.7h1M163.6 299.5h1M176.5 300.4h1M189.6 288.5h1M236.8 297.2h1M182.3 288.0h1M218.0 298.0h1M148.1 283.7h1M236.6 302.6h1M212.3 303.3h1M210.6 299.1h1M176.9 304.4h1M167.7 299.9h1M213.4 295.9h1M196.9 304.2h1M215.7 295.4h1M190.4 311.5h1M235.3 296.3h1M209.2 302.5h1M209.4 295.1h1M197.7 303.1h1M195.1 306.2h1M213.5 304.5h1M176.4 297.5h1M175.0 287.4h1M195.7 300.5h1M225.4 300.0h1M195.2 306.9h1M214.0 295.1h1M199.4 293.8h1M189.9 291.2h1M182.5 308.8h1M176.9 286.5h1M164.8 300.3h1M173.0 305.5h1M197.6 282.2h1M216.7 295.0h1M222.5 292.4h1M213.5 297.6h1M228.1 288.6h1M209.8 296.1h1M195.6 292.2h1M190.5 287.0h1M178.9 297.2h1M188.3 302.2h1M198.7 305.5h1M192.4 304.5h1M236.8 292.5h1M183.1 303.0h1M208.0 297.7h1M216.3 312.5h1M204.9 309.0h1M190.5 306.0h1M200.1 306.0h1M178.2 290.9h1M181.6 295.3h1M191.8 304.8h1M212.2 300.4h1M234.8 312.4h1M205.8 299.9h1M250.0 308.9h1M196.7 311.1h1M212.0 290.1h1M181.4 293.1h1M244.4 296.7h1M180.1 304.7h1M181.3 296.3h1M231.8 304.6h1M240.7 292.0h1M202.2 289.7h1M241.0 302.3h1M197.0 302.7h1M225.1 303.4h1M213.0 308.3h1M220.4 301.3h1M214.3 282.8h1M178.8 293.5h1M188.4 307.1h1M212.4 302.8h1M201.1 291.5h1M214.4 286.1h1M215.5 298.9h1M254.6 295.6h1M203.5 305.5h1M213.0 303.4h1M175.4 288.4h1M189.8 306.9h1M175.5 293.0h1M193.4 303.7h1M199.2 289.4h1M232.2 291.8h1M207.8 295.4h1M198.1 291.2h1M170.3 298.3h1M201.8 292.7h1M196.2 305.0h1M196.8 298.9h1M150.0 290.2h1M218.4 302.5h1M183.9 293.9h1M205.3 305.3h1M171.4 299.4h1M192.0 298.6h1M229.0 317.3h1M173.0 293.4h1M228.6 303.5h1M196.1 307.9h1M215.0 303.9h1M167.4 300.1h1M213.0 300.6h1M223.9 301.9h1M174.5 307.0h1M174.7 292.4h1M183.1 306.2h1M213.8 295.7h1M191.1 302.0h1M142.3 299.2h1M215.2 294.5h1M205.5 307.2h1M241.0 299.7h1M186.9 304.7h1M191.8 302.9h1M185.6 297.1h1M181.5 315.3h1M165.9 322.1h1M197.5 304.0h1M216.8 303.0h1M197.8 303.7h1M226.7 301.5h1M169.3 314.7h1M193.0 292.2h1M163.3 312.2h1M204.7 303.3h1M239.3 298.5h1M189.2 298.5h1M160.0 305.1h1M198.3 300.4h1M177.3 306.3h1M185.4 305.9h1M170.9 303.6h1M192.4 306.6h1M211.4 311.8h1M187.7 290.3h1M203.2 300.3h1M204.1 308.1h1M161.4 311.4h1M180.2 307.2h1M195.3 299.4h1M186.4 298.4h1M202.5 314.3h1M192.2 293.6h1M196.6 304.5h1M223.4 287.1h1M190.6 290.6h1M183.3 300.5h1M186.9 305.3h1M201.5 292.0h1M192.6 300.1h1M217.8 296.1h1M180.8 302.3h1M189.3 293.7h1M255.3 299.9h1M211.8 306.5h1M163.4 303.8h1M197.0 291.1h1M184.7 295.8h1M226.8 308.1h1M219.7 325.2h1M165.9 323.5h1M161.4 316.6h1M216.5 321.7h1M217.1 301.5h1M235.9 295.5h1M194.2 292.4h1M194.9 300.4h1M213.2 305.7h1M150.6 295.0h1M231.0 294.1h1M236.8 287.6h1M158.1 310.7h1M203.7 288.2h1M186.3 302.9h1M167.8 292.7h1M154.5 297.5h1M230.5 310.6h1M223.2 305.9h1M188.9 288.1h1M180.3 275.7h1M228.6 298.5h1M202.3 308.6h1M183.1 302.5h1M175.6 299.7h1M163.9 279.9h1M179.6 314.4h1M188.0 325.2h1M179.5 294.4h1M242.6 312.8h1M216.6 289.5h1M150.0 289.7h1M149.6 296.3h1M244.1 315.2h1M176.8 290.5h1M170.7 312.5h1M196.5 290.3h1M161.4 307.4h1M214.2 314.6h1M210.7 304.0h1M157.5 313.3h1M152.1 303.7h1M209.2 290.1h1M164.7 319.1h1M185.9 302.0h1M194.0 314.9h1M228.6 300.6h1M154.4 297.6h1M144.4 284.7h1M186.7 296.4h1M225.4 287.9h1M174.8 288.5h1M197.6 303.5h1M239.5 303.2h1M187.8 282.1h1M239.8 313.7h1M146.8 305.4h1M208.0 285.2h1M221.5 317.9h1M149.2 291.3h1M214.3 309.6h1M197.8 310.7h1M162.2 322.9h1M219.5 300.6h1M172.6 311.6h1M229.6 292.2h1M176.8 306.8h1M243.1 296.7h1M210.6 306.8h1M158.7 289.4h1M238.1 299.4h1M237.3 304.2h1M235.6 303.5h1M169.9 304.2h1M166.6 311.4h1M161.5 305.4h1M189.2 287.1h1M154.3 298.2h1M187.5 311.9h1M197.1 319.0h1M146.0 277.8h1M158.6 295.8h1M215.7 302.1h1M155.9 303.0h1M176.4 319.1h1M222.1 302.4h1M213.1 291.4h1M161.2 325.2h1M181.8 303.6h1M160.4 304.2h1M230.4 325.2h1M166.5 302.6h1M187.6 293.4h1M184.9 310.8h1M239.9 285.2h1M191.3 323.0h1M193.6 294.5h1M147.8 304.8h1M244.1 284.8h1M242.8 325.2h1M189.4 297.5h1M244.6 285.6h1M174.0 288.6h1M152.6 287.9h1M143.9 294.1h1M172.2 297.7h1M167.0 288.5h1M207.3 286.8h1M195.2 325.2h1M228.0 298.7h1M143.5 293.6h1M200.5 287.0h1M238.7 306.6h1M208.8 285.6h1M204.5 297.5h1M225.6 290.3h1M227.9 278.9h1M169.1 308.3h1M223.4 293.2h1M225.5 318.9h1M164.6 296.3h1M167.2 297.1h1M178.2 291.1h1M220.4 293.1h1M196.4 319.0h1M181.7 298.0h1M225.9 303.1h1M165.8 307.9h1M153.4 283.6h1M237.1 284.4h1M200.1 301.1h1M223.6 283.1h1M244.2 293.4h1M207.3 289.4h1M221.5 281.7h1M168.9 310.9h1M185.0 316.5h1M158.5 298.0h1M226.8 325.2h1M152.1 307.3h1M238.3 313.2h1M144.2 288.1h1M192.6 301.9h1M224.9 316.8h1M158.8 303.8h1M241.3 304.0h1M172.4 304.9h1M187.8 300.1h1M211.3 325.2h1M174.8 301.4h1M153.1 295.9h1M155.4 312.1h1M213.3 307.0h1M143.7 316.5h1M167.1 291.1h1M143.6 306.5h1M240.9 306.0h1M183.4 294.1h1M220.8 303.7h1M173.5 303.2h1M184.5 305.3h1M179.4 294.7h1M184.1 298.7h1M166.0 274.4h1M200.7 310.2h1M192.1 300.6h1M228.8 316.9h1M241.6 303.3h1M179.7 302.4h1M200.3 306.5h1M210.9 286.3h1M220.9 295.2h1M225.8 307.8h1M169.0 312.7h1M148.8 305.8h1M155.1 301.1h1M227.7 284.1h1M207.9 276.4h1M216.7 323.9h1M233.4 290.8h1M203.0 299.8h1M201.8 318.2h1M147.6 323.8h1M179.5 279.9h1M244.1 293.1h1M213.1 299.0h1M200.9 305.3h1M229.2 297.1h1M205.2 285.8h1M199.8 303.6h1M225.7 293.6h1M240.4 305.0h1M145.2 318.7h1M225.8 319.7h1M194.0 282.1h1M214.9 301.8h1M152.8 300.2h1M225.5 296.8h1M149.5 296.2h1M169.2 292.2h1M191.8 323.9h1M211.8 302.6h1M186.1 296.7h1M234.4 317.8h1M190.7 291.4h1M226.8 301.8h1M199.5 325.2h1M193.8 301.3h1M234.2 301.6h1M239.4 299.0h1M185.2 316.4h1M180.7 293.5h1M236.0 321.0h1M196.5 317.0h1M149.7 325.2h1M214.0 311.5h1M233.1 289.4h1M215.2 321.5h1M145.1 312.5h1M223.8 309.7h1M212.0 311.0h1M158.1 312.2h1M162.6 295.3h1M242.9 305.9h1M206.2 245.8h1M148.8 305.7h1M218.0 324.3h1M163.0 294.3h1M160.2 316.5h1M170.5 313.9h1M200.8 296.5h1M181.5 297.0h1M150.8 285.9h1M180.5 299.9h1M151.8 312.5h1M231.4 313.8h1M229.8 311.6h1M237.6 306.9h1M184.9 310.2h1M205.1 298.5h1M165.5 301.0h1M243.7 282.6h1M201.0 301.8h1M166.0 308.7h1M169.2 296.7h1M175.0 298.9h1M203.6 308.2h1M240.9 309.7h1M207.2 300.7h1M213.6 310.1h1M164.6 305.6h1M232.0 291.8h1M199.1 313.5h1M185.5 299.7h1M166.9 300.2h1M142.0 304.3h1M218.8 321.1h1M152.6 290.1h1M213.3 309.8h1M218.1 318.9h1M152.7 284.1h1M157.5 300.5h1M224.7 294.7h1M154.7 292.7h1M235.0 307.0h1M240.1 301.9h1M170.4 315.4h1M180.1 284.6h1M173.2 301.5h1M226.8 307.8h1M186.3 299.2h1M226.2 307.2h1M207.5 310.5h1M149.3 309.0h1M166.2 296.4h1M160.9 294.5h1M206.1 305.6h1M202.4 289.9h1M226.1 290.6h1M220.4 325.0h1M163.5 285.6h1M206.4 295.3h1M199.4 302.5h1M173.0 299.5h1M207.2 294.7h1M192.6 283.4h1M144.4 294.3h1M160.6 294.6h1M210.6 315.9h1M200.7 302.9h1M167.8 310.4h1M177.7 305.7h1M158.3 310.0h1M234.5 285.1h1M165.8 296.2h1M212.7 314.6h1M238.4 306.2h1M232.6 288.7h1M223.7 317.5h1M177.7 315.3h1M232.6 281.2h1M201.9 312.9h1M164.2 297.2h1M188.9 318.3h1M194.4 297.8h1M227.1 313.9h1M182.7 310.1h1M210.8 304.2h1M196.5 285.4h1M243.3 281.0h1M195.2 311.9h1M149.0 325.2h1M165.1 321.5h1M216.8 278.9h1M202.8 315.9h1M229.2 324.1h1M147.9 325.2h1M142.8 294.3h1M183.1 308.1h1M150.5 298.1h1M202.7 278.3h1M236.3 294.2h1M230.3 316.2h1M213.5 311.8h1M190.2 288.5h1M223.8 297.8h1M228.4 301.9h1M147.1 319.7h1M206.0 303.9h1M240.7 308.3h1M214.8 308.6h1M186.5 285.9h1M164.4 307.3h1M142.3 274.3h1M234.3 315.5h1M157.3 300.4h1M233.1 309.0h1M152.0 299.8h1M202.4 319.9h1M150.4 311.9h1M192.0 303.0h1M241.2 299.4h1M199.5 303.7h1M211.8 306.4h1M174.7 313.2h1M172.4 302.1h1M159.6 291.6h1M225.1 286.0h1M154.2 312.0h1M243.9 310.8h1M225.9 315.1h1M192.1 308.3h1M215.9 280.2h1M163.7 293.5h1M142.3 298.3h1M146.3 314.4h1M167.4 286.8h1M217.5 294.1h1M171.0 251.3h1M171.6 258.0h1M173.9 262.3h1M158.9 259.7h1M171.1 243.5h1M169.6 251.9h1M168.7 254.5h1M163.9 243.2h1M164.1 243.1h1M173.4 247.3h1M166.9 246.8h1M170.4 252.7h1M162.6 253.8h1M170.3 254.6h1M162.0 241.0h1M171.3 241.2h1M166.5 250.4h1M168.8 248.8h1M157.3 246.9h1M166.8 253.8h1M168.5 252.9h1M168.3 243.9h1M146.7 260.2h1M172.9 256.2h1M155.4 252.9h1M172.7 248.8h1M167.6 257.9h1M169.2 256.4h1M157.2 250.4h1M172.7 251.9h1M162.8 247.4h1M166.9 243.9h1M163.9 242.0h1M150.8 242.2h1M162.3 252.3h1M165.5 252.1h1M168.3 250.9h1M163.6 248.0h1M161.8 256.6h1M160.4 255.5h1M161.7 248.1h1M160.1 241.9h1M173.4 246.5h1M167.4 243.2h1M160.9 251.4h1M165.6 246.2h1M155.4 257.3h1M165.8 251.7h1M157.6 252.8h1M172.1 248.7h1M163.5 252.7h1M164.4 247.0h1M164.3 245.3h1M163.9 245.2h1M167.5 260.4h1M167.7 252.4h1M164.4 249.7h1M155.9 248.1h1M176.8 248.0h1M167.3 246.0h1M156.5 252.5h1M160.7 246.8h1M168.3 252.1h1M166.9 254.7h1M169.3 249.2h1M166.1 243.7h1M163.6 251.5h1M162.5 245.6h1M162.9 240.2h1M169.6 245.4h1M156.4 255.3h1M157.6 248.2h1M165.1 247.3h1M164.6 251.4h1M155.1 258.9h1M180.0 256.9h1M172.2 257.6h1M167.3 251.3h1M161.7 250.1h1M172.1 244.2h1M164.6 257.4h1M171.8 242.0h1M172.0 242.3h1M179.7 253.9h1M167.4 246.4h1M154.7 241.9h1M166.3 255.3h1M146.5 243.5h1M173.0 248.4h1M165.3 241.2h1M150.8 250.7h1M155.4 245.2h1M168.2 253.2h1M156.6 248.0h1M167.8 244.4h1M148.2 247.8h1M167.7 250.1h1M177.0 253.2h1M167.0 249.7h1M150.0 245.9h1M157.5 259.5h1M169.6 243.2h1M162.9 250.3h1M176.3 247.5h1M166.9 247.9h1M156.8 251.9h1M154.1 258.6h1M168.2 250.0h1M161.2 247.9h1M169.2 245.9h1M162.7 249.2h1M167.1 258.8h1M164.4 248.3h1M154.4 248.0h1M171.8 247.5h1M170.2 258.5h1M163.2 251.4h1M157.2 250.5h1M174.9 240.3h1M165.3 250.8h1M162.1 251.4h1M178.6 240.7h1M163.8 243.2h1M169.1 255.6h1M162.7 244.8h1M159.8 254.0h1M171.0 237.4h1M171.9 250.7h1M160.3 249.0h1M160.0 237.1h1M174.1 259.4h1M185.9 245.1h1M195.6 251.4h1M164.2 254.9h1M188.7 251.6h1M160.4 250.8h1M145.3 258.8h1M194.6 239.3h1M163.7 241.2h1M164.0 250.9h1M148.1 246.8h1M213.5 248.1h1M239.2 247.9h1M212.2 242.6h1M175.9 253.0h1M214.9 238.6h1M236.7 253.0h1M202.1 253.4h1M223.1 253.4h1M185.5 244.5h1M210.9 252.6h1M154.3 261.0h1M155.2 254.6h1M165.8 263.0h1M145.0 257.1h1M170.9 244.3h1M180.1 255.3h1M219.9 249.0h1M231.4 266.5h1M224.1 249.1h1M184.9 256.3h1M168.9 252.4h1M195.6 241.8h1M145.2 264.5h1M219.5 249.4h1M175.3 236.0h1M193.2 247.5h1M244.5 247.6h1M219.9 260.0h1M203.1 253.5h1M197.4 243.7h1M219.6 253.3h1M159.4 259.8h1M210.8 249.4h1M150.4 243.2h1M174.3 240.1h1M213.5 252.5h1M223.4 251.1h1M176.0 240.0h1M211.2 253.7h1M227.4 247.3h1M193.7 240.8h1M215.3 232.6h1M215.5 248.4h1M237.0 249.4h1M214.7 235.6h1M192.6 228.7h1M216.9 250.1h1M159.7 243.1h1M181.3 266.0h1M221.3 236.8h1M239.8 236.8h1M191.3 262.0h1M165.9 256.1h1M165.1 235.7h1M233.5 264.3h1M207.9 265.4h1M213.2 256.9h1M163.1 245.1h1M211.6 248.0h1M242.2 262.4h1M162.4 269.9h1M206.5 234.9h1M153.7 249.3h1M225.9 230.0h1M150.8 251.8h1M229.7 242.1h1M210.7 250.8h1M240.8 240.9h1M219.4 251.6h1M208.8 259.3h1M225.8 275.6h1M173.8 259.4h1M181.6 225.6h1M180.5 251.7h1M219.0 248.1h1M210.1 243.9h1M232.7 267.9h1M192.0 253.6h1M170.6 267.1h1M231.0 247.3h1M197.0 266.5h1M187.2 258.1h1M231.4 260.6h1M203.6 267.9h1M177.0 248.0h1M156.8 253.4h1M240.2 242.0h1M180.1 251.7h1M224.8 243.6h1M145.2 245.0h1M232.5 273.0h1M184.3 249.3h1M145.9 262.3h1M210.4 271.4h1M185.7 258.0h1M216.5 233.2h1M227.7 255.7h1M163.7 229.6h1M190.8 279.4h1M200.9 244.8h1M225.4 259.7h1M148.0 244.9h1M172.8 257.3h1M169.7 242.9h1M228.0 238.9h1M164.1 240.2h1M216.9 248.3h1M161.3 235.6h1M227.0 247.9h1M176.1 253.9h1M152.4 239.9h1M189.3 242.9h1M188.4 254.3h1M232.8 232.6h1M166.5 277.9h1M200.1 233.3h1M197.5 257.5h1M176.1 238.5h1M239.9 242.3h1M220.8 261.3h1M227.0 249.7h1M191.8 244.9h1M212.1 264.4h1M159.9 256.3h1M236.2 267.1h1M180.6 232.6h1M160.7 241.4h1M227.6 240.1h1M236.5 244.8h1M244.1 249.5h1M182.9 255.4h1M241.0 263.2h1M175.3 249.8h1M220.6 269.2h1M182.8 256.2h1M176.2 262.8h1M175.0 242.6h1M232.9 261.2h1M232.4 253.1h1M179.6 249.4h1M182.3 267.0h1M149.1 225.1h1M236.3 262.5h1M175.8 243.6h1M242.3 250.7h1M174.0 238.1h1M162.8 264.2h1M194.8 243.7h1M206.7 234.7h1M240.2 248.5h1M162.1 250.4h1M180.3 250.9h1M223.6 270.9h1M224.7 246.5h1M170.6 246.2h1M165.6 245.9h1M231.9 256.9h1M218.9 240.8h1M181.2 255.9h1M223.5 257.9h1M176.8 247.9h1M155.7 247.3h1M188.0 265.7h1M228.0 249.9h1M220.2 242.5h1M206.5 248.3h1M152.2 238.6h1M177.0 232.6h1M152.8 254.6h1M207.0 242.3h1M206.5 266.6h1M156.8 271.3h1M234.6 265.2h1M152.6 250.3h1M239.8 265.9h1M161.1 239.1h1M232.9 255.5h1M184.4 252.8h1M159.2 267.4h1M208.7 249.7h1M193.9 248.5h1M235.2 265.5h1M178.9 253.8h1M234.2 263.7h1M213.7 260.2h1M241.8 250.7h1M204.8 249.6h1M225.4 251.4h1M218.3 249.3h1M192.2 236.5h1M203.5 234.1h1M146.7 252.6h1M189.4 242.8h1M201.5 244.9h1M149.8 262.1h1M224.9 261.6h1M164.5 263.6h1M177.9 242.4h1M208.1 252.0h1M234.8 242.5h1M219.7 250.9h1M169.0 252.1h1M200.9 242.8h1M204.4 258.4h1M188.5 257.3h1M199.9 255.7h1M194.4 243.4h1M149.2 237.2h1M240.4 243.8h1M200.3 244.1h1M194.5 244.2h1M180.2 255.7h1M180.2 250.3h1M151.5 240.5h1M167.4 249.2h1M223.4 271.5h1M171.4 262.7h1M152.9 268.4h1M156.1 263.3h1M202.2 231.9h1M187.3 230.8h1M185.6 245.8h1M161.3 265.2h1M200.3 253.4h1M244.5 251.3h1M185.8 244.0h1M239.3 233.1h1M159.8 240.7h1M202.0 256.4h1M166.0 258.1h1M186.8 251.2h1M232.8 260.3h1M203.6 250.7h1M197.8 258.8h1M194.5 251.7h1M212.3 254.1h1M219.5 246.4h1M242.5 245.5h1M172.5 258.8h1M235.8 256.7h1M207.2 261.1h1M230.9 255.9h1M149.2 254.6h1M224.4 256.3h1M151.8 247.0h1M212.8 247.1h1M220.0 262.2h1M178.6 267.9h1M175.3 271.8h1M251.2 305.2h1M254.1 304.5h1M242.6 320.1h1M252.0 309.4h1M250.9 317.4h1M252.7 309.2h1M247.5 296.1h1M255.7 308.7h1M249.3 295.2h1M253.9 308.2h1M251.6 307.9h1M253.6 314.5h1M253.4 309.4h1M254.0 307.5h1M249.6 306.7h1M253.8 295.3h1M254.7 293.8h1M252.1 315.5h1M255.3 298.6h1M255.7 292.5h1M253.1 302.9h1M255.0 310.2h1M252.1 285.3h1M252.5 307.6h1M250.5 325.2h1M253.2 307.2h1M255.2 299.1h1M250.9 304.4h1M247.8 305.2h1M251.0 307.2h1M250.6 308.1h1M251.1 291.4h1M253.3 316.2h1M254.1 307.6h1M250.3 304.9h1M253.5 300.9h1M254.2 312.2h1M251.2 291.7h1M256.7 299.6h1M252.2 307.0h1M253.8 300.2h1M247.1 316.1h1M248.7 311.0h1M251.6 291.7h1M252.0 292.4h1M250.4 313.3h1M248.3 294.4h1M257.1 293.9h1M250.0 310.2h1M249.8 311.1h1M254.5 312.5h1M252.1 298.9h1M251.1 315.8h1M247.9 307.0h1M247.6 322.1h1M250.3 297.9h1M248.6 297.9h1M250.5 305.3h1M253.2 324.2h1M249.7 295.0h1M251.7 312.7h1M254.0 300.0h1M253.7 314.2h1M249.5 318.5h1M247.4 299.5h1M253.4 299.2h1M252.8 304.8h1M256.8 317.4h1M255.7 308.3h1M251.7 315.5h1M254.5 291.7h1M253.3 317.8h1M248.1 310.0h1M253.5 314.2h1M251.4 301.0h1M255.4 308.9h1M258.4 309.8h1M253.4 307.6h1M255.1 296.2h1M252.0 309.6h1M249.7 316.6h1M252.5 305.7h1M256.0 306.9h1M251.0 296.7h1M249.9 309.3h1M247.9 312.8h1M251.9 293.0h1M251.4 303.0h1M253.3 309.7h1M253.2 298.7h1M248.6 302.1h1M247.8 311.9h1M257.6 305.5h1M254.1 310.1h1M248.7 306.9h1M251.7 287.8h1M253.9 310.2h1M249.1 310.5h1M252.8 297.2h1M248.9 295.8h1M252.3 302.6h1M259.6 307.8h1M255.6 306.1h1M250.8 304.1h1M257.3 289.4h1M252.0 288.9h1M250.3 292.2h1M251.0 303.8h1M253.6 302.6h1M253.5 302.1h1M253.4 306.7h1M248.2 303.0h1M256.4 325.2h1M251.9 294.2h1M254.0 298.8h1M250.3 317.9h1M252.4 296.3h1M255.9 298.9h1M254.1 298.6h1M251.2 312.3h1M250.1 302.5h1M257.6 303.6h1M253.6 311.0h1M251.1 311.7h1M253.8 298.3h1M249.2 297.9h1M251.5 313.9h1M248.8 317.1h1M252.1 288.8h1M247.1 295.2h1M256.0 299.3h1M248.8 279.9h1M251.3 292.6h1M250.5 309.6h1M244.1 292.5h1M247.2 297.5h1M247.9 304.3h1M248.8 307.1h1M249.3 301.5h1M245.9 311.7h1M252.4 317.2h1M249.4 294.7h1M255.1 314.5h1M250.9 300.2h1M249.9 292.1h1M251.8 312.3h1M248.9 295.4h1M251.3 317.5h1M250.8 296.4h1M248.2 300.1h1M246.9 313.6h1M253.6 304.0h1M254.0 300.5h1M256.0 312.9h1M248.0 299.1h1M250.5 310.5h1M254.1 290.5h1M248.5 304.5h1M249.6 286.3h1M255.0 304.4h1M252.6 308.7h1M245.1 306.4h1M253.0 284.4h1M251.1 308.8h1M252.2 314.1h1M254.3 305.2h1M248.5 297.2h1M253.1 314.3h1M251.5 302.2h1M250.2 287.9h1M249.4 313.9h1M255.0 292.7h1M251.9 283.6h1M251.9 316.1h1M251.5 313.7h1M250.7 295.4h1M253.6 302.1h1M254.2 301.8h1M253.2 291.3h1M251.7 325.2h1M248.2 322.6h1M249.9 312.0h1M250.7 295.3h1M248.2 288.1h1M247.3 289.1h1M250.3 299.6h1M253.2 309.7h1M253.0 285.3h1M254.8 305.8h1M252.1 310.3h1M252.4 294.4h1M256.1 299.4h1M253.2 325.2h1M246.8 310.4h1M252.9 306.2h1M252.7 316.0h1M248.0 297.7h1M254.0 313.4h1M253.2 309.6h1M250.3 310.4h1M249.0 304.1h1M253.1 307.5h1M251.4 295.1h1M246.0 299.5h1M247.5 302.6h1M255.5 324.9h1M250.2 288.4h1M250.9 300.8h1M253.8 325.2h1M252.2 299.3h1M250.9 307.5h1M249.1 303.7h1M254.1 303.6h1M248.4 311.3h1M251.9 314.9h1M249.6 308.5h1M252.3 304.3h1M250.5 288.7h1M253.0 303.4h1M248.9 304.3h1M258.9 290.4h1M247.8 284.3h1M251.5 296.2h1M250.2 299.1h1M250.5 292.8h1M253.0 303.1h1M255.5 310.9h1M249.9 294.7h1M255.4 301.1h1M248.1 300.6h1M249.9 288.3h1M250.0 310.4h1M249.6 303.4h1M252.3 297.8h1M251.0 305.8h1M247.6 298.1h1M249.7 285.5h1M247.6 306.3h1M250.2 285.6h1M250.3 319.1h1M253.8 303.9h1M249.3 303.1h1M249.9 309.0h1M251.2 299.5h1M252.0 299.9h1M254.6 289.0h1M253.3 296.9h1M247.5 286.3h1M252.0 293.0h1M250.1 306.7h1M253.8 304.2h1M255.5 311.7h1M251.6 303.1h1M249.4 293.5h1M249.9 314.7h1M254.6 294.0h1M250.7 299.6h1M252.8 292.7h1M250.9 300.4h1M250.3 298.1h1M248.3 320.5h1M250.6 291.3h1M252.5 310.3h1M250.8 302.0h1M255.0 305.6h1M250.3 317.6h1M252.3 289.6h1M252.2 325.2h1M251.9 313.3h1M252.3 303.2h1M249.9 302.5h1M252.3 321.2h1M251.9 281.5h1M247.3 316.1h1M250.7 301.5h1M253.4 284.8h1M249.0 294.7h1M248.1 303.6h1M250.1 301.5h1M248.5 301.3h1M248.9 320.9h1M253.2 299.2h1M251.3 290.2h1M250.6 289.0h1M252.4 304.9h1M248.1 300.3h1M256.3 291.0h1M249.0 300.0h1M254.0 291.3h1M253.4 315.9h1M255.1 296.5h1M252.6 302.7h1M252.8 317.8h1M251.1 301.1h1M249.5 306.5h1M252.6 302.7h1M250.5 293.6h1M250.8 318.7h1M248.6 305.4h1M253.3 311.6h1M250.1 324.5h1M254.2 302.2h1M253.5 287.1h1M252.6 312.1h1M252.8 300.7h1M249.9 298.0h1M252.8 306.9h1M258.7 315.5h1M252.8 293.4h1M251.5 294.6h1M250.7 324.2h1M247.6 282.2h1M251.3 313.0h1M251.7 302.1h1M250.1 297.9h1M250.2 294.3h1M256.1 311.6h1M248.1 284.5h1M249.4 325.2h1M251.7 314.2h1M251.7 313.9h1M256.4 304.3h1M254.4 293.4h1M253.6 283.1h1M258.1 286.3h1M251.7 295.3h1M248.8 294.3h1M248.6 325.2h1M252.7 300.5h1M257.0 280.7h1M249.5 322.4h1M247.1 288.6h1M246.7 314.1h1M251.1 306.1h1M252.6 295.6h1M255.3 316.0h1M247.6 305.8h1M248.8 312.1h1M255.9 302.8h1M249.7 318.3h1M250.0 294.8h1M253.3 286.2h1M249.7 315.9h1M253.0 293.1h1M252.5 291.5h1M253.0 306.5h1M252.1 293.9h1M255.6 309.6h1M250.3 305.6h1M252.4 312.3h1M253.5 299.6h1M253.4 315.4h1M245.9 325.2h1M249.2 314.3h1M254.8 305.4h1M254.2 315.5h1M248.8 284.2h1M246.8 312.8h1M248.7 310.2h1M251.6 283.4h1M254.4 325.2h1M247.3 302.0h1M247.9 308.8h1M249.2 304.2h1M249.4 304.5h1M252.7 305.0h1M245.2 315.1h1M250.5 312.4h1M249.8 313.0h1M252.0 310.8h1M246.4 313.3h1M251.4 294.5h1M250.5 310.8h1M253.1 306.8h1M248.2 294.3h1M254.7 294.1h1M253.5 323.5h1M253.9 303.2h1M250.8 295.4h1M251.9 294.5h1M253.5 302.0h1M252.0 303.7h1M252.0 297.5h1M252.4 297.9h1M250.9 299.7h1M253.2 302.4h1M250.3 299.2h1M253.2 290.1h1M253.8 298.2h1M254.5 296.4h1M258.7 300.5h1M250.8 309.2h1M253.3 292.6h1M250.5 293.4h1M253.2 297.9h1M249.9 312.4h1M254.0 312.1h1M247.6 295.6h1M250.5 316.3h1M254.7 311.1h1M250.2 323.3h1M249.0 283.5h1M249.2 313.7h1M251.6 314.2h1M250.1 297.5h1M247.9 297.9h1M252.5 288.8h1M251.4 297.5h1M247.4 319.3h1M248.6 299.3h1M253.9 304.8h1M249.3 325.2h1M251.0 315.7h1M255.9 306.9h1M250.3 286.7h1M248.5 294.5h1M249.0 313.9h1M249.5 297.0h1M248.1 320.9h1M249.6 288.7h1M251.6 305.9h1M247.3 306.8h1M256.6 306.2h1M248.0 292.7h1M245.5 306.8h1M254.5 316.5h1M254.1 299.4h1M252.4 304.1h1M256.8 310.3h1M257.6 309.0h1M252.0 301.5h1M252.8 315.5h1M248.3 290.4h1M248.9 293.6h1M249.2 298.5h1M256.4 287.7h1M251.8 303.4h1M249.5 307.0h1M253.6 318.0h1M251.5 304.8h1M254.6 314.5h1M251.0 295.9h1M255.0 316.8h1M248.3 308.5h1M255.5 321.2h1M250.6 306.1h1M252.9 298.8h1M248.3 325.2h1M253.3 318.3h1M252.7 307.5h1M253.6 321.4h1M245.0 305.1h1M256.0 304.4h1M253.8 315.4h1M251.4 307.9h1M254.7 313.1h1M256.1 296.6h1M253.1 305.2h1M250.1 293.8h1M250.2 292.3h1M256.6 304.7h1M252.1 307.0h1M251.7 314.6h1M254.7 314.6h1M255.1 310.0h1M249.9 298.0h1M253.9 301.4h1M253.1 316.8h1M249.1 291.0h1M251.5 302.5h1M253.7 299.4h1M251.8 310.6h1M247.9 305.1h1M253.0 307.1h1M256.9 295.6h1M253.6 317.3h1M251.6 304.9h1M252.2 297.7h1M251.6 311.2h1M250.9 311.0h1M251.6 296.9h1M245.8 296.5h1M250.2 281.8h1M241.2 292.6h1M255.8 284.8h1M255.3 318.1h1M257.9 295.1h1M247.3 300.5h1M260.8 299.4h1M248.1 295.5h1M265.9 321.9h1M249.8 299.2h1M256.5 307.2h1M251.1 293.9h1M247.5 280.9h1M245.6 295.2h1M246.4 301.4h1M247.2 296.7h1M242.8 313.2h1M247.3 279.5h1M239.6 273.8h1M256.4 281.1h1M254.8 282.0h1M251.3 291.4h1M250.8 302.7h1M251.5 316.0h1M243.7 298.1h1M254.8 302.7h1M251.7 289.0h1M239.6 280.7h1M252.5 293.4h1M245.4 302.1h1M262.7 288.5h1M246.7 286.9h1M250.7 314.4h1M255.4 318.3h1M251.1 296.1h1M263.4 312.6h1M249.7 303.8h1M240.3 304.7h1M249.2 269.1h1M246.1 295.1h1M252.4 287.1h1M252.6 296.4h1M252.6 291.2h1M245.8 303.8h1M259.9 282.9h1M262.6 277.1h1M248.1 325.2h1M252.2 314.4h1M255.2 295.2h1M238.5 294.4h1M254.7 324.5h1M254.4 308.0h1M248.9 296.5h1M255.6 309.9h1M255.0 298.1h1M245.7 312.0h1M258.1 260.3h1M253.1 310.4h1M256.5 290.3h1M269.0 280.6h1M261.1 305.1h1M259.9 313.7h1M234.3 313.9h1M246.0 297.1h1M246.5 325.2h1M258.2 290.1h1M251.3 295.6h1M248.4 301.2h1M249.0 300.5h1M253.1 282.1h1M254.7 309.7h1M249.2 306.6h1M248.5 303.9h1M253.6 306.1h1M247.7 297.4h1M249.6 287.7h1M256.3 316.8h1M251.5 305.0h1M262.0 295.0h1M248.6 293.8h1M249.1 297.3h1M259.7 295.5h1M245.9 269.1h1M258.2 281.2h1M255.1 325.2h1M247.7 297.5h1M255.2 306.6h1M254.6 288.3h1M246.9 299.5h1M245.4 302.0h1M247.1 289.7h1M251.0 284.3h1M259.7 302.8h1M260.8 296.8h1M248.6 312.3h1M246.7 291.1h1M249.0 294.7h1M254.7 300.7h1M253.9 293.7h1M250.2 298.2h1M252.1 309.7h1M237.8 304.0h1M254.2 300.6h1M246.5 297.6h1M248.5 311.6h1M251.6 315.5h1M236.7 286.3h1M249.6 303.4h1M249.9 239.9h1M253.8 256.3h1M250.4 244.5h1M251.9 248.7h1M247.5 247.7h1M251.1 249.9h1M250.7 246.5h1M251.2 250.2h1M247.6 259.5h1M251.5 252.6h1M249.7 246.9h1M255.2 249.4h1M253.8 253.2h1M253.8 244.9h1M253.2 243.5h1M248.1 247.4h1M252.6 249.0h1M253.0 249.4h1M251.7 251.0h1M250.7 236.6h1M251.4 244.5h1M252.1 242.8h1M248.2 248.6h1M249.4 243.8h1M248.1 252.2h1M248.4 260.0h1M251.5 258.7h1M254.1 255.8h1M251.7 254.2h1M250.9 249.4h1M254.6 245.6h1M249.5 250.4h1M256.8 255.1h1M255.7 247.0h1M247.5 246.0h1M254.3 257.4h1M250.8 258.9h1M247.2 250.6h1M249.3 250.3h1M252.9 254.2h1M252.8 247.9h1M252.7 255.3h1M250.5 248.7h1M252.5 255.6h1M250.7 250.2h1M246.8 271.5h1M250.8 275.2h1M250.3 268.0h1M245.7 265.5h1M250.7 261.8h1M249.4 258.8h1M248.7 273.2h1M248.3 269.9h1M248.6 270.3h1M253.6 284.6h1M254.8 252.4h1M253.5 263.1h1M251.8 275.3h1M245.8 262.2h1M250.4 259.1h1M252.9 256.4h1M252.3 252.6h1M254.9 268.3h1M247.0 276.3h1M252.0 268.5h1M248.5 280.2h1M248.0 265.5h1M248.9 260.4h1M250.8 276.9h1M244.9 280.0h1" stroke="#000" stroke-width="1" stroke-opacity=".9" fill="none" transform="translate(-0.5,0)"/>
<rect x="133.5" y="210.6" width="151.2" height="114.6" fill="none" stroke="#2a2a2a" stroke-width="1"/>
<path d="M238.4 210.6V325.2M133.5 273.8H284.7" stroke="#2a2a2a" stroke-width="1" fill="none"/>
<path d="M133.50 325.2v3.6M133.5 325.20h-3.8M144.88 325.2v1.8M133.5 316.58h-2M151.54 325.2v1.8M133.5 311.53h-2M156.26 325.2v1.8M133.5 307.95h-2M159.92 325.2v1.8M133.5 305.17h-2M162.91 325.2v1.8M133.5 302.91h-2M165.44 325.2v1.8M133.5 300.99h-2M167.64 325.2v1.8M133.5 299.33h-2M169.57 325.2v1.8M133.5 297.86h-2M171.30 325.2v3.6M133.5 296.55h-3.8M182.68 325.2v1.8M133.5 287.93h-2M189.34 325.2v1.8M133.5 282.88h-2M194.06 325.2v1.8M133.5 279.30h-2M197.72 325.2v1.8M133.5 276.52h-2M200.71 325.2v1.8M133.5 274.26h-2M203.24 325.2v1.8M133.5 272.34h-2M205.44 325.2v1.8M133.5 270.68h-2M207.37 325.2v1.8M133.5 269.21h-2M209.10 325.2v3.6M133.5 267.90h-3.8M220.48 325.2v1.8M133.5 259.28h-2M227.14 325.2v1.8M133.5 254.23h-2M231.86 325.2v1.8M133.5 250.65h-2M235.52 325.2v1.8M133.5 247.87h-2M238.51 325.2v1.8M133.5 245.61h-2M241.04 325.2v1.8M133.5 243.69h-2M243.24 325.2v1.8M133.5 242.03h-2M245.17 325.2v1.8M133.5 240.56h-2M246.90 325.2v3.6M133.5 239.25h-3.8M258.28 325.2v1.8M133.5 230.63h-2M264.94 325.2v1.8M133.5 225.58h-2M269.66 325.2v1.8M133.5 222.00h-2M273.32 325.2v1.8M133.5 219.22h-2M276.31 325.2v1.8M133.5 216.96h-2M278.84 325.2v1.8M133.5 215.04h-2M281.04 325.2v1.8M133.5 213.38h-2M282.97 325.2v1.8M133.5 211.91h-2M284.70 325.2v3.6M133.5 210.60h-3.8" stroke="#222" stroke-width="1" fill="none"/>
<g font-family='"Liberation Sans", "DejaVu Sans", sans-serif' font-size="7.4" fill="#1a1a1a" stroke="#1a1a1a" stroke-width=".3">
<text transform="translate(133.8 335.5) scale(.96 1.07)" text-anchor="middle">10<tspan dy="-2.5" font-size="6.2">0</tspan></text>
<text transform="translate(127.1 330.9) rotate(-90) scale(.85 1.2)">10<tspan dy="-3.8" font-size="5.8">0</tspan></text>
<text transform="translate(171.6 335.5) scale(.96 1.07)" text-anchor="middle">10<tspan dy="-2.5" font-size="6.2">1</tspan></text>
<text transform="translate(127.1 302.2) rotate(-90) scale(.85 1.2)">10<tspan dy="-3.8" font-size="5.8">1</tspan></text>
<text transform="translate(209.4 335.5) scale(.96 1.07)" text-anchor="middle">10<tspan dy="-2.5" font-size="6.2">2</tspan></text>
<text transform="translate(127.1 273.6) rotate(-90) scale(.85 1.2)">10<tspan dy="-3.8" font-size="5.8">2</tspan></text>
<text transform="translate(247.2 335.5) scale(.96 1.07)" text-anchor="middle">10<tspan dy="-2.5" font-size="6.2">3</tspan></text>
<text transform="translate(127.1 244.9) rotate(-90) scale(.85 1.2)">10<tspan dy="-3.8" font-size="5.8">3</tspan></text>
<text transform="translate(285.0 335.5) scale(.96 1.07)" text-anchor="middle">10<tspan dy="-2.5" font-size="6.2">4</tspan></text>
<text transform="translate(127.1 216.3) rotate(-90) scale(.85 1.2)">10<tspan dy="-3.8" font-size="5.8">4</tspan></text>
<text x="208.6" y="343.2" text-anchor="middle" font-size="7.2">FL1-H</text>
<text transform="translate(116.2 269.4) rotate(-90)" text-anchor="middle" font-size="7.0">FL2-H</text>
</g>
<g font-family='"Liberation Serif", "DejaVu Serif", serif' font-weight="bold" font-size="15.9" fill="#0c0c0c" stroke="#0c0c0c" stroke-width=".35">
<text x="138.0" y="229.6">25.2%</text>
<text x="241.2" y="229.6">74.8%</text>
</g>
</g>
<g>
<path d="M408.2 293.9h1M381.7 313.9h1M394.7 295.3h1M394.2 310.6h1M390.6 290.7h1M381.6 293.4h1M401.1 297.3h1M403.6 304.3h1M394.5 288.2h1M391.8 303.4h1M381.4 303.8h1M403.3 292.0h1M402.4 296.2h1M401.7 298.2h1M406.0 301.5h1M406.7 301.0h1M379.5 309.3h1M393.8 303.6h1M383.4 305.7h1M397.6 297.8h1M404.4 306.4h1M399.6 293.5h1M399.3 288.5h1M391.0 300.6h1M397.5 303.3h1M395.2 299.0h1M395.4 303.9h1M391.2 301.1h1M380.3 299.3h1M384.7 302.2h1M384.8 299.9h1M391.9 302.3h1M388.3 299.8h1M411.8 312.7h1M400.9 299.0h1M391.9 309.1h1M411.6 299.3h1M405.8 303.0h1M388.1 293.3h1M403.1 302.6h1M393.6 296.4h1M387.7 306.1h1M395.3 293.8h1M404.4 299.3h1M409.2 301.5h1M390.8 284.8h1M390.8 296.5h1M401.3 299.7h1M398.0 295.8h1M401.3 304.4h1M395.8 291.2h1M403.1 303.4h1M396.4 307.1h1M382.9 304.0h1M411.8 304.7h1M376.1 301.2h1M389.0 295.5h1M408.2 302.7h1M397.0 306.5h1M407.9 305.4h1M396.1 284.5h1M386.6 299.3h1M395.3 297.4h1M400.5 290.5h1M400.7 296.4h1M383.6 297.8h1M382.6 292.3h1M395.3 294.0h1M390.9 298.9h1M396.7 296.7h1M394.8 304.4h1M392.1 304.8h1M386.7 308.6h1M381.3 287.8h1M388.5 307.9h1M405.7 298.5h1M394.5 292.9h1M414.4 306.1h1M410.0 296.6h1M407.4 304.0h1M412.6 292.7h1M370.0 291.9h1M409.3 309.7h1M399.2 301.6h1M398.1 306.2h1M402.3 295.5h1M394.9 300.9h1M378.7 296.8h1M383.2 300.3h1M387.9 283.0h1M395.9 290.2h1M395.5 300.7h1M403.2 300.7h1M419.1 301.7h1M412.1 308.4h1M386.8 296.1h1M382.1 287.3h1M401.2 299.9h1M413.6 303.9h1M388.4 317.9h1M376.5 302.5h1M375.1 295.4h1M405.7 297.4h1M379.6 306.3h1M382.0 295.7h1M406.2 302.0h1M396.5 298.9h1M403.2 306.5h1M386.3 295.2h1M401.0 297.2h1M396.4 295.3h1M400.6 304.6h1M413.0 293.1h1M393.4 301.1h1M388.7 309.9h1M385.3 310.1h1M389.2 298.3h1M395.2 310.2h1M393.8 304.8h1M384.8 293.0h1M385.3 294.4h1M378.8 298.6h1M388.7 294.0h1M399.9 305.8h1M402.3 291.8h1M409.2 290.5h1M392.2 285.9h1M389.9 301.4h1M380.3 301.9h1M381.2 299.7h1M378.1 287.8h1M404.1 289.6h1M407.7 299.3h1M400.7 299.1h1M376.9 308.4h1M391.9 294.1h1M381.9 299.2h1M390.1 295.4h1M403.6 307.5h1M384.4 290.4h1M406.6 300.6h1M404.4 300.0h1M400.7 303.1h1M401.5 289.0h1M410.7 291.8h1M397.2 293.8h1M391.6 302.4h1M397.4 307.9h1M397.9 312.2h1M412.6 294.6h1M399.0 305.2h1M389.9 303.1h1M379.1 303.3h1M386.7 294.6h1M409.5 290.5h1M382.2 309.8h1M410.5 295.0h1M406.7 295.8h1M398.4 285.9h1M404.8 295.7h1M385.8 299.3h1M409.6 296.5h1M405.2 301.7h1M403.2 304.3h1M394.1 293.1h1M413.2 302.6h1M393.8 302.0h1M394.0 300.2h1M404.9 298.0h1M395.9 297.3h1M377.9 301.4h1M416.1 307.4h1M390.0 298.6h1M406.2 302.2h1M385.2 289.9h1M372.1 306.6h1M388.2 316.4h1M409.7 287.0h1M380.4 303.3h1M393.3 295.7h1M393.9 296.5h1M400.7 301.4h1M396.4 290.8h1M397.7 296.0h1M395.6 295.5h1M412.5 299.8h1M390.9 305.5h1M406.3 305.8h1M400.7 283.1h1M398.1 288.1h1M396.0 301.0h1M401.8 306.5h1M371.0 300.8h1M388.4 299.0h1M416.0 296.2h1M380.2 297.5h1M377.6 315.4h1M417.8 306.8h1M373.2 301.0h1M393.9 297.2h1M394.1 301.8h1M404.6 301.6h1M388.2 297.9h1M390.1 292.9h1M396.3 301.7h1M391.5 296.2h1M406.3 302.5h1M373.1 295.0h1M388.1 296.1h1M389.6 297.6h1M393.3 306.0h1M382.4 301.1h1M397.5 311.8h1M370.8 298.6h1M418.4 306.0h1M393.2 307.9h1M382.8 290.0h1M378.9 298.7h1M388.3 296.3h1M412.2 299.3h1M392.8 292.8h1M392.8 313.4h1M409.9 304.0h1M398.2 284.8h1M405.7 298.2h1M413.3 306.6h1M378.6 308.3h1M397.0 298.8h1M388.9 285.4h1M404.5 299.1h1M388.8 300.8h1M399.1 302.9h1M426.1 288.4h1M403.0 300.2h1M378.0 292.8h1M388.9 292.9h1M400.5 309.5h1M396.6 301.7h1M393.7 300.9h1M397.1 301.8h1M404.7 296.5h1M394.5 301.4h1M392.7 303.0h1M394.4 298.8h1M392.9 313.4h1M396.8 306.6h1M395.7 282.9h1M406.7 317.1h1M377.6 293.4h1M387.8 311.4h1M377.8 301.5h1M387.5 300.5h1M392.8 300.3h1M391.4 306.1h1M403.4 289.5h1M386.9 301.5h1M417.0 308.1h1M384.2 296.6h1M405.3 300.6h1M407.9 301.2h1M398.2 300.6h1M399.3 300.3h1M411.0 295.3h1M413.0 301.4h1M387.8 304.7h1M391.7 298.1h1M391.6 298.5h1M400.4 308.5h1M381.3 291.2h1M389.3 287.3h1M392.8 310.0h1M383.7 306.0h1M423.3 313.5h1M371.4 306.9h1M396.5 284.9h1M406.5 307.1h1M412.2 291.4h1M389.0 296.3h1M399.9 301.4h1M391.2 304.5h1M400.6 304.1h1M405.0 295.6h1M379.2 297.5h1M394.1 295.0h1M392.2 292.2h1M404.6 294.1h1M402.4 310.0h1M395.3 292.7h1M405.3 296.2h1M395.7 300.8h1M381.8 312.9h1M394.1 294.6h1M393.2 304.2h1M394.0 291.1h1M389.6 301.0h1M399.5 293.0h1M400.3 304.0h1M390.7 308.3h1M393.9 293.6h1M397.8 303.4h1M384.5 302.8h1M403.9 296.0h1M400.7 294.4h1M408.7 298.9h1M402.7 313.7h1M402.8 302.7h1M398.7 306.7h1M393.2 308.1h1M395.3 307.5h1M406.8 302.5h1M397.7 304.7h1M394.7 305.2h1M387.3 296.9h1M388.9 308.3h1M392.0 284.8h1M407.0 298.6h1M399.1 298.2h1M400.5 284.3h1M411.9 299.1h1M378.5 306.7h1M398.8 303.4h1M400.7 302.3h1M401.2 297.1h1M391.5 309.1h1M393.1 305.0h1M386.7 299.6h1M408.6 302.7h1M392.2 307.7h1M399.2 298.5h1M398.3 289.5h1M399.1 293.0h1M392.8 297.5h1M387.6 294.7h1M411.2 306.5h1M387.9 298.3h1M396.4 294.2h1M369.1 304.1h1M401.6 298.5h1M385.2 295.2h1M397.7 300.0h1M393.9 301.0h1M402.5 309.7h1M371.2 298.8h1M396.5 297.8h1M384.8 296.4h1M393.0 303.6h1M393.5 306.1h1M412.9 304.7h1M396.2 302.6h1M398.2 299.9h1M393.2 299.9h1M397.9 298.7h1M407.2 300.9h1M395.3 296.7h1M394.8 297.3h1M402.4 315.5h1M397.3 303.1h1M380.0 308.9h1M381.7 293.2h1M408.0 299.9h1M395.2 307.8h1M417.7 289.8h1M398.9 305.8h1M394.9 304.7h1M383.7 307.8h1M386.8 304.9h1M400.5 306.9h1M401.0 298.9h1M406.2 290.9h1M420.1 293.6h1M392.3 301.8h1M424.9 307.6h1M397.1 291.8h1M396.3 296.9h1M414.6 294.0h1M396.9 296.0h1M399.5 295.5h1M402.3 302.1h1M397.1 298.4h1M394.4 303.7h1M406.0 315.4h1M393.8 292.9h1M399.6 308.1h1M386.4 286.6h1M403.2 300.6h1M397.3 302.1h1M400.0 306.2h1M398.0 300.7h1M398.4 293.8h1M378.1 300.9h1M398.1 298.8h1M396.0 297.4h1M407.3 303.3h1M398.4 294.8h1M394.7 293.0h1M389.4 291.9h1M399.1 290.3h1M410.4 306.5h1M405.9 296.7h1M397.4 302.9h1M400.3 301.8h1M396.7 300.0h1M397.2 301.8h1M382.3 298.9h1M362.8 298.3h1M394.9 300.9h1M390.9 298.1h1M401.4 303.7h1M390.0 306.9h1M384.0 297.3h1M395.3 290.7h1M380.6 307.9h1M397.6 303.4h1M399.5 306.0h1M408.9 302.1h1M399.8 292.7h1M384.0 302.9h1M385.5 294.5h1M378.0 303.6h1M389.5 294.2h1M412.6 299.8h1M415.2 295.6h1M382.5 301.5h1M385.8 294.9h1M400.6 298.2h1M387.3 301.8h1M383.8 300.7h1M410.4 301.9h1M410.7 299.4h1M393.0 296.6h1M381.4 289.6h1M398.7 307.9h1M403.6 306.9h1M405.2 291.9h1M405.8 308.4h1M392.5 293.0h1M401.0 296.8h1M420.0 293.4h1M393.5 308.3h1M389.3 310.3h1M388.0 299.6h1M383.0 300.2h1M390.4 297.2h1M382.9 305.5h1M396.4 297.0h1M396.7 320.5h1M393.3 313.2h1M394.1 307.3h1M385.8 304.3h1M400.6 301.0h1M401.1 300.7h1M391.2 292.2h1M415.4 305.6h1M396.7 310.4h1M395.9 306.4h1M408.8 298.0h1M398.0 293.1h1M398.9 319.5h1M411.7 289.3h1M397.0 292.3h1M400.6 310.4h1M379.9 290.6h1M404.8 289.3h1M415.3 301.7h1M403.3 296.0h1M403.4 296.9h1M390.9 298.2h1M376.9 297.4h1M391.2 305.5h1M399.4 298.3h1M398.8 305.5h1M389.4 302.1h1M394.4 303.3h1M384.9 299.3h1M388.7 300.9h1M385.2 316.4h1M396.7 298.0h1M394.1 294.4h1M397.5 301.9h1M407.9 298.3h1M388.8 299.6h1M391.7 306.9h1M402.7 301.5h1M390.4 301.1h1M416.1 290.3h1M408.5 308.0h1M380.4 300.7h1M396.7 296.2h1M397.3 295.2h1M386.0 295.7h1M394.5 294.2h1M401.3 312.3h1M395.5 291.7h1M407.0 294.5h1M391.0 303.5h1M403.4 308.5h1M403.6 301.7h1M405.9 290.8h1M395.7 305.5h1M389.8 299.1h1M367.8 296.2h1M394.9 294.1h1M415.8 315.7h1M382.8 301.4h1M379.8 300.9h1M415.0 308.7h1M385.3 303.6h1M405.0 308.8h1M400.5 300.7h1M394.2 312.9h1M394.9 299.8h1M381.6 284.8h1M396.3 306.8h1M398.3 302.9h1M394.7 309.3h1M404.2 301.1h1M390.2 295.3h1M385.1 297.7h1M399.7 293.6h1M409.3 297.4h1M400.4 305.8h1M370.2 295.0h1M403.8 309.5h1M372.2 308.9h1M381.7 299.0h1M402.9 304.9h1M382.2 296.2h1M392.2 311.0h1M388.8 297.5h1M397.7 311.5h1M387.9 301.2h1M406.8 297.0h1M413.0 308.1h1M395.4 307.8h1M410.0 311.0h1M391.3 292.6h1M391.3 297.2h1M388.4 300.2h1M422.5 306.7h1M395.4 296.4h1M403.1 286.0h1M386.6 289.3h1M405.1 300.7h1M398.4 303.2h1M410.5 297.8h1M393.0 295.9h1M377.6 301.0h1M383.6 297.5h1M395.9 303.6h1M392.9 300.7h1M397.2 297.2h1M405.6 286.6h1M407.4 299.6h1M397.0 300.1h1M406.5 304.2h1M404.8 308.1h1M380.1 305.9h1M402.7 300.4h1M381.9 320.1h1M399.4 294.1h1M390.1 308.7h1M395.4 302.7h1M396.4 290.3h1M395.0 310.7h1M401.9 312.2h1M404.4 300.5h1M400.4 299.0h1M394.1 307.3h1M397.5 301.7h1M368.9 295.3h1M385.4 292.8h1M408.3 309.7h1M390.7 293.9h1M397.4 308.9h1M373.6 293.1h1M395.2 290.0h1M387.0 292.9h1M396.5 315.0h1M399.7 308.2h1M382.0 305.6h1M396.2 316.1h1M397.9 300.4h1M409.9 303.0h1M402.9 297.3h1M401.3 296.0h1M406.1 292.0h1M402.3 294.4h1M405.3 298.1h1M394.9 292.0h1M395.1 295.8h1M381.0 287.3h1M401.7 300.8h1M395.5 302.9h1M388.8 289.5h1M393.5 311.1h1M384.6 300.2h1M410.0 297.4h1M389.4 305.7h1M400.5 296.3h1M397.2 303.4h1M381.5 307.4h1M395.7 307.2h1M393.0 304.9h1M393.7 290.8h1M405.1 295.3h1M394.6 302.4h1M413.7 297.1h1M403.3 317.9h1M410.8 292.1h1M383.8 304.1h1M399.9 294.6h1M396.5 299.3h1M394.3 303.5h1M411.0 294.3h1M397.9 303.4h1M390.2 299.2h1M389.5 294.2h1M393.8 294.4h1M380.0 297.8h1M397.6 296.6h1M387.4 299.2h1M396.3 296.6h1M403.3 311.9h1M406.8 293.9h1M392.2 299.7h1M432.1 288.0h1M405.4 295.4h1M390.7 311.5h1M394.7 303.2h1M392.1 298.3h1M392.3 312.5h1M397.2 291.5h1M395.8 294.0h1M399.2 294.9h1M396.7 299.6h1M380.5 292.7h1M385.3 307.9h1M389.6 299.7h1M395.5 297.5h1M390.9 303.1h1M394.5 302.0h1M394.6 305.7h1M401.7 294.1h1M398.9 288.7h1M389.4 306.9h1M378.7 303.0h1M389.5 306.5h1M385.4 303.1h1M383.2 309.9h1M398.9 317.4h1M399.6 300.2h1M414.6 289.5h1M387.4 294.8h1M384.8 298.2h1M388.9 309.0h1M398.8 292.9h1M402.3 306.7h1M387.5 299.2h1M387.2 296.9h1M401.0 291.9h1M402.7 298.4h1M414.2 299.3h1M386.7 297.7h1M407.1 309.1h1M395.9 290.8h1M394.2 294.1h1M405.6 295.8h1M390.7 304.7h1M390.8 296.6h1M386.2 314.8h1M406.4 309.7h1M398.9 307.2h1M387.8 287.1h1M411.8 302.1h1M395.7 298.1h1M393.0 302.7h1M399.6 304.0h1M394.8 297.3h1M396.8 304.8h1M400.4 294.9h1M398.5 298.7h1M404.8 304.1h1M395.8 296.3h1M395.5 302.3h1M384.8 301.1h1M386.4 302.1h1M398.7 301.7h1M396.0 304.5h1M400.2 299.5h1M394.0 292.8h1M396.2 296.3h1M408.3 291.3h1M402.5 303.9h1M396.8 310.7h1M409.2 312.9h1M389.0 302.9h1M385.6 295.8h1M403.5 298.2h1M408.7 293.9h1M396.2 296.6h1M392.8 291.2h1M392.6 306.8h1M393.7 299.3h1M381.4 299.0h1M382.0 303.7h1M377.5 304.5h1M403.7 306.6h1M399.4 303.8h1M404.8 287.2h1M391.1 294.6h1M405.6 294.5h1M395.0 303.3h1M394.9 298.4h1M389.1 298.3h1M382.6 306.0h1M385.1 296.9h1M410.8 302.3h1M409.9 293.5h1M375.1 297.0h1M402.9 294.4h1M413.6 302.4h1M407.4 313.5h1M405.7 308.3h1M411.3 296.6h1M391.6 300.5h1M411.2 288.5h1M403.0 300.4h1M404.9 317.2h1M398.3 282.3h1M387.1 305.4h1M384.4 300.2h1M390.9 301.9h1M400.2 306.8h1M391.4 297.2h1M400.4 292.0h1M401.2 302.7h1M395.6 314.4h1M375.6 304.9h1M407.5 306.4h1M397.5 308.0h1M403.6 295.6h1M388.4 299.3h1M398.3 293.6h1M426.9 305.6h1M405.5 289.1h1M392.9 293.8h1M407.1 307.5h1M399.0 302.9h1M388.6 300.1h1M395.5 302.4h1M381.1 296.1h1M388.1 308.0h1M402.1 300.6h1M389.4 301.8h1M393.2 290.9h1M386.6 304.5h1M405.5 296.4h1M381.8 304.0h1M389.8 304.4h1M382.4 305.5h1M390.0 287.9h1M414.2 283.2h1M430.4 306.8h1M406.2 300.1h1M409.4 294.5h1M381.6 306.1h1M395.4 301.6h1M410.9 314.0h1M389.5 304.2h1M407.8 303.2h1M407.3 306.0h1M408.3 301.5h1M395.7 299.3h1M401.6 297.2h1M388.4 286.1h1M401.2 296.4h1M385.3 303.9h1M393.4 300.0h1M401.5 296.3h1M405.0 308.1h1M396.9 304.5h1M414.6 303.1h1M371.7 293.7h1M386.7 299.7h1M394.8 304.5h1M393.7 304.7h1M408.8 304.9h1M410.3 311.2h1M389.1 308.5h1M398.4 289.0h1M399.9 307.5h1M404.0 299.6h1M383.3 306.1h1M396.6 301.4h1M391.1 305.1h1M391.5 289.6h1M385.7 297.0h1M385.1 311.8h1M404.7 301.8h1M390.3 299.8h1M392.8 291.5h1M387.0 299.3h1M384.1 311.4h1M391.9 294.1h1M373.2 307.4h1M390.7 303.6h1M388.7 298.0h1M385.6 295.0h1M388.6 297.3h1M398.4 296.1h1M390.6 300.6h1M399.1 287.0h1M404.9 288.5h1M387.4 302.7h1M391.6 298.0h1M397.4 305.9h1M376.5 301.8h1M387.2 304.2h1M387.6 313.0h1M384.6 301.0h1M390.5 302.2h1M398.4 309.6h1M399.0 297.2h1M403.8 315.7h1M394.5 299.9h1M398.6 300.9h1M407.7 301.9h1M401.0 303.6h1M383.0 302.4h1M417.2 314.6h1M406.9 292.5h1M414.4 292.4h1M406.9 302.0h1M386.0 300.3h1M387.4 302.5h1M393.5 297.1h1M395.5 302.7h1M398.7 298.9h1M392.2 301.9h1M403.3 292.9h1M402.0 312.1h1M400.2 312.4h1M404.4 307.0h1M391.5 303.3h1M414.2 297.8h1M380.3 299.1h1M396.9 306.1h1M395.3 304.7h1M413.0 302.9h1M399.9 298.1h1M389.7 305.3h1M400.4 310.4h1M402.2 302.4h1M414.8 294.4h1M389.9 304.4h1M394.2 297.2h1M388.0 305.2h1M393.3 292.1h1M389.3 307.0h1M382.6 289.7h1M382.7 308.2h1M395.0 302.9h1M400.2 304.8h1M381.1 302.4h1M412.7 301.1h1M390.3 303.3h1M392.7 291.4h1M380.9 309.9h1M408.7 314.6h1M388.8 315.6h1M399.1 307.0h1M383.9 306.7h1M393.5 309.5h1M401.1 292.4h1M394.4 296.6h1M398.5 306.8h1M415.3 306.1h1M394.2 304.4h1M396.1 299.4h1M410.2 302.2h1M389.8 292.1h1M402.0 311.9h1M392.1 311.4h1M398.6 299.1h1M403.8 294.9h1M399.8 291.9h1M396.3 305.3h1M377.1 296.2h1M402.6 295.2h1M396.2 302.6h1M392.1 300.0h1M392.8 301.4h1M393.1 300.1h1M381.0 307.1h1M394.9 295.0h1M385.2 300.5h1M397.3 297.3h1M378.2 287.7h1M390.8 293.8h1M403.7 292.2h1M397.3 316.4h1M398.3 296.5h1M396.5 297.8h1M390.7 307.7h1M401.3 301.5h1M392.9 296.9h1M392.1 299.2h1M388.0 294.9h1M405.5 299.0h1M396.5 297.7h1M392.1 295.8h1M405.5 306.3h1M402.4 302.5h1M407.5 299.3h1M387.9 302.7h1M396.4 299.8h1M386.5 310.3h1M410.7 297.3h1M402.4 304.6h1M419.5 303.8h1M399.5 304.9h1M404.9 297.9h1M414.1 291.1h1M385.3 301.8h1M393.0 300.1h1M401.5 310.8h1M403.0 297.9h1M411.2 313.6h1M408.2 306.8h1M372.6 291.4h1M386.9 296.2h1M412.9 292.7h1M377.5 293.5h1M400.2 305.8h1M383.3 303.6h1M402.1 294.3h1M389.6 288.7h1M393.0 296.7h1M417.6 310.0h1M399.3 304.1h1M395.6 297.8h1M386.7 287.6h1M396.0 306.7h1M409.9 312.2h1M399.1 299.4h1M412.4 304.2h1M402.3 301.8h1M401.4 312.1h1M380.0 302.4h1M402.6 299.2h1M377.2 306.5h1M399.0 297.0h1M395.3 306.8h1M404.3 312.1h1M396.9 293.5h1M400.9 298.6h1M396.1 290.2h1M412.3 300.4h1M405.2 289.6h1M377.0 308.4h1M414.6 302.3h1M381.8 310.3h1M386.8 297.6h1M376.7 301.8h1M388.8 293.3h1M393.8 300.0h1M392.7 304.1h1M395.5 303.6h1M395.8 301.5h1M399.8 297.8h1M392.4 308.4h1M401.6 289.2h1M399.6 294.7h1M388.9 305.5h1M383.3 305.8h1M399.6 303.2h1M385.6 297.7h1M404.6 303.6h1M402.2 300.5h1M408.3 289.1h1M406.1 311.0h1M390.9 294.9h1M391.0 288.2h1M375.7 290.5h1M404.7 296.5h1M399.5 308.5h1M394.5 300.0h1M380.2 302.5h1M386.5 298.2h1M369.7 301.2h1M417.8 287.1h1M403.3 284.3h1M389.4 294.6h1M409.2 303.4h1M409.4 293.1h1M397.4 298.6h1M392.6 295.6h1M405.5 309.2h1M406.9 300.6h1M408.0 304.6h1M400.5 299.6h1M408.4 312.3h1M400.7 300.4h1M398.2 308.3h1M395.5 298.6h1M385.4 304.9h1M389.7 303.0h1M412.0 301.9h1M403.2 299.3h1M396.2 299.1h1M379.3 303.9h1M387.2 296.7h1M377.1 290.2h1M389.6 293.0h1M390.8 307.1h1M403.4 305.2h1M394.2 304.6h1M390.0 289.9h1M413.0 305.4h1M409.6 298.0h1M392.0 297.9h1M381.5 307.3h1M386.4 300.1h1M389.6 303.0h1M392.2 289.6h1M399.0 306.3h1M395.4 307.1h1M395.3 294.5h1M375.1 294.1h1M385.0 300.6h1M402.6 300.2h1M409.9 296.7h1M405.7 303.8h1M401.1 308.5h1M379.5 299.0h1M389.5 297.7h1M393.4 302.0h1M376.2 299.9h1M409.2 298.3h1M393.8 296.0h1M401.7 304.7h1M387.9 306.2h1M387.5 307.3h1M397.0 299.4h1M400.4 303.7h1M387.1 306.4h1M400.8 303.7h1M400.8 316.2h1M404.7 304.8h1M382.7 306.4h1M397.2 299.6h1M413.4 292.6h1M390.6 304.5h1M392.4 292.8h1M391.3 315.2h1M399.5 296.5h1M403.9 301.5h1M405.9 296.0h1M385.4 295.7h1M392.6 296.0h1M394.5 317.2h1M389.4 300.5h1M384.7 312.0h1M407.6 302.2h1M396.3 310.6h1M408.4 299.9h1M405.2 297.0h1M388.5 298.3h1M388.1 312.2h1M387.3 284.3h1M386.3 299.7h1M389.1 310.2h1M388.3 300.2h1M393.6 286.5h1M386.6 311.3h1M399.3 310.6h1M396.6 296.8h1M369.5 304.3h1M383.3 301.6h1M396.3 306.7h1M392.0 293.9h1M399.4 295.2h1M389.9 302.1h1M390.2 295.0h1M384.7 303.8h1M383.0 312.5h1M390.5 294.7h1M406.2 303.0h1M410.5 299.6h1M392.5 301.1h1M394.2 300.8h1M405.5 308.9h1M388.6 304.8h1M404.3 298.7h1M379.6 302.3h1M385.5 308.1h1M414.2 299.7h1M390.8 292.9h1M390.0 293.6h1M389.4 295.5h1M378.0 304.4h1M391.8 298.7h1M385.6 298.5h1M399.2 299.6h1M393.9 296.7h1M393.9 296.9h1M385.2 292.0h1M395.5 309.7h1M388.3 301.1h1M405.1 301.9h1M380.2 308.0h1M394.1 305.0h1M396.5 290.7h1M394.9 301.8h1M395.3 307.0h1M397.5 300.0h1M395.1 297.2h1M406.7 283.7h1M410.4 299.2h1M376.8 306.9h1M400.7 307.7h1M402.2 303.6h1M372.4 293.9h1M388.6 302.2h1M384.8 294.7h1M400.3 303.0h1M406.1 306.6h1M401.4 300.0h1M385.4 299.8h1M379.0 311.4h1M379.5 310.3h1M399.8 309.8h1M411.7 308.7h1M388.0 289.8h1M397.5 305.4h1M380.3 303.0h1M408.1 302.0h1M405.0 288.3h1M409.4 300.8h1M408.8 300.9h1M397.4 301.2h1M399.7 306.7h1M416.9 298.7h1M386.1 300.2h1M398.7 305.7h1M397.1 310.1h1M389.7 296.7h1M395.8 304.2h1M386.8 296.4h1M407.6 288.4h1M416.9 295.5h1M399.1 290.2h1M395.4 304.8h1M388.8 301.3h1M402.1 301.7h1M393.9 297.3h1M407.1 303.4h1M392.8 285.1h1M393.0 297.9h1M401.7 309.1h1M398.0 303.6h1M376.0 300.9h1M409.0 293.7h1M398.7 297.7h1M394.6 301.7h1M398.6 309.4h1M385.4 293.7h1M381.9 292.4h1M394.2 298.7h1M392.0 304.1h1M388.2 307.8h1M395.2 298.5h1M402.2 304.0h1M387.3 294.6h1M406.8 294.7h1M395.1 298.6h1M407.1 302.9h1M410.1 297.1h1M386.4 301.9h1M390.1 306.7h1M409.7 313.6h1M397.8 290.7h1M394.4 297.7h1M382.5 308.6h1M392.2 309.4h1M390.4 309.1h1M391.6 303.6h1M390.8 311.2h1M392.1 285.6h1M371.1 297.1h1M378.1 291.2h1M387.4 300.4h1M395.4 290.9h1M400.6 308.6h1M401.6 296.6h1M409.4 308.3h1M407.9 291.5h1M398.6 296.5h1M403.5 310.6h1M421.9 296.6h1M416.5 293.1h1M453.7 301.1h1M408.8 298.0h1M395.8 288.8h1M452.2 308.9h1M397.2 291.5h1M432.8 303.8h1M405.4 302.7h1M425.2 294.9h1M380.3 303.3h1M409.2 299.7h1M437.0 310.7h1M414.3 309.2h1M407.9 302.0h1M436.3 301.5h1M412.5 281.4h1M442.6 311.8h1M411.1 301.3h1M429.1 293.0h1M407.8 304.8h1M408.8 282.3h1M434.9 297.9h1M428.8 310.4h1M440.5 315.2h1M414.5 306.7h1M413.5 312.4h1M424.7 314.7h1M438.0 307.8h1M411.8 306.2h1M402.8 290.1h1M395.2 307.0h1M409.3 295.6h1M425.3 293.1h1M417.8 311.0h1M395.3 300.9h1M426.3 308.8h1M420.6 299.1h1M427.3 298.2h1M396.2 297.7h1M437.0 305.9h1M419.0 285.1h1M426.0 308.0h1M412.6 300.9h1M395.5 293.5h1M434.0 303.2h1M449.2 315.0h1M441.5 301.2h1M414.4 323.1h1M444.6 323.1h1M410.9 304.3h1M414.1 300.4h1M437.4 302.4h1M409.5 277.8h1M424.1 302.5h1M416.1 290.7h1M413.8 298.3h1M425.9 297.1h1M417.7 310.3h1M439.4 315.1h1M431.1 295.7h1M446.8 303.1h1M401.0 301.3h1M406.6 298.9h1M417.7 297.7h1M423.0 316.6h1M429.8 310.6h1M423.2 304.7h1M408.0 301.0h1M398.4 299.7h1M433.3 303.1h1M417.9 306.4h1M414.1 289.9h1M422.5 302.7h1M434.6 311.4h1M405.3 300.7h1M427.2 293.5h1M413.0 306.5h1M434.8 297.3h1M412.7 295.3h1M437.5 292.7h1M397.9 310.6h1M428.3 300.9h1M425.0 298.2h1M431.0 309.3h1M410.2 299.8h1M434.9 309.4h1M419.3 301.4h1M433.1 298.5h1M417.3 307.2h1M397.0 311.5h1M413.7 290.7h1M413.3 310.4h1M430.4 295.0h1M405.6 294.3h1M445.9 297.0h1M416.9 303.0h1M427.4 308.0h1M407.3 311.3h1M441.5 300.4h1M420.8 292.2h1M432.7 295.7h1M403.4 306.1h1M412.8 294.2h1M445.7 305.1h1M433.0 292.4h1M420.7 313.1h1M449.9 292.6h1M401.7 301.1h1M417.9 293.0h1M416.3 303.7h1M420.7 311.4h1M430.9 311.9h1M413.5 293.7h1M410.1 300.2h1M426.1 297.1h1M420.3 298.9h1M401.4 310.3h1M432.6 306.9h1M416.8 302.2h1M405.6 307.0h1M405.9 302.2h1M444.2 301.9h1M401.8 308.4h1M428.8 304.7h1M432.3 306.7h1M414.5 304.5h1M406.1 303.9h1M431.7 300.4h1M438.1 307.6h1M432.6 304.6h1M421.2 292.4h1M418.6 303.0h1M427.8 304.6h1M420.3 290.3h1M409.1 297.8h1M435.4 294.3h1M429.8 289.4h1M411.5 305.2h1M429.8 306.1h1M428.9 294.7h1M419.8 325.2h1M425.1 316.6h1M393.7 295.9h1M413.0 288.7h1M438.2 298.7h1M434.7 286.5h1M426.3 292.6h1M396.5 284.6h1M393.8 302.7h1M409.5 295.6h1M420.1 318.5h1M441.2 294.2h1M419.3 293.0h1M401.1 296.8h1M447.2 307.4h1M396.8 296.5h1M462.9 302.8h1M436.7 299.8h1M408.4 287.9h1M445.8 303.9h1M406.1 284.9h1M435.1 296.0h1M409.7 303.9h1M398.8 296.7h1M419.6 295.3h1M412.3 293.7h1M408.7 304.6h1M438.5 303.1h1M417.1 301.6h1M416.4 305.7h1M407.7 287.6h1M426.3 294.2h1M420.7 299.2h1M425.0 305.5h1M404.6 293.5h1M419.3 290.0h1M427.6 302.8h1M429.8 302.6h1M442.2 295.8h1M419.6 307.0h1M398.6 301.1h1M426.7 301.0h1M396.5 301.9h1M405.7 287.6h1M433.5 299.9h1M412.8 310.8h1M427.1 306.0h1M398.1 298.9h1M435.1 297.9h1M429.1 312.6h1M444.1 311.5h1M413.7 307.4h1M405.5 304.4h1M415.3 297.4h1M443.6 287.8h1M430.7 284.3h1M416.4 300.7h1M417.8 297.8h1M412.8 302.6h1M421.7 292.6h1M434.5 292.6h1M421.4 303.6h1M450.9 298.8h1M417.0 302.2h1M425.4 302.2h1M433.2 294.3h1M427.9 320.3h1M426.3 310.0h1M428.4 299.8h1M424.5 302.2h1M440.4 310.8h1M449.7 294.3h1M427.3 295.8h1M417.7 291.7h1M426.0 288.8h1M419.5 303.4h1M425.6 295.7h1M427.1 289.4h1M440.8 306.0h1M434.0 297.9h1M416.6 293.0h1M422.5 310.3h1M432.3 294.7h1M416.5 315.1h1M419.1 314.7h1M443.1 290.4h1M414.5 295.6h1M428.2 311.0h1M426.0 306.9h1M394.7 298.3h1M419.2 307.3h1M428.6 296.3h1M417.7 304.6h1M425.0 300.2h1M436.1 314.2h1M414.3 297.1h1M396.7 290.8h1M407.7 290.2h1M404.7 301.6h1M415.3 309.7h1M439.4 307.9h1M431.9 309.0h1M411.9 314.2h1M409.9 302.8h1M409.0 304.1h1M424.6 306.2h1M427.0 282.0h1M406.5 319.5h1M419.5 307.2h1M441.0 309.4h1M406.8 290.8h1M436.0 288.1h1M395.4 302.8h1M451.0 308.1h1M414.2 294.1h1M426.9 301.8h1M420.7 290.6h1M389.9 309.2h1M409.0 303.9h1M396.3 304.2h1M414.8 298.2h1M415.0 316.2h1M425.8 312.2h1M412.8 292.2h1M415.3 311.0h1M417.5 283.4h1M406.3 296.1h1M419.5 304.7h1M420.3 308.3h1M431.9 310.1h1M441.3 298.6h1M441.5 293.9h1M428.3 301.8h1M443.3 293.4h1M439.0 314.1h1M436.2 297.4h1M442.6 309.7h1M405.2 307.4h1M400.1 298.2h1M431.5 289.7h1M388.9 301.3h1M406.9 296.3h1M447.8 304.4h1M431.1 301.2h1M447.3 295.0h1M391.1 308.2h1M438.0 303.5h1M408.5 300.4h1M418.7 302.1h1M432.3 303.2h1M399.5 296.0h1M423.9 300.5h1M433.9 306.4h1M429.5 300.5h1M407.6 303.7h1M448.0 303.9h1M420.8 308.2h1M439.4 310.9h1M426.1 287.9h1M413.3 297.1h1M425.4 306.1h1M391.2 307.1h1M393.3 295.2h1M415.5 316.3h1M402.6 307.8h1M445.3 307.4h1M394.2 303.3h1M422.0 304.9h1M422.7 302.5h1M435.0 309.3h1M418.7 296.7h1M403.8 297.8h1M413.9 295.7h1M409.0 296.6h1M414.5 304.0h1M435.5 302.1h1M433.4 307.7h1M440.5 289.3h1M408.1 301.3h1M426.8 303.0h1M449.6 286.6h1M430.2 301.2h1M447.1 312.7h1M409.1 313.5h1M423.8 309.9h1M418.6 303.4h1M429.7 308.0h1M387.6 307.9h1M416.5 302.4h1M424.1 307.4h1M432.7 306.1h1M406.5 299.3h1M441.5 296.3h1M416.1 302.9h1M416.6 297.9h1M433.0 297.6h1M420.5 308.6h1M430.7 307.9h1M406.9 303.2h1M428.3 284.2h1M413.6 319.3h1M418.1 304.5h1M438.9 289.0h1M425.3 302.7h1M421.5 311.8h1M428.4 300.2h1M407.0 319.4h1M398.1 305.3h1M420.4 292.2h1M402.6 314.1h1M413.1 313.8h1M432.3 296.5h1M422.6 302.5h1M404.3 288.9h1M457.5 301.7h1M405.1 308.8h1M455.1 304.0h1M410.1 310.3h1M409.6 305.5h1M404.0 306.6h1M424.9 289.8h1M462.2 300.0h1M423.6 295.8h1M436.2 300.6h1M438.6 305.8h1M432.1 298.1h1M423.6 297.4h1M414.7 296.3h1M440.1 308.0h1M420.3 315.0h1M402.6 289.6h1M392.5 294.8h1M428.0 290.5h1M422.2 307.7h1M410.8 300.0h1M382.1 301.4h1M419.9 300.9h1M426.9 305.3h1M429.7 300.9h1M440.2 305.9h1M388.3 310.5h1M398.0 309.2h1M386.7 300.5h1M426.1 299.1h1M412.9 301.5h1M394.3 297.9h1M445.1 307.6h1M436.8 305.0h1M412.4 302.6h1M407.6 301.1h1M438.2 304.6h1M421.5 312.2h1M407.1 295.4h1M417.6 295.7h1M417.2 284.6h1M429.7 291.2h1M426.5 302.3h1M418.7 300.0h1M395.0 291.5h1M426.3 301.5h1M425.0 301.4h1M445.6 295.8h1M402.0 296.0h1M401.6 301.0h1M404.4 310.1h1M422.5 296.5h1M424.6 308.3h1M407.8 298.8h1M431.6 299.8h1M424.0 306.7h1M403.9 310.1h1M411.7 311.5h1M422.7 308.5h1M458.8 290.3h1M437.4 315.4h1M412.4 295.2h1M396.0 314.2h1M431.4 299.7h1M402.7 299.8h1M429.0 312.6h1M436.0 314.1h1M443.2 306.4h1M405.0 297.7h1M428.8 300.1h1M425.6 306.6h1M450.7 295.5h1M425.9 297.0h1M446.9 293.2h1M405.7 297.1h1M414.0 302.0h1M420.5 305.9h1M423.8 305.4h1M450.3 289.1h1M411.1 309.6h1M419.5 302.6h1M421.4 305.7h1M413.5 296.3h1M429.3 303.7h1M431.4 314.0h1M409.1 291.1h1M427.5 306.9h1M412.9 306.2h1M436.4 304.8h1M439.1 291.0h1M447.1 301.4h1M436.1 313.6h1M419.2 286.9h1M421.9 307.0h1M412.5 301.4h1M419.9 305.3h1M412.8 302.3h1M438.7 285.5h1M395.6 310.1h1M446.9 300.2h1M419.9 300.5h1M436.9 303.8h1M430.3 293.3h1M421.0 307.0h1M427.5 300.7h1M413.3 303.1h1M412.8 314.0h1M414.5 297.5h1M432.1 303.2h1M380.8 303.1h1M431.2 298.0h1M406.9 295.5h1M434.2 296.6h1M408.5 296.4h1M458.0 297.7h1M416.1 290.4h1M396.1 313.2h1M409.9 294.6h1M433.5 298.0h1M428.1 303.2h1M414.8 300.1h1M422.7 295.0h1M416.0 295.2h1M432.4 300.2h1M375.3 304.2h1M429.0 297.3h1M429.1 297.0h1M447.7 303.5h1M429.1 298.9h1M421.1 299.4h1M400.6 300.7h1M407.0 302.8h1M417.7 299.9h1M423.1 296.5h1M406.8 311.1h1M412.4 301.5h1M416.5 296.8h1M410.4 291.9h1M406.0 310.7h1M403.9 295.4h1M405.2 301.9h1M432.3 305.1h1M437.4 306.3h1M388.0 296.5h1M438.5 305.3h1M429.9 298.6h1M440.8 307.0h1M429.4 299.8h1M455.1 294.0h1M408.8 290.2h1M439.7 292.8h1M414.5 309.0h1M451.8 287.2h1M429.8 308.1h1M438.4 294.1h1M432.2 307.1h1M418.1 292.7h1M429.0 306.8h1M426.0 301.7h1M409.9 300.8h1M410.4 291.8h1M414.8 311.4h1M428.0 288.6h1M424.5 297.4h1M439.1 295.6h1M425.9 291.0h1M412.9 309.9h1M403.3 300.1h1M406.7 290.1h1M430.4 296.2h1M399.5 302.2h1M425.9 294.8h1M421.8 299.4h1M421.4 315.9h1M424.3 308.2h1M418.3 312.9h1M418.7 302.2h1M407.2 318.2h1M420.6 302.3h1M430.7 296.1h1M409.9 296.8h1M438.7 301.8h1M422.8 298.3h1M439.8 296.8h1M448.9 297.0h1M429.4 320.8h1M417.1 298.2h1M409.5 302.7h1M396.7 302.4h1M414.6 310.7h1M414.7 316.1h1M422.7 282.4h1M421.2 305.2h1M424.1 293.5h1M415.6 298.8h1M449.1 292.1h1M418.4 296.7h1M416.4 302.1h1M438.0 311.4h1M428.1 308.7h1M408.8 308.8h1M415.6 307.4h1M419.2 315.8h1M426.2 300.3h1M416.5 309.0h1M427.9 289.1h1M419.4 300.3h1M415.0 296.6h1M402.0 306.0h1M436.1 298.2h1M414.8 309.7h1M436.8 304.1h1M447.9 305.2h1M422.8 295.3h1M433.1 298.8h1M458.4 312.7h1M433.7 298.0h1M416.1 303.2h1M431.0 302.6h1M412.6 313.9h1M433.5 281.8h1M418.0 304.5h1M427.7 292.7h1M419.2 307.7h1M387.1 301.5h1M451.8 301.2h1M420.0 291.0h1M442.3 288.1h1M417.6 282.1h1M402.0 296.3h1M429.2 296.6h1M414.4 293.3h1M414.1 292.2h1M441.9 306.4h1M414.9 302.5h1M401.5 303.3h1M422.2 306.7h1M446.2 292.2h1M413.0 303.3h1M424.3 280.1h1M428.2 306.2h1M433.2 308.6h1M418.9 296.8h1M405.8 295.9h1M407.9 307.1h1M434.5 300.9h1M427.3 289.7h1M420.2 296.4h1M438.9 290.8h1M396.3 297.4h1M399.1 283.3h1M448.8 305.4h1M420.9 296.1h1M408.4 292.7h1M411.2 308.1h1M422.6 293.5h1M395.1 306.7h1M406.1 296.2h1M412.5 308.7h1M432.5 307.9h1M411.6 305.0h1M409.9 300.2h1M423.6 307.1h1M434.8 306.0h1M423.3 300.4h1M437.1 282.8h1M382.2 318.9h1M427.8 319.3h1M423.7 283.2h1M440.4 303.4h1M373.6 294.7h1M386.5 274.5h1M452.6 311.2h1M450.0 299.5h1M432.7 294.0h1M469.7 304.7h1M392.7 293.3h1M392.3 325.2h1M382.2 302.4h1M468.8 281.9h1M424.1 311.3h1M448.2 286.9h1M402.7 279.4h1M416.3 302.6h1M388.1 313.6h1M394.1 317.3h1M391.3 301.7h1M441.6 272.5h1M436.4 286.6h1M450.1 300.4h1M454.7 300.9h1M414.6 298.5h1M418.4 300.0h1M425.9 283.3h1M438.4 296.9h1M375.3 300.3h1M458.2 290.0h1M442.2 295.9h1M443.0 316.5h1M458.2 314.0h1M404.5 281.6h1M449.2 285.6h1M399.9 309.9h1M380.9 296.2h1M440.1 302.8h1M452.4 296.7h1M425.3 280.0h1M453.4 314.1h1M414.5 290.5h1M457.4 308.6h1M393.4 295.1h1M434.7 325.2h1M385.1 302.3h1M393.9 309.8h1M439.2 307.8h1M399.4 261.3h1M424.6 297.7h1M445.6 306.5h1M409.4 303.1h1M392.0 321.6h1M386.9 314.3h1M387.1 301.5h1M470.8 303.9h1M429.8 301.7h1M446.0 296.1h1M429.6 307.3h1M448.3 303.3h1M403.3 274.7h1M436.2 308.9h1M463.4 323.4h1M431.1 307.8h1M393.4 305.7h1M470.7 306.3h1M407.9 313.0h1M458.3 307.3h1M380.8 299.9h1M451.6 299.1h1M403.6 300.9h1M440.1 310.3h1M397.6 305.5h1M453.6 312.5h1M452.9 306.1h1M422.8 301.2h1M393.7 290.4h1M454.0 324.6h1M403.8 298.8h1M470.1 299.8h1M386.4 291.2h1M452.1 300.3h1M436.4 303.9h1M432.8 304.7h1M402.2 287.4h1M470.2 310.6h1M412.2 261.6h1M408.8 325.2h1M404.2 318.4h1M423.2 302.1h1M413.2 308.8h1M381.7 303.1h1M467.4 301.1h1M434.2 320.1h1M390.6 294.1h1M437.4 292.4h1M410.9 290.0h1M464.2 284.1h1M445.0 306.2h1M394.9 303.1h1M469.9 308.7h1M445.4 290.9h1M436.9 297.0h1M449.6 300.8h1M438.9 308.8h1M461.8 302.4h1M434.7 310.9h1M376.4 315.7h1M391.8 302.7h1M392.7 303.7h1M389.8 309.0h1M399.5 299.8h1M381.4 318.8h1M391.7 299.4h1M428.2 297.0h1M460.6 313.4h1M391.3 305.1h1M399.2 291.0h1M385.9 299.0h1M442.4 314.0h1M436.2 310.4h1M413.0 307.0h1M449.1 301.1h1M457.5 299.5h1M376.1 296.9h1M408.6 312.2h1M396.2 278.4h1M409.3 309.9h1M435.8 301.1h1M392.2 305.8h1M386.8 286.7h1M468.9 298.5h1M380.4 281.5h1M454.4 325.2h1M379.1 311.0h1M454.1 309.4h1M413.4 309.8h1M400.9 300.5h1M471.1 302.6h1M423.6 290.2h1M417.7 308.6h1M432.9 315.8h1M427.8 296.0h1M399.3 316.6h1M412.3 299.6h1M421.3 317.6h1M466.5 322.4h1M439.4 287.7h1M413.1 299.4h1M422.8 294.4h1M391.4 299.7h1M411.5 313.6h1M407.5 312.7h1M392.4 297.5h1M398.5 306.2h1M393.9 305.0h1M385.6 276.7h1M448.7 292.5h1M399.8 314.5h1M416.5 291.4h1M429.0 317.3h1M375.7 294.2h1M429.8 308.4h1M449.8 309.7h1M376.3 285.1h1M428.1 325.2h1M415.6 312.2h1M435.7 271.2h1M403.4 304.6h1M382.6 304.3h1M428.1 325.2h1M419.8 290.5h1M420.3 312.1h1M452.7 278.0h1M406.4 314.3h1M406.3 283.5h1M396.8 295.5h1M382.1 302.0h1M436.5 309.5h1M444.2 294.2h1M434.0 296.6h1M395.6 309.5h1M386.9 311.4h1M421.9 325.2h1M387.9 272.9h1M375.8 319.6h1M460.5 300.9h1M375.6 318.2h1M434.3 287.5h1M463.1 302.0h1M466.1 311.8h1M382.3 299.3h1M451.2 292.5h1M446.3 306.5h1M465.8 303.3h1M393.5 325.2h1M451.4 314.0h1M396.3 317.2h1M402.7 311.0h1M439.0 305.5h1M461.5 306.1h1M384.8 315.1h1M407.0 312.7h1M410.6 319.2h1M424.7 304.0h1M457.9 300.1h1M418.0 284.5h1M418.7 320.5h1M385.0 306.7h1M409.8 273.6h1M440.4 307.4h1M463.5 305.9h1M455.0 309.6h1M463.7 303.9h1M400.5 295.5h1M458.8 294.5h1M378.9 308.8h1M447.3 301.2h1M422.4 308.4h1M392.0 290.8h1M432.5 299.2h1M423.5 305.6h1M379.7 307.0h1M447.4 304.9h1M464.6 283.8h1M444.4 289.4h1M412.0 301.3h1M384.9 294.0h1M420.9 272.8h1M464.0 296.5h1M402.7 293.7h1M438.5 309.0h1M387.2 299.1h1M466.1 306.6h1M449.4 310.4h1M436.8 311.8h1M375.4 296.9h1M407.6 304.4h1M438.8 277.2h1M395.6 303.9h1M449.2 303.9h1M418.6 310.4h1M393.5 313.6h1M388.5 296.7h1M384.9 312.7h1M443.8 320.1h1M424.8 289.1h1M422.7 305.0h1M464.6 305.1h1M424.7 292.9h1M467.2 306.1h1M382.1 289.8h1M406.9 289.5h1M379.1 302.1h1M421.0 314.1h1M454.3 315.4h1M373.6 283.0h1M468.9 313.4h1M436.6 322.0h1M414.1 298.3h1M462.1 294.9h1M388.9 312.2h1M378.2 295.5h1M466.5 304.0h1M426.5 309.7h1M411.6 279.6h1M427.2 296.3h1M432.1 283.2h1M428.3 313.3h1M389.6 315.4h1M443.1 310.2h1M458.9 311.9h1M392.4 314.1h1M399.5 303.7h1M389.7 325.2h1M437.1 317.3h1M377.7 290.9h1M379.6 307.0h1M404.2 248.5h1M412.7 249.2h1M388.5 253.8h1M393.6 249.1h1M403.1 246.0h1M383.9 244.8h1M405.0 252.5h1M391.2 249.2h1M402.7 248.4h1M400.6 250.7h1M408.5 245.9h1M393.5 252.0h1M395.6 250.2h1M396.5 250.2h1M402.8 244.7h1M405.2 249.9h1M416.9 251.1h1M397.2 249.4h1M408.0 248.2h1M396.8 251.2h1M413.1 243.0h1M403.6 248.5h1M402.7 250.5h1M387.8 248.6h1M393.3 245.1h1M393.7 253.9h1M406.1 248.4h1M393.9 245.2h1M428.3 249.9h1M391.0 244.6h1M400.6 256.7h1M409.4 250.2h1M403.8 251.6h1M401.6 247.2h1M404.0 243.8h1M396.0 250.8h1M405.5 254.9h1M399.4 248.7h1M400.4 251.9h1M401.5 247.0h1M413.6 242.5h1M391.9 246.5h1M399.3 245.9h1M417.4 250.1h1M402.0 250.1h1M410.7 248.3h1M389.0 253.2h1M397.1 247.7h1M398.2 250.3h1M403.6 250.7h1M398.4 249.6h1M416.7 247.9h1M415.1 248.3h1M414.6 248.3h1M397.8 243.9h1M390.9 244.8h1M394.6 246.2h1M404.1 251.0h1M396.1 251.7h1M395.9 250.2h1M410.7 255.8h1M407.1 245.8h1M411.8 246.1h1M395.6 251.2h1M390.2 246.5h1M396.3 247.0h1M402.1 244.8h1M408.9 256.3h1M404.1 251.6h1M393.3 246.1h1M409.3 254.4h1M400.2 256.1h1M405.2 253.8h1M386.5 251.7h1M391.2 250.0h1M393.4 256.6h1M407.7 251.2h1M397.9 247.9h1M379.4 249.7h1M400.2 249.8h1M396.1 250.3h1M395.4 241.4h1M390.5 251.1h1M400.1 241.5h1M421.0 251.8h1M411.2 244.9h1M401.0 253.1h1M394.6 246.7h1M384.5 243.1h1M401.9 251.4h1M386.1 254.4h1M401.5 248.0h1M390.8 248.5h1M401.0 247.0h1M415.2 243.5h1M409.3 254.5h1M400.0 250.1h1M403.0 252.2h1M400.0 247.8h1M404.8 247.5h1M415.9 245.7h1M385.4 253.8h1M404.1 249.9h1M403.2 250.0h1M416.1 251.9h1M388.9 254.4h1M376.8 247.6h1M395.5 244.9h1M406.5 252.3h1M411.3 251.3h1M397.1 246.0h1M413.5 249.2h1M390.3 255.0h1M397.3 254.8h1M390.3 254.2h1M400.5 246.1h1M395.3 243.6h1M400.2 255.6h1M406.3 252.0h1M395.0 252.4h1M392.7 254.4h1M395.7 257.2h1M403.0 253.6h1M399.7 250.8h1M389.5 249.7h1M419.5 254.2h1M410.0 243.7h1M395.6 252.6h1M407.1 257.6h1M398.5 245.6h1M389.8 248.8h1M399.7 241.5h1M385.1 249.8h1M389.8 247.6h1M422.5 249.6h1M383.6 256.3h1M396.2 246.7h1M403.5 251.3h1M410.6 249.8h1M395.6 250.5h1M402.0 253.4h1M398.4 249.5h1M422.5 249.4h1M414.1 240.7h1M384.0 250.9h1M409.8 246.2h1M400.2 247.4h1M390.3 249.1h1M394.8 249.9h1M413.9 247.2h1M400.0 247.1h1M392.7 249.3h1M407.9 251.2h1M397.8 253.3h1M377.5 247.2h1M381.7 245.0h1M406.0 252.5h1M409.5 254.7h1M405.4 242.9h1M410.5 245.0h1M394.3 253.8h1M388.2 248.8h1M401.0 254.4h1M405.6 251.0h1M407.2 247.4h1M413.5 249.3h1M407.1 252.6h1M385.8 245.6h1M395.4 255.2h1M401.0 248.6h1M399.7 251.9h1M394.5 250.8h1M394.9 250.8h1M408.2 246.3h1M401.2 250.6h1M386.0 255.7h1M398.9 255.6h1M416.6 250.9h1M391.5 246.1h1M392.4 253.2h1M407.9 249.6h1M400.6 255.7h1M410.1 251.6h1M390.7 247.7h1M408.2 251.7h1M400.3 254.5h1M389.7 249.7h1M411.5 249.9h1M406.5 252.9h1M401.1 249.8h1M401.7 250.5h1M405.9 247.7h1M395.4 256.5h1M396.7 251.1h1M404.4 248.2h1M397.0 252.9h1M397.9 249.6h1M399.0 254.6h1M382.4 246.3h1M391.4 248.8h1M388.2 253.2h1M401.9 251.0h1M395.6 246.5h1M409.5 243.6h1M395.6 250.0h1M403.6 250.0h1M391.9 249.9h1M400.1 254.1h1M396.8 250.3h1M398.5 256.7h1M391.4 241.3h1M418.1 252.4h1M398.9 249.0h1M397.5 248.4h1M403.2 252.9h1M400.6 249.6h1M390.5 250.4h1M407.3 254.8h1M411.0 255.5h1M404.1 252.3h1M396.5 248.6h1M392.8 250.9h1M395.8 246.0h1M393.6 250.1h1M397.2 254.0h1M395.8 247.1h1M413.2 248.3h1M400.1 252.6h1M413.0 256.5h1M404.1 250.1h1M408.0 248.4h1M401.2 250.2h1M399.2 254.0h1M402.0 251.4h1M407.6 251.2h1M405.1 247.1h1M404.6 245.2h1M393.7 250.9h1M396.2 253.8h1M391.3 252.1h1M403.3 246.0h1M406.2 247.4h1M391.6 247.3h1M379.6 257.8h1M402.6 251.9h1M406.0 248.1h1M416.8 254.9h1M404.8 252.7h1M418.0 251.4h1M387.5 253.8h1M392.5 246.4h1M404.3 246.5h1M404.7 246.9h1M407.1 249.8h1M401.2 252.2h1M385.8 238.7h1M386.5 251.5h1M386.8 256.6h1M397.8 245.8h1M384.4 247.3h1M404.4 259.3h1M401.3 244.9h1M393.4 249.8h1M416.3 246.8h1M377.8 251.2h1M397.6 247.2h1M390.7 248.9h1M404.6 248.3h1M392.2 253.9h1M395.7 248.1h1M402.9 244.7h1M406.9 249.1h1M391.4 250.8h1M393.9 248.2h1M408.3 247.2h1M403.6 254.7h1M390.2 249.9h1M397.5 245.1h1M407.8 252.9h1M386.4 254.3h1M398.5 246.8h1M402.6 248.1h1M399.3 245.8h1M401.9 254.5h1M401.3 246.6h1M398.6 253.9h1M395.2 253.9h1M393.6 246.4h1M397.1 252.9h1M410.6 248.7h1M399.3 255.0h1M403.9 246.8h1M373.0 247.1h1M413.5 256.9h1M391.0 252.4h1M394.1 251.6h1M399.6 252.5h1M395.8 246.7h1M398.1 251.8h1M405.8 249.0h1M393.7 248.1h1M388.7 256.2h1M420.3 249.7h1M395.2 242.9h1M397.2 244.8h1M395.5 238.6h1M394.4 250.0h1M395.4 248.6h1M424.8 252.6h1M393.5 247.8h1M391.6 248.8h1M410.7 246.6h1M390.1 249.5h1M386.3 245.1h1M398.1 252.2h1M394.5 249.9h1M389.5 249.4h1M376.6 245.7h1M405.2 249.4h1M405.0 252.9h1M403.7 258.0h1M388.0 252.6h1M414.7 246.9h1M382.1 243.2h1M399.9 249.7h1M410.2 260.5h1M394.8 248.2h1M403.6 246.5h1M427.6 250.7h1M412.6 242.4h1M391.1 247.9h1M395.2 246.0h1M406.6 251.1h1M383.3 254.4h1M396.4 252.9h1M392.7 247.1h1M386.4 259.0h1M416.0 240.6h1M396.7 252.4h1M400.9 253.5h1M400.8 249.5h1M421.9 250.1h1M395.6 244.4h1M394.7 248.6h1M411.5 244.7h1M419.2 250.5h1M394.4 248.8h1M382.4 249.7h1M395.1 247.9h1M399.5 249.7h1M384.7 255.1h1M412.8 249.0h1M387.0 252.1h1M408.8 247.2h1M410.6 254.5h1M382.5 249.7h1M409.4 249.2h1M432.0 253.9h1M402.9 249.9h1M399.2 249.0h1M417.7 249.0h1M401.4 251.1h1M392.9 256.6h1M405.0 250.4h1M385.0 244.7h1M396.6 246.4h1M403.3 247.6h1M395.1 251.5h1M399.8 251.6h1M407.0 246.9h1M388.6 250.2h1M392.1 245.1h1M400.3 251.1h1M406.1 245.2h1M390.8 239.3h1M384.2 246.0h1M415.5 242.8h1M421.2 257.7h1M404.6 247.5h1M401.8 251.7h1M394.4 250.9h1M395.0 249.0h1M402.9 249.8h1M400.5 245.5h1M418.0 240.5h1M399.0 248.0h1M388.1 243.2h1M395.3 248.1h1M380.0 249.3h1M422.5 251.1h1M415.7 251.9h1M409.8 252.2h1M383.6 253.2h1M414.3 251.8h1M398.7 248.7h1M401.2 260.7h1M395.5 252.5h1M401.3 254.5h1M382.8 250.5h1M403.6 250.4h1M418.4 259.6h1M419.3 251.3h1M411.5 248.8h1M466.5 246.9h1M440.9 251.6h1M436.6 254.0h1M444.3 245.1h1M402.8 244.3h1M412.0 251.5h1M412.1 249.5h1M422.4 253.1h1M424.6 247.2h1M424.7 250.1h1M418.4 252.6h1M447.8 256.9h1M440.5 260.6h1M427.6 249.6h1M417.9 260.0h1M435.5 245.1h1M408.3 249.9h1M427.4 246.3h1M424.4 247.3h1M422.8 244.7h1M440.2 250.5h1M423.1 251.8h1M448.0 252.0h1M424.6 248.4h1M421.4 248.7h1M425.7 253.3h1M440.9 251.8h1M428.4 256.0h1M441.3 249.0h1M446.8 250.8h1M466.3 253.7h1M418.4 246.5h1M397.0 255.7h1M434.6 250.4h1M415.2 255.1h1M414.0 246.2h1M426.1 251.3h1M459.8 260.5h1M456.9 252.6h1M421.3 242.2h1M442.4 256.9h1M408.0 256.9h1M438.5 254.0h1M435.9 253.3h1M429.0 253.8h1M451.5 248.3h1M427.9 256.5h1M447.0 242.1h1M422.5 253.0h1M410.7 251.3h1M414.2 240.2h1M433.9 248.9h1M407.4 252.4h1M430.5 253.7h1M415.5 252.8h1M419.1 247.0h1M401.6 257.5h1M409.3 251.9h1M414.9 254.5h1M414.8 250.8h1M445.9 244.0h1M401.1 244.6h1M422.8 252.3h1M421.9 247.7h1M431.0 245.0h1M420.0 252.5h1M440.2 255.1h1M396.4 249.6h1M402.8 244.6h1M442.9 253.6h1M430.7 252.6h1M449.4 249.5h1M463.4 258.3h1M403.6 248.9h1M433.9 251.0h1M447.0 248.6h1M427.1 251.8h1M413.3 248.7h1M450.0 255.6h1M418.0 245.2h1M431.7 255.5h1M445.1 245.5h1M429.1 245.4h1M413.8 258.6h1M436.1 243.3h1M414.5 252.0h1M406.7 256.5h1M410.5 247.4h1M441.9 256.2h1M445.8 255.6h1M415.9 248.5h1M423.6 256.0h1M424.2 252.5h1M416.7 241.0h1M395.6 244.8h1M424.5 254.5h1M449.5 251.4h1M411.9 245.9h1M456.0 248.2h1M414.1 253.4h1M430.4 261.9h1M429.5 257.0h1M402.7 252.7h1M411.8 247.8h1M443.5 250.0h1M445.6 246.5h1M402.8 251.9h1M424.6 251.1h1M433.8 249.7h1M423.5 248.8h1M424.0 250.5h1M417.6 253.8h1M429.6 246.5h1M417.0 249.2h1M412.1 251.8h1M420.6 258.9h1M400.9 247.9h1M394.5 248.0h1M449.9 250.9h1M440.0 254.6h1M444.7 259.8h1M424.4 258.1h1M422.6 252.5h1M443.0 252.2h1M415.7 254.2h1M459.4 247.2h1M447.4 242.8h1M424.3 250.5h1M405.0 243.3h1M425.9 248.6h1M404.0 247.8h1M441.8 253.2h1M432.4 254.1h1M418.8 258.3h1M451.1 255.2h1M450.4 258.3h1M430.4 253.8h1M418.2 244.7h1M428.4 254.2h1M399.9 249.9h1M406.7 258.4h1M412.8 256.9h1M431.5 247.9h1M408.3 248.9h1M427.8 247.3h1M414.4 248.1h1M425.5 247.5h1M415.9 253.5h1M420.3 242.6h1M428.1 256.6h1M439.5 256.9h1M405.4 247.0h1M423.5 255.0h1M441.4 254.9h1M427.3 255.8h1M414.3 247.4h1M423.4 251.8h1M417.5 253.2h1M440.7 247.9h1M454.5 260.1h1M456.5 255.7h1M446.0 247.9h1M437.2 246.5h1M415.6 253.4h1M448.0 252.1h1M438.0 254.1h1M388.0 254.6h1M420.1 251.5h1M401.3 248.9h1M423.5 250.9h1M413.6 248.7h1M447.7 247.1h1M435.9 252.1h1M433.0 249.6h1M443.3 250.6h1M433.3 252.9h1M435.8 245.9h1M425.1 244.1h1M410.6 245.7h1M444.4 247.1h1M439.0 263.8h1M441.9 252.4h1M408.0 240.0h1M411.5 255.3h1M427.5 256.9h1M443.2 254.8h1M456.1 250.3h1M421.3 249.5h1M439.7 257.9h1M420.4 252.9h1M406.3 250.7h1M418.7 260.1h1M428.1 244.8h1M397.8 256.4h1M420.5 241.6h1M450.1 252.3h1M413.1 249.6h1M426.1 249.2h1M433.3 247.3h1M422.3 248.8h1M417.2 253.1h1M438.7 252.7h1M418.2 250.3h1M431.5 248.0h1M407.2 255.7h1M441.4 245.0h1M444.1 242.1h1M395.9 248.1h1M419.1 256.5h1M413.0 253.1h1M422.5 251.3h1M420.9 248.6h1M439.3 253.4h1M421.5 251.5h1M417.8 247.2h1M418.4 257.1h1M425.6 248.3h1M400.6 251.3h1M381.7 272.2h1M433.1 272.2h1M452.7 256.7h1M386.9 255.4h1M462.8 262.6h1M433.9 274.6h1M380.8 274.0h1M390.6 251.5h1M386.1 272.3h1M404.6 257.8h1M445.6 246.5h1M383.7 223.6h1M424.9 268.4h1M410.3 247.4h1M417.7 247.9h1M458.7 270.4h1M419.9 249.9h1M377.1 246.9h1M433.9 258.2h1M460.9 248.0h1M386.5 245.2h1M403.2 269.1h1M450.5 255.0h1M373.6 267.8h1M373.9 260.3h1M399.3 272.7h1M394.9 276.3h1M426.3 245.8h1M467.1 237.8h1M412.1 265.7h1M454.7 268.5h1M392.1 241.4h1M444.9 274.4h1M432.0 256.0h1M462.9 257.6h1M407.0 254.4h1M382.1 238.1h1M405.1 260.0h1M426.2 254.1h1M430.1 277.2h1M445.3 252.7h1M415.4 245.3h1M426.1 233.0h1M442.1 259.7h1M402.0 249.1h1M453.1 261.3h1M446.4 271.6h1M408.9 254.4h1M420.8 268.7h1M382.0 255.6h1M446.0 263.9h1M412.4 265.9h1M398.0 266.8h1M426.6 245.9h1M441.1 257.4h1M375.7 263.9h1M387.1 257.9h1M376.9 251.6h1M395.5 270.1h1M416.2 276.1h1M442.6 269.6h1M409.7 258.8h1M456.1 270.0h1M426.4 241.3h1M375.1 265.4h1M411.5 260.7h1M423.2 268.7h1M450.3 239.5h1M375.7 251.5h1M408.5 251.0h1M383.6 257.7h1M376.8 253.9h1M444.9 258.4h1M416.3 253.7h1M455.4 261.4h1M403.2 244.1h1M407.5 260.5h1M435.2 252.5h1M409.1 270.9h1M398.5 265.3h1M414.2 250.3h1M411.2 253.1h1M438.4 266.1h1M464.4 264.3h1M384.0 268.7h1M380.4 256.5h1M380.4 258.4h1M423.4 258.5h1M452.5 261.8h1M386.3 266.9h1M444.0 251.0h1M415.5 257.9h1M397.2 243.7h1M427.1 262.3h1M420.2 260.3h1M458.3 262.9h1M428.8 278.3h1M465.4 243.2h1M444.5 244.9h1M441.7 266.0h1M418.1 267.4h1M384.6 246.4h1M431.9 259.2h1M401.6 234.1h1M426.6 268.3h1M402.7 260.5h1M454.1 264.6h1M382.3 277.2h1M406.6 271.6h1M455.3 259.0h1M450.9 256.5h1M392.2 274.6h1M449.9 256.2h1M375.1 261.2h1M393.6 260.1h1M421.8 253.2h1M392.1 272.8h1M395.7 265.2h1M453.9 257.9h1M388.4 251.9h1M465.8 252.0h1M438.0 252.1h1M435.9 252.2h1M456.2 218.9h1M457.9 266.6h1M400.7 264.7h1M388.0 273.1h1M458.6 279.5h1M450.2 248.7h1M459.0 249.1h1M374.8 234.2h1M377.2 266.0h1M409.1 270.1h1M421.8 254.1h1M373.0 254.4h1M466.4 262.6h1M467.5 262.5h1M421.0 242.4h1M402.4 278.9h1M447.2 250.9h1M405.2 239.9h1M411.6 261.7h1M462.2 245.8h1M442.1 251.6h1M403.9 251.9h1M418.7 250.5h1M389.1 252.6h1M374.4 223.0h1M399.5 264.4h1M421.0 257.7h1M399.6 247.4h1M406.9 258.4h1M464.1 254.4h1M378.1 264.5h1M428.6 252.1h1M462.3 268.8h1M449.6 275.9h1M419.7 250.3h1M408.1 257.9h1M394.4 251.8h1M413.7 266.0h1M382.1 248.7h1M464.2 258.3h1M377.5 268.7h1M457.6 270.1h1M420.9 268.3h1M382.9 272.5h1M456.8 255.9h1M435.3 246.6h1M482.0 303.4h1M482.3 303.9h1M482.9 299.8h1M479.8 309.5h1M482.1 318.2h1M481.7 300.9h1M481.1 307.2h1M482.1 312.7h1M482.1 307.2h1M476.7 302.9h1M480.2 304.5h1M478.6 322.7h1M484.3 307.6h1M476.2 304.5h1M478.7 316.6h1M482.3 311.2h1M482.5 314.2h1M480.9 316.4h1M479.2 317.0h1M479.0 309.1h1M483.0 294.4h1M479.3 310.6h1M481.8 293.8h1M480.8 314.9h1M482.6 306.9h1M481.8 303.1h1M476.6 301.5h1M478.9 294.6h1M484.6 325.2h1M482.4 312.3h1M481.9 308.9h1M485.2 298.9h1M481.0 314.4h1M483.0 313.3h1M489.4 323.7h1M491.9 321.8h1M481.1 308.3h1M480.3 302.3h1M480.1 290.5h1M477.0 308.7h1M477.5 304.3h1M475.9 313.0h1M483.4 308.6h1M479.5 298.3h1M484.5 303.2h1M483.5 301.6h1M481.9 298.8h1M483.3 320.9h1M477.7 307.1h1M483.0 319.7h1M481.6 318.6h1M478.8 318.8h1M487.5 310.7h1M479.1 282.2h1M484.0 315.5h1M483.0 304.0h1M481.8 295.2h1M484.6 316.6h1M480.5 297.1h1M480.3 314.5h1M480.1 318.3h1M482.6 306.8h1M481.2 304.5h1M481.6 298.4h1M483.9 309.9h1M482.5 301.2h1M478.6 314.5h1M482.5 312.0h1M478.3 313.4h1M485.1 311.0h1M480.2 308.3h1M478.2 312.1h1M479.9 295.7h1M479.7 299.7h1M484.6 300.3h1M482.0 317.5h1M484.8 314.4h1M478.8 315.2h1M485.2 313.7h1M476.2 314.9h1M472.6 304.1h1M478.7 311.3h1M480.9 304.5h1M484.7 316.5h1M478.1 325.2h1M482.7 322.6h1M480.1 305.6h1M484.4 306.2h1M479.0 310.0h1M480.6 304.2h1M482.8 311.3h1M486.2 304.7h1M481.8 299.6h1M477.1 295.6h1M481.8 308.8h1M479.5 302.1h1M484.9 301.0h1M483.4 318.7h1M482.4 317.5h1M479.0 291.3h1M477.9 318.8h1M481.0 309.3h1M481.7 309.6h1M482.2 303.2h1M479.4 309.8h1M480.5 306.0h1M483.0 305.2h1M480.8 313.8h1M478.7 319.5h1M478.7 303.3h1M484.8 291.8h1M481.9 322.2h1M484.7 293.8h1M483.6 307.9h1M491.2 316.1h1M481.5 314.2h1M485.3 308.6h1M483.8 306.4h1M479.8 303.2h1M482.9 301.2h1M487.2 319.0h1M485.8 301.9h1M479.7 310.4h1M482.6 303.1h1M477.7 303.8h1M479.7 322.7h1M480.3 312.1h1M479.0 314.2h1M481.0 307.7h1M484.1 308.6h1M484.5 319.7h1M489.9 310.3h1M477.5 310.1h1M477.4 293.7h1M488.7 317.8h1M479.1 309.5h1M479.9 300.6h1M483.1 322.7h1M484.6 303.2h1M482.9 322.5h1M485.8 310.9h1M479.9 306.4h1M476.3 319.9h1M483.3 312.6h1M482.1 312.5h1M481.1 308.6h1M477.6 301.6h1M478.2 321.6h1M476.9 320.0h1M485.1 319.7h1M478.7 314.7h1M480.4 288.7h1M481.5 319.0h1M484.9 286.5h1M479.9 320.8h1M485.1 301.1h1M482.1 301.6h1M481.1 315.3h1M481.3 312.7h1M481.3 292.8h1M477.9 302.7h1M481.7 294.1h1M480.3 301.7h1M476.9 317.5h1M481.1 311.7h1M478.8 297.5h1M486.3 314.6h1M480.2 294.2h1M480.6 289.1h1M481.5 306.0h1M474.8 308.4h1M476.9 313.4h1M483.7 308.6h1M483.0 316.1h1M483.7 309.3h1M483.2 315.4h1M480.4 312.3h1M479.7 298.1h1M481.3 304.0h1M474.9 302.9h1M483.7 314.2h1M478.0 320.0h1M481.5 309.5h1M482.6 310.4h1M489.9 300.5h1M479.5 311.2h1M480.2 317.2h1M478.3 302.7h1M482.3 318.9h1M484.7 307.8h1M486.0 304.5h1M483.9 309.4h1M475.7 300.8h1M484.5 311.2h1M483.0 312.1h1M479.8 316.1h1M480.8 310.0h1M478.4 307.3h1M483.3 315.1h1M479.5 306.0h1M487.4 296.4h1M483.2 300.1h1M480.7 301.4h1M479.7 306.8h1M479.6 309.0h1M481.9 308.0h1M478.3 301.9h1M481.6 312.2h1M485.9 320.7h1M475.8 294.5h1M483.1 315.1h1M485.9 307.7h1M481.8 300.4h1M479.8 308.5h1M484.3 304.3h1M485.4 322.1h1M479.3 319.8h1M482.4 308.2h1M482.4 303.2h1M480.4 307.3h1M481.6 303.7h1M484.9 318.8h1M480.7 313.7h1M487.4 310.7h1M483.5 324.4h1M481.2 304.6h1M478.8 305.5h1M480.2 306.7h1M479.0 311.7h1M485.3 302.4h1M482.2 298.1h1M481.4 312.7h1M481.1 307.5h1M478.8 312.2h1M485.0 289.7h1M486.6 308.6h1M484.8 300.8h1M482.1 305.7h1M483.9 308.8h1M480.9 305.4h1M482.1 300.8h1M479.8 312.0h1M487.3 301.0h1M478.9 312.9h1M480.7 312.7h1M480.7 308.9h1M480.7 304.5h1M479.8 309.3h1M484.8 302.3h1M479.7 313.3h1M488.4 307.5h1M482.3 304.0h1M484.0 301.0h1M484.6 310.5h1M478.3 317.3h1M485.5 312.6h1M483.5 321.0h1M479.4 292.5h1M482.9 300.1h1M480.2 306.7h1M482.3 304.7h1M485.4 318.0h1M483.5 301.8h1M478.7 309.8h1M482.5 314.6h1M480.5 296.7h1M480.7 292.7h1M482.0 310.4h1M484.3 312.2h1M481.8 309.9h1M485.2 300.1h1M480.2 315.3h1M478.5 301.4h1M480.3 302.9h1M479.7 315.1h1M475.6 307.0h1M482.4 308.7h1M482.1 314.1h1M480.0 316.5h1M482.5 300.4h1M483.2 297.7h1M480.7 302.6h1M485.2 305.9h1M478.8 303.1h1M481.4 319.1h1M484.7 298.0h1M480.2 323.9h1M485.0 315.6h1M482.9 318.7h1M480.3 290.6h1M477.9 307.5h1M478.6 311.1h1M481.3 292.9h1M479.2 309.6h1M481.2 311.6h1M480.0 313.0h1M482.2 301.1h1M481.6 297.4h1M481.2 316.0h1M480.1 312.5h1M482.6 311.7h1M479.8 309.4h1M477.3 318.6h1M483.6 311.4h1M483.9 293.0h1M480.3 300.6h1M481.7 308.9h1M482.2 315.9h1M483.3 301.3h1M479.3 293.3h1M480.7 292.7h1M480.0 321.1h1M479.4 320.3h1M481.9 305.8h1M476.8 299.4h1M479.1 304.7h1M485.0 322.5h1M481.6 307.8h1M482.0 315.7h1M478.6 301.8h1M483.2 305.7h1M479.4 314.5h1M481.8 296.3h1M481.2 298.4h1M480.0 305.2h1M480.4 312.3h1M482.9 314.4h1M480.3 308.7h1M476.5 304.8h1M482.7 312.6h1M479.3 308.6h1M475.9 284.1h1M483.1 307.6h1M482.3 313.1h1M481.0 307.7h1M480.4 303.3h1M483.7 308.5h1M480.9 319.7h1M476.6 293.3h1M478.4 298.4h1M485.5 318.0h1M478.7 320.2h1M480.8 320.6h1M480.0 289.7h1M481.5 292.5h1M486.1 320.7h1M484.4 305.3h1M479.8 312.3h1M481.5 307.0h1M482.0 309.3h1M483.7 291.3h1M482.4 313.6h1M481.4 297.2h1M481.5 308.8h1M483.4 293.3h1M481.3 311.2h1M480.7 308.2h1M477.2 295.1h1M478.8 314.1h1M482.7 298.5h1M478.9 304.6h1M481.2 306.1h1M479.3 298.2h1M483.4 302.3h1M486.5 318.8h1M482.7 314.2h1M478.6 305.0h1M479.1 297.6h1M487.5 315.9h1M480.9 310.1h1M477.3 300.1h1M480.5 301.2h1M482.2 298.2h1M478.7 307.1h1M475.5 294.3h1M479.4 314.0h1M480.7 295.2h1M479.3 298.4h1M483.3 315.6h1M480.7 298.3h1M483.0 288.4h1M480.2 301.0h1M482.3 303.8h1M481.9 308.1h1M475.1 314.6h1M478.2 301.6h1M483.5 312.9h1M486.9 303.4h1M481.7 306.7h1M486.5 317.0h1M483.0 304.4h1M483.8 304.1h1M477.4 300.7h1M479.8 307.5h1M480.6 304.2h1M479.8 306.5h1M483.1 304.5h1M479.5 302.7h1M480.7 303.6h1M485.1 311.6h1M480.6 299.6h1M480.4 309.4h1M479.5 313.6h1M483.4 309.2h1M480.3 297.4h1M481.7 308.5h1M475.5 307.2h1M480.7 297.3h1M480.9 322.6h1M480.8 307.9h1M483.2 321.5h1M481.6 301.2h1M484.5 304.8h1M484.8 312.4h1M480.6 314.7h1M478.2 301.6h1M483.4 301.1h1M475.4 313.2h1M478.2 299.3h1M483.8 320.2h1M481.0 299.7h1M483.2 313.0h1M478.9 298.1h1M481.7 301.1h1M482.3 304.5h1M486.4 298.1h1M484.8 316.0h1M481.1 308.0h1M479.4 297.5h1M480.1 306.8h1M477.6 299.8h1M480.5 313.3h1M483.7 319.5h1M483.0 316.9h1M474.5 324.4h1M482.8 315.8h1M478.7 303.7h1M479.0 300.6h1M484.2 306.6h1M481.5 308.8h1M482.7 302.4h1M481.2 303.7h1M485.5 313.3h1M480.7 303.1h1M486.3 308.5h1M488.3 299.8h1M481.2 304.4h1M477.8 317.7h1M484.8 305.8h1M480.1 317.6h1M483.6 316.5h1M478.2 319.3h1M477.2 317.8h1M481.3 307.1h1M483.3 311.6h1M482.2 305.3h1M483.1 303.7h1M483.2 318.8h1M479.8 287.4h1M482.5 311.6h1M477.5 310.8h1M483.0 299.3h1M480.8 306.5h1M477.8 311.1h1M481.8 304.5h1M482.6 298.7h1M482.5 299.4h1M481.6 307.3h1M485.4 292.0h1M481.1 316.0h1M480.7 315.3h1M485.9 313.1h1M477.8 307.3h1M480.0 297.2h1M483.5 304.2h1M482.1 299.9h1M479.9 317.2h1M480.9 309.9h1M477.3 292.7h1M483.7 303.3h1M480.9 307.8h1M477.6 292.1h1M479.1 300.4h1M478.1 305.7h1M482.8 301.3h1M483.8 306.8h1M478.6 317.1h1M489.6 314.0h1M480.7 312.4h1M485.6 300.3h1M482.6 300.7h1M478.6 306.6h1M479.8 292.8h1M481.1 296.7h1M480.0 312.7h1M485.0 312.8h1M482.3 293.3h1M482.2 296.8h1M485.4 310.0h1M483.9 296.4h1M482.4 311.5h1M482.5 322.6h1M479.5 321.2h1M480.7 297.0h1M481.4 308.3h1M476.5 299.0h1M486.3 309.8h1M481.9 294.2h1M481.2 299.8h1M480.1 305.0h1M484.1 298.9h1M480.2 306.3h1M479.8 317.7h1M483.1 303.7h1M483.8 303.2h1M484.4 320.6h1M481.4 303.4h1M485.0 294.0h1M484.4 305.5h1M478.3 295.9h1M486.9 316.3h1M478.5 287.4h1M478.2 321.7h1M482.5 305.0h1M478.1 312.2h1M476.3 302.6h1M483.6 312.7h1M485.3 296.9h1M479.8 293.5h1M484.1 305.7h1M486.4 321.7h1M484.0 299.2h1M481.5 316.3h1M480.0 314.1h1M481.7 312.2h1M482.9 312.2h1M479.0 301.0h1M480.4 300.4h1M486.6 297.5h1M480.6 312.4h1M481.0 291.3h1M479.2 301.7h1M480.7 311.1h1M482.5 314.3h1M485.3 312.5h1M481.3 315.3h1M481.4 293.8h1M480.5 306.5h1M482.2 307.3h1M480.0 296.7h1M483.4 296.4h1M487.5 310.2h1M480.7 301.8h1M479.3 306.4h1M478.3 307.8h1M485.8 291.9h1M480.4 308.6h1M482.7 294.3h1M486.2 290.6h1M478.5 313.6h1M482.7 287.2h1M485.9 286.5h1M481.3 300.5h1M484.9 288.0h1M479.0 320.7h1M487.4 296.4h1M479.7 285.7h1M480.2 325.2h1M484.5 293.9h1M472.5 307.4h1M486.7 302.9h1M483.3 325.2h1M470.0 304.4h1M485.9 280.2h1M480.6 307.0h1M483.7 286.5h1M485.2 311.4h1M485.2 308.9h1M485.0 298.3h1M470.4 306.6h1M486.3 309.1h1M486.9 325.2h1M470.4 299.2h1M472.2 310.7h1M473.7 290.3h1M476.1 301.6h1M474.2 295.9h1M474.7 277.6h1M485.1 306.8h1M492.0 286.4h1M477.3 296.9h1M466.0 279.3h1M490.0 298.8h1M471.6 308.7h1M474.0 310.8h1M475.3 297.6h1M482.4 293.4h1M477.3 305.3h1M484.3 314.9h1M487.0 295.8h1M479.4 305.6h1M474.7 300.3h1M478.2 278.9h1M486.8 289.7h1M483.5 315.9h1M493.0 314.0h1M485.0 299.1h1M481.2 307.2h1M482.3 307.1h1M485.2 283.9h1M480.0 312.3h1M479.0 299.3h1M480.3 318.2h1M476.3 311.4h1M484.9 297.6h1M474.7 306.4h1M485.4 291.6h1M483.5 314.9h1M482.0 308.5h1M487.5 314.3h1M486.5 290.6h1M485.1 309.3h1M489.7 304.5h1M491.5 325.2h1M480.8 297.8h1M478.4 310.9h1M479.2 313.2h1M479.0 312.4h1M485.5 317.7h1M481.0 302.8h1M484.4 310.1h1M479.0 274.6h1M490.9 313.0h1M474.7 295.5h1M475.9 296.1h1M474.0 307.1h1M482.2 287.6h1M481.5 292.5h1M486.3 296.2h1M482.0 314.6h1M483.2 320.4h1M484.0 295.5h1M483.9 284.2h1M482.1 304.5h1M483.7 300.1h1M474.5 288.1h1M481.9 302.2h1M482.1 255.0h1M484.8 250.4h1M479.8 247.9h1M480.4 251.2h1M477.9 247.0h1M479.7 246.5h1M480.7 252.3h1M481.6 244.3h1M481.8 250.2h1M485.0 256.5h1M476.7 251.7h1M482.0 257.7h1M478.9 248.0h1M484.2 243.6h1M487.3 247.4h1M483.4 256.0h1M483.6 250.4h1M481.3 254.2h1M478.8 249.2h1M484.4 256.2h1M480.0 251.9h1M478.8 247.7h1M483.3 244.0h1M481.0 247.4h1M482.3 248.6h1M483.5 254.7h1M480.0 249.2h1M478.0 250.6h1M483.9 248.7h1M482.2 242.6h1M482.9 249.2h1M482.6 250.3h1M478.9 245.8h1M482.0 247.9h1M484.7 258.5h1M484.0 250.6h1M483.2 245.3h1M477.5 252.0h1M476.8 254.6h1M481.5 242.7h1M485.9 249.7h1M484.0 250.2h1M480.6 249.7h1M483.3 253.6h1M484.8 251.9h1M484.7 250.2h1M482.6 256.3h1M480.7 248.9h1M484.0 255.1h1M483.4 249.1h1M481.7 260.4h1M482.3 253.9h1M484.1 252.7h1M479.6 251.4h1M481.4 252.2h1M481.6 254.2h1M476.8 250.5h1M482.6 243.2h1M480.6 253.5h1M479.0 254.8h1M481.4 254.1h1M483.7 261.7h1M485.2 250.0h1M483.3 252.9h1M482.0 256.3h1M478.7 243.2h1M484.4 243.4h1M482.2 251.6h1M482.1 253.9h1M483.2 248.0h1M485.1 248.8h1M483.6 251.3h1M483.7 251.8h1M482.6 242.9h1M482.5 252.1h1M477.7 246.7h1M480.0 255.9h1M476.8 249.8h1M481.4 247.8h1M478.1 251.8h1M480.1 255.4h1M481.9 245.3h1M482.5 246.9h1M478.2 253.5h1M482.4 255.2h1M478.2 248.4h1M479.6 248.3h1M479.3 249.4h1M485.2 243.2h1M482.8 255.0h1" stroke="#000" stroke-width="1" stroke-opacity=".9" fill="none" transform="translate(-0.5,0)"/>
<rect x="361.6" y="210.6" width="151.6" height="114.6" fill="none" stroke="#2a2a2a" stroke-width="1"/>
<path d="M468.8 210.6V325.2M361.6 280.1H513.2" stroke="#2a2a2a" stroke-width="1" fill="none"/>
<path d="M361.60 325.2v3.6M361.6 325.20h-3.8M373.01 325.2v1.8M361.6 316.58h-2M379.68 325.2v1.8M361.6 311.53h-2M384.42 325.2v1.8M361.6 307.95h-2M388.09 325.2v1.8M361.6 305.17h-2M391.09 325.2v1.8M361.6 302.91h-2M393.63 325.2v1.8M361.6 300.99h-2M395.83 325.2v1.8M361.6 299.33h-2M397.77 325.2v1.8M361.6 297.86h-2M399.50 325.2v3.6M361.6 296.55h-3.8M410.91 325.2v1.8M361.6 287.93h-2M417.58 325.2v1.8M361.6 282.88h-2M422.32 325.2v1.8M361.6 279.30h-2M425.99 325.2v1.8M361.6 276.52h-2M428.99 325.2v1.8M361.6 274.26h-2M431.53 325.2v1.8M361.6 272.34h-2M433.73 325.2v1.8M361.6 270.68h-2M435.67 325.2v1.8M361.6 269.21h-2M437.40 325.2v3.6M361.6 267.90h-3.8M448.81 325.2v1.8M361.6 259.28h-2M455.48 325.2v1.8M361.6 254.23h-2M460.22 325.2v1.8M361.6 250.65h-2M463.89 325.2v1.8M361.6 247.87h-2M466.89 325.2v1.8M361.6 245.61h-2M469.43 325.2v1.8M361.6 243.69h-2M471.63 325.2v1.8M361.6 242.03h-2M473.57 325.2v1.8M361.6 240.56h-2M475.30 325.2v3.6M361.6 239.25h-3.8M486.71 325.2v1.8M361.6 230.63h-2M493.38 325.2v1.8M361.6 225.58h-2M498.12 325.2v1.8M361.6 222.00h-2M501.79 325.2v1.8M361.6 219.22h-2M504.79 325.2v1.8M361.6 216.96h-2M507.33 325.2v1.8M361.6 215.04h-2M509.53 325.2v1.8M361.6 213.38h-2M511.47 325.2v1.8M361.6 211.91h-2M513.20 325.2v3.6M361.6 210.60h-3.8" stroke="#222" stroke-width="1" fill="none"/>
<g font-family='"Liberation Sans", "DejaVu Sans", sans-serif' font-size="7.4" fill="#1a1a1a" stroke="#1a1a1a" stroke-width=".3">
<text transform="translate(361.9 335.5) scale(.96 1.07)" text-anchor="middle">10<tspan dy="-2.5" font-size="6.2">0</tspan></text>
<text transform="translate(355.2 330.9) rotate(-90) scale(.85 1.2)">10<tspan dy="-3.8" font-size="5.8">0</tspan></text>
<text transform="translate(399.8 335.5) scale(.96 1.07)" text-anchor="middle">10<tspan dy="-2.5" font-size="6.2">1</tspan></text>
<text transform="translate(355.2 302.2) rotate(-90) scale(.85 1.2)">10<tspan dy="-3.8" font-size="5.8">1</tspan></text>
<text transform="translate(437.7 335.5) scale(.96 1.07)" text-anchor="middle">10<tspan dy="-2.5" font-size="6.2">2</tspan></text>
<text transform="translate(355.2 273.6) rotate(-90) scale(.85 1.2)">10<tspan dy="-3.8" font-size="5.8">2</tspan></text>
<text transform="translate(475.6 335.5) scale(.96 1.07)" text-anchor="middle">10<tspan dy="-2.5" font-size="6.2">3</tspan></text>
<text transform="translate(355.2 244.9) rotate(-90) scale(.85 1.2)">10<tspan dy="-3.8" font-size="5.8">3</tspan></text>
<text transform="translate(513.5 335.5) scale(.96 1.07)" text-anchor="middle">10<tspan dy="-2.5" font-size="6.2">4</tspan></text>
<text transform="translate(355.2 216.3) rotate(-90) scale(.85 1.2)">10<tspan dy="-3.8" font-size="5.8">4</tspan></text>
<text x="436.9" y="343.2" text-anchor="middle" font-size="7.2">FL1-H</text>
<text transform="translate(344.3 269.4) rotate(-90)" text-anchor="middle" font-size="7.0">FL2-H</text>
</g>
<g font-family='"Liberation Serif", "DejaVu Serif", serif' font-weight="bold" font-size="15.9" fill="#0c0c0c" stroke="#0c0c0c" stroke-width=".35">
<text x="366.1" y="229.6">40.1%</text>
<text x="471.6" y="229.6">59.9%</text>
</g>
</g>
<g>
<rect x="54.7" y="465.0" width="294.6" height="137.4" fill="none" stroke="#7c7c7c" stroke-width="1.1"/>
<path d="M54.7 602.40h-4.2M54.7 574.92h-4.2M54.7 547.44h-4.2M54.7 519.96h-4.2M54.7 492.48h-4.2M54.7 465.00h-4.2M54.70 602.4v3.6M152.90 602.4v3.6M251.10 602.4v3.6M349.30 602.4v3.6" stroke="#777" stroke-width="1" fill="none"/>
<g font-family='"Liberation Serif", "DejaVu Serif", serif' font-weight="bold" font-size="13.3" fill="#0c0c0c" stroke="#0c0c0c" stroke-width=".25">
<text x="44" y="607.0" text-anchor="end">0</text>
<text x="44" y="579.5" text-anchor="end">20</text>
<text x="44" y="552.0" text-anchor="end">40</text>
<text x="44" y="524.6" text-anchor="end">60</text>
<text x="44" y="497.1" text-anchor="end">80</text>
<text x="44" y="469.6" text-anchor="end">100</text>
<text x="103.0" y="625.0" text-anchor="middle">d3</text>
<text x="201.1" y="625.0" text-anchor="middle">d7</text>
<text x="299.3" y="625.0" text-anchor="middle">d10</text>
</g>
<text transform="translate(14.2 582.3) rotate(-90)" font-family='"Liberation Serif", "DejaVu Serif", serif' font-weight="bold" font-size="15.5" fill="#0c0c0c" stroke="#0c0c0c" stroke-width=".25">% stained cells</text>
<polyline points="103.5,499.4 201.6,495.2 299.8,492.5" fill="none" stroke="#666" stroke-width="1"/>
<polyline points="103.5,498.0 201.6,481.5 299.8,526.8" fill="none" stroke="#666" stroke-width="1"/>
<polyline points="103.5,581.8 201.6,581.8 299.8,579.0" fill="none" stroke="#222" stroke-width="1.3"/>
<polyline points="103.5,581.8 201.6,590.0 299.8,540.6" fill="none" stroke="#111" stroke-width="1.65" stroke-linejoin="round"/>
<path d="M103.5 495.8l3.7 3.6l-3.7 3.6l-3.7 -3.6z" fill="#111"/>
<path d="M201.6 491.6l3.7 3.6l-3.7 3.6l-3.7 -3.6z" fill="#111"/>
<path d="M299.8 488.9l3.7 3.6l-3.7 3.6l-3.7 -3.6z" fill="#111"/>
<rect x="100.2" y="494.7" width="6.6" height="6.6" fill="#111"/>
<rect x="198.3" y="478.2" width="6.6" height="6.6" fill="#111"/>
<rect x="296.5" y="523.5" width="6.6" height="6.6" fill="#111"/>
<path d="M103.5 578.8l2.9 5.2h-5.8z" fill="#111"/>
<path d="M201.6 578.8l2.9 5.2h-5.8z" fill="#111"/>
<path d="M299.8 576.0l2.9 5.2h-5.8z" fill="#111"/>
<path d="M100.8 579.1l5.4 5.4m0 -5.4l-5.4 5.4" stroke="#333" stroke-width="0.8" fill="none"/>
<path d="M198.9 587.3l5.4 5.4m0 -5.4l-5.4 5.4" stroke="#333" stroke-width="0.8" fill="none"/>
<path d="M297.1 537.9l5.4 5.4m0 -5.4l-5.4 5.4" stroke="#333" stroke-width="0.8" fill="none"/>
</g>
<g>
<rect x="54.7" y="651.1" width="294.6" height="138.2" fill="none" stroke="#7c7c7c" stroke-width="1.1"/>
<path d="M54.7 789.30h-4.2M54.7 720.20h-4.2M54.7 651.10h-4.2M54.70 789.3v3.6M152.90 789.3v3.6M251.10 789.3v3.6M349.30 789.3v3.6" stroke="#777" stroke-width="1" fill="none"/>
<g font-family='"Liberation Serif", "DejaVu Serif", serif' font-weight="bold" font-size="13.3" fill="#0c0c0c" stroke="#0c0c0c" stroke-width=".25">
<text x="44" y="793.9" text-anchor="end">0</text>
<text x="44" y="724.8" text-anchor="end">20</text>
<text x="44" y="655.7" text-anchor="end">40</text>
<text x="103.0" y="811.9" text-anchor="middle">d3</text>
<text x="201.1" y="811.9" text-anchor="middle">d7</text>
<text x="299.3" y="811.9" text-anchor="middle">d10</text>
</g>
<text transform="translate(20.8 780.8) rotate(-90)" font-family='"Liberation Serif", "DejaVu Serif", serif' font-weight="bold" font-size="15.9" fill="#0c0c0c" stroke="#0c0c0c" stroke-width=".25">cell number (x10<tspan dy="-7.4" font-size="8.6">5</tspan><tspan dy="7.4">)</tspan></text>
<polyline points="103.5,737.5 201.6,740.6 299.8,727.5" fill="none" stroke="#666" stroke-width="1"/>
<polyline points="103.5,736.4 201.6,704.0 299.8,709.5" fill="none" stroke="#666" stroke-width="1"/>
<polyline points="103.5,778.9 201.6,779.8 299.8,775.8" fill="none" stroke="#222" stroke-width="1.3"/>
<polyline points="103.5,778.9 201.6,780.0 299.8,724.7" fill="none" stroke="#111" stroke-width="1.65" stroke-linejoin="round"/>
<path d="M103.5 733.9l3.7 3.6l-3.7 3.6l-3.7 -3.6z" fill="#111"/>
<path d="M201.6 737.0l3.7 3.6l-3.7 3.6l-3.7 -3.6z" fill="#111"/>
<path d="M299.8 723.9l3.7 3.6l-3.7 3.6l-3.7 -3.6z" fill="#111"/>
<rect x="100.2" y="733.1" width="6.6" height="6.6" fill="#111"/>
<rect x="198.3" y="700.7" width="6.6" height="6.6" fill="#111"/>
<rect x="296.5" y="706.2" width="6.6" height="6.6" fill="#111"/>
<path d="M103.5 775.9l2.9 5.2h-5.8z" fill="#111"/>
<path d="M201.6 776.8l2.9 5.2h-5.8z" fill="#111"/>
<path d="M299.8 772.8l2.9 5.2h-5.8z" fill="#111"/>
<path d="M100.8 776.2l5.4 5.4m0 -5.4l-5.4 5.4" stroke="#333" stroke-width="0.8" fill="none"/>
<path d="M198.9 777.3l5.4 5.4m0 -5.4l-5.4 5.4" stroke="#333" stroke-width="0.8" fill="none"/>
<path d="M297.1 722.0l5.4 5.4m0 -5.4l-5.4 5.4" stroke="#333" stroke-width="0.8" fill="none"/>
</g>
<g font-family='"Liberation Serif", "DejaVu Serif", serif' font-weight="bold" font-size="14.15" fill="#0c0c0c" stroke="#0c0c0c" stroke-width=".25">
<path d="M376.9 586.8l3 4.1l-3 4.1l-3 -4.1z" stroke="none"/>
<text x="387.6" y="595.2">CD3+ mock</text>
<rect x="374.9" y="615.4" width="5.8" height="5.6" stroke="none"/>
<text x="388.8" y="620.8">CD3+ HCMV</text>
<path d="M379 637.4l4.9 8.8h-9.8z" stroke="none"/>
<text x="389.8" y="646.1">CD3- CD56+ mock</text>
<text x="374.8" y="671.5" font-size="13">x</text>
<text x="392.4" y="671.5">CD3- CD56+ HCMV</text>
</g>
</svg>
</body></html>
